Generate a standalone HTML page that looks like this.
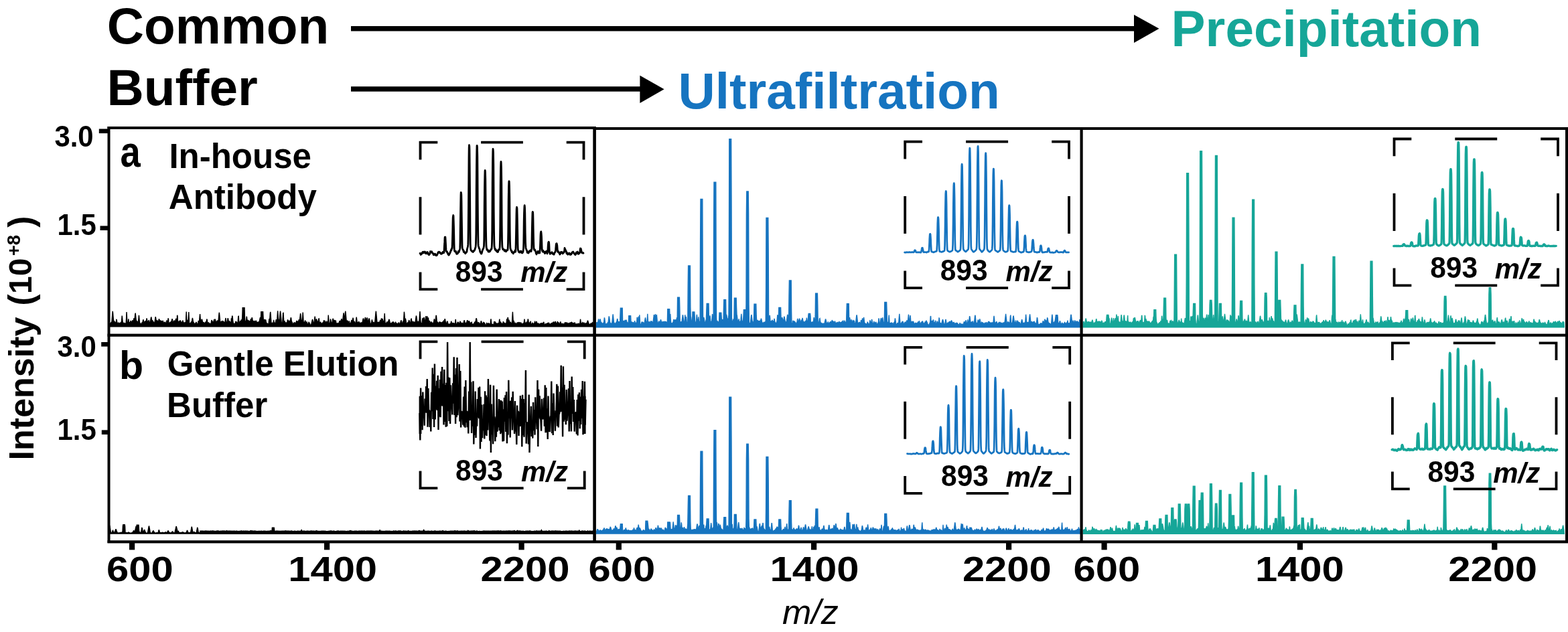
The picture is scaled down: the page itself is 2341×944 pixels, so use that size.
<!DOCTYPE html>
<html><head><meta charset="utf-8"><title>Spectra</title>
<style>html,body{margin:0;padding:0;background:#fff;}svg{display:block;}</style>
</head><body>
<svg width="2341" height="944" viewBox="0 0 2341 944" font-family='"Liberation Sans", Arial, sans-serif'>
<rect width="2341" height="944" fill="#fff"/>
<text transform="translate(159.7,65.3) scale(1.0,1.0)" font-size="76.5" font-weight="bold" font-style="normal" fill="#000" >Common</text>
<text transform="translate(159.6,157) scale(1.0,1.0)" font-size="76.5" font-weight="bold" font-style="normal" fill="#000" >Buffer</text>
<text transform="translate(1012.4,162) scale(1.0,1.0)" font-size="76.5" font-weight="bold" font-style="normal" fill="#1674c0" >Ultrafiltration</text>
<text transform="translate(1748.6,69) scale(1.0,1.0)" font-size="76.5" font-weight="bold" font-style="normal" fill="#16a698" >Precipitation</text>
<rect x="524" y="39" width="1172" height="7.5" fill="#000"/>
<polygon points="1693,22 1730.5,42.8 1693,64" fill="#000"/>
<rect x="524" y="129.2" width="433" height="7.5" fill="#000"/>
<polygon points="955.4,112.8 991.6,133.2 955.4,154" fill="#000"/>
<polygon points="163.7,487.9 163.8,484.4 164.2,482.6 164.6,483.6 165,483.8 165.4,482.5 165.8,481.4 166.2,481.9 166.6,481.7 167,479.8 167.4,474.9 167.8,469.9 168.2,464.9 168.6,467.8 169,472.8 169.4,477.8 169.8,480 170.2,479.4 170.6,479.9 171,480.5 171.4,481.3 171.8,481.7 172.2,482.6 172.6,482.5 173,482 173.4,480.3 173.8,477.4 174.2,477.6 174.6,480.5 175,483.4 175.4,483.1 175.8,482.7 176.2,483.4 176.6,482.5 177,482.2 177.4,482.2 177.8,482.7 178.2,483 178.6,482.9 179,483.5 179.4,484 179.8,483.2 180.2,481.6 180.6,481.3 181,482.1 181.4,481.5 181.8,476.6 182.2,471.6 182.6,474.7 183,479.7 183.4,482.5 183.8,482.9 184.2,482.6 184.6,483.4 185,482.8 185.4,482.4 185.8,482.5 186.2,483.2 186.6,483.8 187,484 187.4,483.9 187.8,482.6 188.2,482.2 188.6,475.9 189,466 189.4,472.7 189.8,482.7 190.2,482.2 190.6,481.9 191,482.6 191.4,479.5 191.8,476.4 192.2,479.2 192.6,482.3 193,482.2 193.4,481.7 193.8,481.7 194.2,482.2 194.6,480.9 195,479.6 195.4,479.4 195.8,480.7 196.2,480.7 196.6,481.2 197,483.3 197.4,480.9 197.8,478.3 198.2,479.3 198.6,481.9 199,482.3 199.4,479.2 199.8,475.4 200.2,477.9 200.6,479.8 201,477.6 201.4,473.5 201.8,469.4 202.2,467.6 202.6,471.7 203,475.8 203.4,479.8 203.8,480.7 204.2,479.9 204.6,479.6 205,480.6 205.4,481.7 205.8,482.7 206.2,483.3 206.6,480.1 207,475.4 207.4,470.7 207.8,474.5 208.2,479.1 208.6,482.5 209,482.5 209.4,483.1 209.8,484 210.2,484 210.6,484.6 211,483.8 211.4,483 211.8,482.2 212.2,481.8 212.6,481.9 213,481 213.4,479.2 213.8,477.3 214.2,478.3 214.6,480.2 215,482 215.4,481.2 215.8,481.6 216.2,480.9 216.6,480.1 217,480.2 217.4,479.7 217.8,480.4 218.2,480.9 218.6,478.1 219,475.4 219.4,477 219.8,479.7 220.2,481.1 220.6,480.4 221,479.9 221.4,479.9 221.8,480.3 222.2,478 222.6,479.4 223,481.8 223.4,484.1 223.8,483.2 224.2,481.9 224.6,479.5 225,477.2 225.4,474.8 225.8,473.4 226.2,475.8 226.6,478.2 227,480.5 227.4,479.2 227.8,478.9 228.2,480.2 228.6,481.5 229,480.8 229.4,481.4 229.8,482.1 230.2,482.6 230.6,483.1 231,481.3 231.4,478.6 231.8,475.9 232.2,473.1 232.6,474.9 233,477.6 233.4,479.9 233.8,480.2 234.2,480 234.6,478.4 235,479.1 235.4,480.7 235.8,481.9 236.2,481.1 236.6,479.9 237,478.1 237.4,476.4 237.8,477.1 238.2,478.8 238.6,480.6 239,479 239.4,478.6 239.8,480.4 240.2,480.9 240.6,479.9 241,479.1 241.4,480.2 241.8,480.4 242.2,481.4 242.6,480.6 243,479.1 243.4,479.5 243.8,481 244.2,482 244.6,481.9 245,481.9 245.4,482 245.8,481.8 246.2,481.3 246.6,482 247,482.8 247.4,481.8 247.8,482.6 248.2,483.2 248.6,480.1 249,478.3 249.4,481.4 249.8,484.1 250.2,481.8 250.6,480.7 251,475.9 251.4,475.6 251.8,480.5 252.2,483.1 252.6,483 253,482.7 253.4,482.9 253.8,481.5 254.2,481.4 254.6,481.6 255,481.4 255.4,480.2 255.8,480 256.2,480.2 256.6,478.2 257,476.1 257.4,477.4 257.8,479.4 258.2,481.5 258.6,483.2 259,481.9 259.4,480.6 259.8,479.3 260.2,478.7 260.6,480 261,481.3 261.4,480.5 261.8,479.2 262.2,477.9 262.6,476.6 263,476 263.4,477.3 263.8,478.6 264.2,479.3 264.6,470.9 265,471.6 265.4,480 265.8,483.4 266.2,482.4 266.6,480.6 267,480.9 267.4,480.3 267.8,479.6 268.2,480.1 268.6,480 269,479.7 269.4,478.4 269.8,479.6 270.2,480.9 270.6,480.9 271,481.7 271.4,482.5 271.8,482.6 272.2,481.8 272.6,479.4 273,478.5 273.4,481.3 273.8,481.7 274.2,482.5 274.6,481.4 275,482.5 275.4,482.1 275.8,482.1 276.2,481.8 276.6,482.9 277,483.5 277.4,484 277.8,474 278.2,465.6 278.6,477.3 279,482.1 279.4,480 279.8,478.8 280.2,478.3 280.6,478.4 281,479.2 281.4,472.4 281.8,466 282.2,475.1 282.6,482.7 283,483.3 283.4,484.2 283.8,484 284.2,482.5 284.6,482.4 285,481.8 285.4,481.1 285.8,481.4 286.2,481.5 286.6,479.3 287,477.1 287.4,474.9 287.8,476.9 288.2,479.1 288.6,481.3 289,481.5 289.4,482.1 289.8,482.8 290.2,483.4 290.6,484 291,484.5 291.4,483 291.8,483.7 292.2,482.4 292.6,481.8 293,481.4 293.4,481.7 293.8,482.8 294.2,483.7 294.6,484.3 295,483.8 295.4,485 295.8,482.2 296.2,479 296.6,479.7 297,480.9 297.4,480.2 297.8,477.3 298.2,472.4 298.6,469 299,473.9 299.4,478.8 299.8,480.2 300.2,479.3 300.6,477.7 301,478.3 301.4,476.6 301.8,478 302.2,479.7 302.6,481.4 303,482.9 303.4,482.4 303.8,481.2 304.2,481.7 304.6,482 305,482.7 305.4,483.2 305.8,482.8 306.2,482.2 306.6,481.7 307,481.1 307.4,480.7 307.8,481.3 308.2,480.3 308.6,477.6 309,476.5 309.4,479.2 309.8,481.9 310.2,482.6 310.6,482.7 311,482.1 311.4,482.6 311.8,482.2 312.2,482.8 312.6,483.1 313,483.5 313.4,483.5 313.8,484.1 314.2,483.9 314.6,483.5 315,483.4 315.4,481 315.8,478.7 316.2,478.2 316.6,480.6 317,480.9 317.4,480.6 317.8,481.2 318.2,481.5 318.6,481.9 319,480.1 319.4,477.8 319.8,477.5 320.2,479.8 320.6,478.8 321,477.1 321.4,477.1 321.8,478.8 322.2,480.5 322.6,480.8 323,480.2 323.4,481.5 323.8,480.8 324.2,478.8 324.6,479.2 325,480.6 325.4,479.5 325.8,479.9 326.2,477.3 326.6,473 327,468.7 327.4,466.7 327.8,471 328.2,475.3 328.6,479.6 329,480.5 329.4,480.8 329.8,481.2 330.2,480.8 330.6,480.5 331,481 331.4,479.9 331.8,479 332.2,480.1 332.6,481.1 333,480.6 333.4,480.7 333.8,480.2 334.2,481.2 334.6,481.6 335,482.1 335.4,481.7 335.8,482.3 336.2,480.1 336.6,476.8 337,475 337.4,478.4 337.8,481.7 338.2,482.1 338.6,481.8 339,481.6 339.4,479.7 339.8,477.4 340.2,475.2 340.6,476.5 341,478.7 341.4,479.7 341.8,480.4 342.2,479.1 342.6,480.2 343,480.5 343.4,481.3 343.8,482.9 344.2,483 344.6,483 345,480.7 345.4,475.4 345.8,478.2 346.2,476.4 346.6,472.2 347,471.7 347.4,475.9 347.8,480.2 348.2,482.1 348.6,483.3 349,485.3 349.4,484.8 349.8,483.8 350.2,484 350.6,484 351,482.8 351.4,482.1 351.8,480.5 352.2,480.8 352.6,480.7 353,480.9 353.4,481.3 353.8,481.9 354.2,482.7 354.6,483.6 355,483.7 355.4,478.1 355.8,472.5 356.2,472.3 356.6,477.9 357,482.9 357.4,484.2 357.8,482.9 358.2,481.5 358.6,480.1 359,479.2 359.4,480.2 359.8,479.8 360.2,477.3 360.6,479 361,479.9 361.4,477.2 361.8,473.8 362.2,459.7 362.6,459.7 363,459.7 363.4,459.7 363.8,459.7 364.2,459.7 364.6,459.7 365,459.7 365.4,473.8 365.8,479.1 366.2,479.4 366.6,479.7 367,481.1 367.4,481.9 367.8,477.3 368.2,472.6 368.6,474.5 369,479.2 369.4,479.3 369.8,477.7 370.2,479.2 370.6,480.2 371,479.1 371.4,478.7 371.8,480.5 372.2,480 372.6,480 373,479.8 373.4,481.2 373.8,479.6 374.2,477.6 374.6,476.1 375,478.2 375.4,478.8 375.8,476.4 376.2,474.1 376.6,475.3 377,477.6 377.4,479.9 377.8,481.7 378.2,480.4 378.6,479.1 379,480 379.4,481.3 379.8,482.6 380.2,481.3 380.6,479.5 381,479.1 381.4,480.9 381.8,481.3 382.2,479.7 382.6,479.4 383,481 383.4,481.6 383.8,481.6 384.2,481.8 384.6,482 385,480.6 385.4,482.2 385.8,482.6 386.2,482.8 386.6,480.6 387,480.5 387.4,479.1 387.8,477.3 388.2,475.4 388.6,473.9 389,475.7 389.4,477.5 389.8,465.7 390.2,465.7 390.6,465.7 391,465.7 391.4,465.7 391.8,465.7 392.2,465.7 392.6,465.7 393,473.1 393.4,479.8 393.8,478.3 394.2,478.2 394.6,478.2 395,477.1 395.4,478.1 395.8,479.6 396.2,479.1 396.6,477.3 397,479.1 397.4,480.9 397.8,482.5 398.2,483 398.6,482.4 399,483.4 399.4,484.1 399.8,483.9 400.2,484.4 400.6,483.8 401,483.5 401.4,480.4 401.8,476.2 402.2,477.4 402.6,478.7 403,473.1 403.4,467.6 403.8,465.8 404.2,471.4 404.6,477 405,482.5 405.4,483.9 405.8,483.3 406.2,482.8 406.6,482.2 407,482.5 407.4,483 407.8,483.6 408.2,481.2 408.6,477.9 409,480.6 409.4,481.9 409.8,482.1 410.2,482.4 410.6,483.3 411,484.3 411.4,482.2 411.8,479.7 412.2,477.3 412.6,478.6 413,481 413.4,482.5 413.8,476.7 414.2,470.5 414.6,464.3 415,469.6 415.4,475.8 415.8,480.7 416.2,479.7 416.6,478.6 417,477.5 417.4,476.2 417.8,471.9 418.2,467.6 418.6,464.5 419,468.8 419.4,473 419.8,477.3 420.2,481.6 420.6,483.4 421,482.6 421.4,482 421.8,481.7 422.2,474.7 422.6,467.6 423,467.4 423.4,474.5 423.8,481.3 424.2,480.1 424.6,479.9 425,479.7 425.4,481.3 425.8,481.9 426.2,482.4 426.6,481.4 427,482.6 427.4,483 427.8,483.4 428.2,482 428.6,482.2 429,479.9 429.4,477.5 429.8,478 430.2,480.4 430.6,480.7 431,479.8 431.4,480 431.8,478.8 432.2,480.2 432.6,481.8 433,481 433.4,480.3 433.8,477.4 434.2,474.4 434.6,474.8 435,477.8 435.4,480.7 435.8,481.2 436.2,481.2 436.6,482.7 437,484 437.4,483.5 437.8,483.4 438.2,484 438.6,482.6 439,482.1 439.4,481.2 439.8,482.6 440.2,482.6 440.6,483.5 441,482.6 441.4,482.8 441.8,481.9 442.2,480.9 442.6,480 443,479 443.4,479.9 443.8,480.4 444.2,481.2 444.6,480.8 445,480.1 445.4,479.6 445.8,479.2 446.2,477.9 446.6,478 447,479.3 447.4,478.3 447.8,474.9 448.2,471.5 448.6,468.1 449,470.7 449.4,474.2 449.8,477.6 450.2,479.2 450.6,479.1 451,481.3 451.4,478.8 451.8,472.5 452.2,466.6 452.6,472.9 453,479.2 453.4,483.2 453.8,483.6 454.2,481.8 454.6,481.2 455,482.2 455.4,479.3 455.8,478.5 456.2,481.2 456.6,481.7 457,480.7 457.4,481.8 457.8,481.1 458.2,480.7 458.6,482.6 459,484.5 459.4,484.5 459.8,483.8 460.2,483.6 460.6,482.7 461,481.3 461.4,481.6 461.8,482.2 462.2,483.3 462.6,483.7 463,485.3 463.4,485.4 463.8,485.9 464.2,485.3 464.6,484.6 465,483.5 465.4,481.7 465.8,479.9 466.2,478.2 466.6,477 467,478.8 467.4,480.5 467.8,482.3 468.2,482.4 468.6,483.3 469,481.7 469.4,479.5 469.8,475.5 470.2,472.5 470.6,476.5 471,480.4 471.4,480.4 471.8,478.8 472.2,477.2 472.6,476.5 473,478.1 473.4,479.7 473.8,480.2 474.2,480.9 474.6,479.8 475,480.6 475.4,479 475.8,476.1 476.2,475.9 476.6,478.8 477,481.7 477.4,483.1 477.8,482.3 478.2,481.5 478.6,481.2 479,482 479.4,482.8 479.8,483.6 480.2,483.8 480.6,484.9 481,483.4 481.4,481.8 481.8,482.2 482.2,483.8 482.6,482.2 483,480.7 483.4,479.1 483.8,478.5 484.2,480.1 484.6,480.2 485,478.9 485.4,480.2 485.8,481.5 486.2,482.6 486.6,481.9 487,482 487.4,480.5 487.8,479.6 488.2,481.3 488.6,483.1 489,484 489.4,483.5 489.8,478.7 490.2,470.5 490.6,475 491,483.2 491.4,483.3 491.8,482.2 492.2,483.1 492.6,482.6 493,480.3 493.4,476.7 493.8,477.2 494.2,480.8 494.6,481.7 495,482.9 495.4,482.8 495.8,482.5 496.2,480.3 496.6,478.1 497,475.9 497.4,476.3 497.8,478.6 498.2,480.8 498.6,480.7 499,478.6 499.4,478.5 499.8,481.6 500.2,482.2 500.6,481.9 501,478.9 501.4,479.1 501.8,482.1 502.2,482.9 502.6,484.2 503,483.8 503.4,482.8 503.8,483.6 504.2,482.8 504.6,482.9 505,483.7 505.4,483.9 505.8,482.6 506.2,482.1 506.6,480.8 507,479.2 507.4,479.6 507.8,481.2 508.2,480.7 508.6,479.3 509,478.8 509.4,478.5 509.8,476.2 510.2,477.7 510.6,480 511,482.1 511.4,480.8 511.8,477.5 512.2,474.1 512.6,470.7 513,467.3 513.4,470.3 513.8,473.6 514.2,477 514.6,475.8 515,471.6 515.4,467.4 515.8,464.7 516.2,468.9 516.6,473.1 517,477.3 517.4,481.5 517.8,480.7 518.2,479.7 518.6,478.7 519,479.4 519.4,480.4 519.8,481.1 520.2,482 520.6,483.4 521,480.7 521.4,479.4 521.8,482.1 522.2,484.8 522.6,484.6 523,483.4 523.4,483.8 523.8,482.3 524.2,480.9 524.6,479.4 525,478 525.4,478.9 525.8,480.3 526.2,479.5 526.6,477.1 527,474.7 527.4,476.3 527.8,478.7 528.2,481 528.6,481.3 529,480.1 529.4,481.2 529.8,482.4 530.2,483.6 530.6,484.3 531,483.1 531.4,479.9 531.8,476.7 532.2,473.5 532.6,476.7 533,479.9 533.4,483.1 533.8,483 534.2,481.9 534.6,481.1 535,482.1 535.4,481.6 535.8,480.6 536.2,481.1 536.6,482.2 537,483 537.4,483.2 537.8,481.9 538.2,483.1 538.6,482.4 539,482 539.4,482 539.8,482.4 540.2,482.1 540.6,482.3 541,481.7 541.4,479.8 541.8,477.9 542.2,476.1 542.6,475.6 543,477.5 543.4,479.4 543.8,480.1 544.2,480.5 544.6,478.3 545,476.1 545.4,474 545.8,475.1 546.2,477.3 546.6,479.4 547,479.8 547.4,477.6 547.8,475.5 548.2,474.5 548.6,476.6 549,478.8 549.4,480.9 549.8,481.2 550.2,479.8 550.6,477.6 551,475.5 551.4,476.2 551.8,478.3 552.2,480.5 552.6,482.6 553,484.7 553.4,484.8 553.8,484.6 554.2,483.2 554.6,481.8 555,479.6 555.4,477.5 555.8,479.7 556.2,481.8 556.6,481.4 557,481.9 557.4,481 557.8,482.3 558.2,481.4 558.6,482.5 559,481.4 559.4,481.9 559.8,480.2 560.2,475.9 560.6,471.6 561,467.3 561.4,464.7 561.8,469 562.2,473.3 562.6,477.5 563,481.8 563.4,482.3 563.8,481.4 564.2,481.5 564.6,482.5 565,482.3 565.4,481.4 565.8,481.9 566.2,482.3 566.6,481.7 567,480.5 567.4,479.2 567.8,478 568.2,479 568.6,480.2 569,480.4 569.4,475.4 569.8,480.4 570.2,479.4 570.6,477.7 571,476 571.4,477.7 571.8,479.3 572.2,480.3 572.6,480.1 573,481.2 573.4,481 573.8,474.3 574.2,468.1 574.6,474.8 575,481.6 575.4,483.5 575.8,484.6 576.2,483.4 576.6,483.2 577,482.4 577.4,481.3 577.8,480.7 578.2,481.7 578.6,482.7 579,482.1 579.4,480.7 579.8,481.1 580.2,479.3 580.6,477.6 581,476.8 581.4,478.5 581.8,480.2 582.2,481.9 582.6,484.4 583,484.6 583.4,484 583.8,482.9 584.2,483.1 584.6,482.9 585,482 585.4,481.9 585.8,482.4 586.2,481.2 586.6,480.8 587,480.7 587.4,481.4 587.8,481.7 588.2,482.7 588.6,483.1 589,483.4 589.4,483.8 589.8,483.3 590.2,481.5 590.6,480.7 591,482.5 591.4,483.9 591.8,483.2 592.2,483 592.6,483.6 593,483.9 593.4,484 593.8,483.8 594.2,482.7 594.6,483.5 595,482.7 595.4,481.5 595.8,482.7 596.2,483.9 596.6,484.6 597,483.9 597.4,483.5 597.8,482.2 598.2,480.8 598.6,479.1 599,478.5 599.4,480.1 599.8,481.7 600.2,483.1 600.6,483.5 601,483 601.4,481.4 601.8,479.7 602.2,479.5 602.6,478.8 603,472.3 603.4,465.7 603.8,468.6 604.2,475.2 604.6,479.6 605,477.3 605.4,475.6 605.8,477.8 606.2,480 606.6,482.2 607,483.4 607.4,483.1 607.8,483.4 608.2,483.9 608.6,482.1 609,481.2 609.4,482.1 609.8,481.2 610.2,480.1 610.6,478.2 611,478.9 611.4,480.8 611.8,482.7 612.2,484.3 612.6,483.9 613,481.4 613.4,478.8 613.8,476.3 614.2,476.2 614.6,478.8 615,481.3 615.4,482.3 615.8,481.5 616.2,480.8 616.6,480.5 617,481.7 617.4,481.2 617.8,481 618.2,481 618.6,481.9 619,481.8 619.4,482.3 619.8,482.6 620.2,479.8 620.6,477.1 621,474.3 621.4,471.5 621.8,473 622.2,475.8 622.6,478.6 623,481.4 623.4,481.7 623.8,480.8 624.2,480 624.6,480.9 625,480.4 625.4,480.2 625.8,480 626.2,475.8 626.6,469.6 627,465.1 627.4,471.2 627.8,477.4 628.2,482.5 628.6,482.5 629,483.1 629.4,483.8 629.8,484.5 630.2,481.3 630.6,478 631,474.8 631.4,478.1 631.8,481.4 632.2,479.1 632.6,476.2 633,473.8 633.4,476.6 633.8,479.5 634.2,481.3 634.6,481.7 635,478.4 635.4,475.1 635.8,472.2 636.2,475.5 636.6,478.8 637,481.2 637.4,474.8 637.8,472.2 638.2,478.7 638.6,480.3 639,477.2 639.4,474.4 639.8,477.5 640.2,480.6 640.6,483.2 641,480 641.4,479.1 641.8,482.4 642.2,483.5 642.6,483.3 643,482.2 643.4,481.2 643.8,480.4 644.2,481.5 644.6,482.4 645,482.8 645.4,482.3 645.8,482.2 646.2,483.5 646.6,483.2 647,483.8 647.4,482.1 647.8,479.6 648.2,477 648.6,476.6 649,479.1 649.4,481.7 649.8,483.9 650.2,480.3 650.6,475.9 651,471.5 651.4,471 651.8,475.4 652.2,479.8 652.6,482.4 653,481.5 653.4,480.9 653.8,481.8 654.2,482.5 654.6,482.5 655,482.5 655.4,482 655.8,482 656.2,480.9 656.6,481.2 657,481.1 657.4,481.2 657.8,481.6 658.2,482.6 658.6,482 659,482.2 659.4,482.2 659.8,481.9 660.2,481.4 660.6,482.2 661,481.1 661.4,481.2 661.8,481.1 662.2,479.8 662.6,478.5 663,479.5 663.4,480.7 663.8,478.4 664.2,476.1 664.6,477.3 665,479.6 665.4,481.9 665.8,484.2 666.2,482.8 666.6,482.7 667,481.7 667.4,480.5 667.8,479.7 668.2,480.4 668.6,482.4 669,483.8 669.4,484 669.8,484.3 670.2,484.3 670.6,484.2 671,484.7 671.4,484.2 671.8,484 672.2,483.6 672.6,483.4 673,483.3 673.4,481.2 673.8,479.7 674.2,482.2 674.6,483.4 675,482.9 675.4,483.5 675.8,482.7 676.2,482.5 676.6,482.9 677,482.7 677.4,482.8 677.8,483.9 678.2,483.4 678.6,484 679,484.5 679.4,484.2 679.8,480.6 680.2,476.8 680.6,480.7 681,484.4 681.4,483.6 681.8,484.3 682.2,484.4 682.6,483.8 683,482 683.4,482.2 683.8,481.2 684.2,481.3 684.6,482.3 685,483.4 685.4,484 685.8,483.6 686.2,482.4 686.6,481.3 687,480.2 687.4,480.6 687.8,481.7 688.2,482.9 688.6,483.5 689,483.8 689.4,483 689.8,482 690.2,483.2 690.6,483 691,484.1 691.4,484.3 691.8,483.8 692.2,482 692.6,480.2 693,478.4 693.4,478.8 693.8,480.6 694.2,482.3 694.6,484.1 695,484.5 695.4,483.2 695.8,481.9 696.2,482.5 696.6,482.1 697,480.7 697.4,479.3 697.8,478.1 698.2,479.5 698.6,480.8 699,481.3 699.4,481.4 699.8,480.4 700.2,479.3 700.6,480.1 701,481.1 701.4,482.2 701.8,483 702.2,483.6 702.6,482.6 703,482 703.4,481.7 703.8,481.8 704.2,481.4 704.6,482.7 705,483.7 705.4,485 705.8,484.8 706.2,484.6 706.6,485 707,483.8 707.4,483.5 707.8,483.1 708.2,482.5 708.6,481.5 709,481.8 709.4,480.9 709.8,480.2 710.2,479.9 710.6,477.7 711,475.4 711.4,475.8 711.8,478 712.2,480.3 712.6,482.5 713,482.1 713.4,483.2 713.8,482.5 714.2,481.8 714.6,482.2 715,482 715.4,482.6 715.8,483.2 716.2,483.7 716.6,484.7 717,484.1 717.4,482.7 717.8,481.3 718.2,479.8 718.6,479.9 719,481.3 719.4,482.4 719.8,483.6 720.2,483.3 720.6,483.8 721,483.5 721.4,482.5 721.8,481.3 722.2,481.6 722.6,482.5 723,482.5 723.4,482.4 723.8,483.4 724.2,484.4 724.6,485.8 725,485.5 725.4,485.4 725.8,485.4 726.2,484 726.6,482.5 727,482.7 727.4,484.2 727.8,484 728.2,484.4 728.6,484.2 729,482.6 729.4,483 729.8,484.1 730.2,484.8 730.6,483.9 731,484.4 731.4,483.9 731.8,483.8 732.2,483.4 732.6,478.6 733,476.4 733.4,481.1 733.8,483.9 734.2,484.4 734.6,484.9 735,484.5 735.4,484.5 735.8,484.7 736.2,484.9 736.6,485.2 737,485.4 737.4,482.9 737.8,480.1 738.2,481.1 738.6,481.7 739,480.5 739.4,481 739.8,481.9 740.2,482.4 740.6,482.9 741,483.1 741.4,483.1 741.8,483.4 742.2,484.3 742.6,483.3 743,483.3 743.4,484.4 743.8,483.8 744.2,482.9 744.6,483.3 745,482.1 745.4,479 745.8,476.6 746.2,479.7 746.6,481.2 747,480.8 747.4,481 747.8,481.6 748.2,482.1 748.6,482.7 749,483.9 749.4,484.3 749.8,484.5 750.2,483.4 750.6,482.9 751,481.7 751.4,480.3 751.8,481.6 752.2,482.4 752.6,483.1 753,482 753.4,483 753.8,483.9 754.2,483.5 754.6,483.1 755,483.4 755.4,483.7 755.8,483.3 756.2,480.7 756.6,477 757,476.3 757.4,479.7 757.8,476.8 758.2,473.9 758.6,475.8 759,478.7 759.4,479.8 759.8,477.7 760.2,478.9 760.6,481 761,481.6 761.4,481.4 761.8,481.5 762.2,480.9 762.6,481.9 763,482.9 763.4,483.9 763.8,483.5 764.2,483.3 764.6,479.2 765,472.4 765.4,465.8 765.8,472.6 766.2,479.5 766.6,479.9 767,478.9 767.4,480.7 767.8,482.5 768.2,483.6 768.6,482.6 769,482.3 769.4,483.2 769.8,483.9 770.2,484.2 770.6,483.6 771,484.2 771.4,484.2 771.8,482.9 772.2,481.6 772.6,482.3 773,482.5 773.4,482.1 773.8,482.6 774.2,481.8 774.6,482.3 775,482.2 775.4,481.8 775.8,481.6 776.2,482.1 776.6,483.1 777,483.1 777.4,482.3 777.8,481.7 778.2,482.7 778.6,483.8 779,484.6 779.4,484 779.8,484 780.2,483.6 780.6,483.2 781,483.1 781.4,483.2 781.8,483.5 782.2,482.3 782.6,479.4 783,476.5 783.4,479.1 783.8,482 784.2,483.3 784.6,482.2 785,482.4 785.4,483 785.8,482.4 786.2,481.7 786.6,481 787,480.7 787.4,481.7 787.8,479.4 788.2,476.5 788.6,477.3 789,480.2 789.4,483.1 789.8,483.2 790.2,482.6 790.6,482.2 791,482.8 791.4,483.1 791.8,481.2 792.2,479.7 792.6,482.9 793,484.1 793.4,484.5 793.8,484.9 794.2,483.7 794.6,483.3 795,482.3 795.4,482.8 795.8,483.8 796.2,484.9 796.6,483.9 797,483.5 797.4,483.5 797.8,482.5 798.2,482.1 798.6,479.6 799,481.8 799.4,484.1 799.8,484.3 800.2,482.8 800.6,481.3 801,480 801.4,481.5 801.8,482.4 802.2,483.9 802.6,483 803,483.3 803.4,483.7 803.8,483.9 804.2,483.3 804.6,483.9 805,484.6 805.4,485 805.8,484.4 806.2,483.8 806.6,483.3 807,483.4 807.4,484 807.8,483.8 808.2,482.2 808.6,483.6 809,483.6 809.4,483.8 809.8,483.2 810.2,482.3 810.6,483.4 811,482.6 811.4,481.3 811.8,480.9 812.2,482.6 812.6,484.2 813,485.4 813.4,485.1 813.8,484.8 814.2,484.6 814.6,483.8 815,483.9 815.4,483.7 815.8,483.6 816.2,484.7 816.6,484.1 817,483.4 817.4,482.8 817.8,483.4 818.2,482.9 818.6,482.6 819,482.9 819.4,482.3 819.8,483 820.2,483.7 820.6,484.4 821,484.2 821.4,484.6 821.8,484.3 822.2,483.9 822.6,483.3 823,482.8 823.4,482.7 823.8,483.2 824.2,483 824.6,482 825,482.9 825.4,482.4 825.8,481.4 826.2,481 826.6,482 827,482.5 827.4,482.6 827.8,482.5 828.2,481.2 828.6,481 829,480.1 829.4,480.9 829.8,481.8 830.2,482.6 830.6,483.7 831,484.1 831.4,484.6 831.8,482.8 832.2,480.1 832.6,481 833,483.1 833.4,482.2 833.8,481.6 834.2,482.6 834.6,483.5 835,484.4 835.4,484.9 835.8,483.6 836.2,482.2 836.6,480.9 837,480.9 837.4,482.2 837.8,483.6 838.2,484.5 838.6,484 839,484.6 839.4,484.2 839.8,483.8 840.2,483.3 840.6,483.2 841,483.8 841.4,484.4 841.8,485 842.2,484.9 842.6,484 843,482.7 843.4,481.9 843.8,481.7 844.2,481.9 844.6,482.3 845,482 845.4,482.3 845.8,482.7 846.2,482.5 846.6,482.1 847,482.7 847.4,483.3 847.8,483.9 848.2,484.4 848.6,483.2 849,483.1 849.4,483.4 849.8,482.9 850.2,481.9 850.6,483.8 851,482.6 851.4,482.6 851.8,482.4 852.2,481.3 852.6,481.9 853,481.8 853.4,481.2 853.8,481.5 854.2,482.1 854.6,482.3 855,482.5 855.4,482.6 855.8,482.7 856.2,482.6 856.6,482.5 857,483 857.4,483.5 857.8,482.2 858.2,481.6 858.6,483.5 859,484.2 859.4,484.5 859.8,483.7 860.2,484.4 860.6,483.9 861,484.9 861.4,483.7 861.8,484.6 862.2,484.2 862.6,483.9 863,483.4 863.4,483.8 863.8,484.3 864.2,483.7 864.6,484.5 865,485.2 865.4,484.1 865.8,483.2 866.2,480.1 866.6,476.7 867,480.5 867.4,482.3 867.8,483.7 868.2,484.1 868.6,483.7 869,482.9 869.4,482.1 869.8,481.6 870.2,482.4 870.6,483.1 871,482.8 871.4,483.1 871.8,482.1 872.2,482.1 872.6,483.1 873,484 873.4,484.6 873.8,483.8 874.2,483.1 874.6,482.8 875,483.6 875.4,483.3 875.8,483.5 876.2,482.6 876.6,481.4 877,480.1 877.4,478.8 877.8,479.5 878.2,480.8 878.6,482 879,483.3 879.4,484.2 879.8,485.2 880.2,485.5 880.6,484.5 881,484.7 881.4,484.2 881.8,483.6 882.2,483 882.6,483.3 883,483.9 883.4,483.8 883.8,483.4 884.2,482.1 884.6,481.7 885,481.2 885.3,487.9" fill="#000" stroke="#000" stroke-width="1.4" stroke-linejoin="miter" stroke-miterlimit="2"/>
<polygon points="163.7,797.1 163.8,784.8 164.2,787.3 164.6,789.8 165,792.3 165.4,794.8 165.8,795.8 166.2,795.9 166.6,795.9 167,795.9 167.4,794.9 167.8,793.8 168.2,792.7 168.6,792.3 169,793.4 169.4,794.6 169.8,795.7 170.2,795.9 170.6,795.8 171,795 171.4,794 171.8,793.1 172.2,792.2 172.6,791.2 173,790.3 173.4,791.2 173.8,792.2 174.2,793.1 174.6,794 175,795 175.4,795.9 175.8,795.9 176.2,795.9 176.6,796.1 177,796 177.4,796 177.8,795.9 178.2,796 178.6,795.9 179,795.7 179.4,795.5 179.8,795.4 180.2,795.5 180.6,795.7 181,795.5 181.4,795.6 181.8,795.3 182.2,794.9 182.6,794.5 183,794.1 183.4,785.9 183.8,783.7 184.2,783.7 184.6,783.7 185,783.7 185.4,783.7 185.8,783.7 186.2,783.7 186.6,785.9 187,794.9 187.4,795.8 187.8,795.7 188.2,795.7 188.6,795.8 189,795.8 189.4,795.7 189.8,795.9 190.2,795.9 190.6,795.8 191,795.5 191.4,795.3 191.8,795 192.2,795.1 192.6,795.4 193,795.6 193.4,795.9 193.8,796 194.2,796.3 194.6,796.3 195,796.2 195.4,796.1 195.8,796.1 196.2,795.9 196.6,795.9 197,795.7 197.4,795.7 197.8,795.6 198.2,794.9 198.6,794.2 199,793.5 199.4,792.8 199.8,792.6 200.2,793.3 200.6,794 201,794.7 201.4,793.6 201.8,791.8 202.2,790.1 202.6,788.4 203,786.6 203.4,786.9 203.8,788.6 204.2,784.2 204.6,784.2 205,784.2 205.4,784.2 205.8,784.2 206.2,784.2 206.6,784.2 207,784.2 207.4,790.7 207.8,793.9 208.2,794.3 208.6,794.7 209,795.1 209.4,795.6 209.8,795.9 210.2,796.1 210.6,794.9 211,792.7 211.4,790.6 211.8,788.4 212.2,788.5 212.6,790.7 213,792.8 213.4,795 213.8,795.4 214.2,794.4 214.6,793.4 215,792.4 215.4,791.4 215.8,791.4 216.2,792.4 216.6,793.4 217,794.4 217.4,795.4 217.8,796.2 218.2,796.1 218.6,796.1 219,796.2 219.4,796.1 219.8,796 220.2,795.8 220.6,795.2 221,793 221.4,790.7 221.8,788.4 222.2,786.2 222.6,785.7 223,788 223.4,790.2 223.8,792.5 224.2,794.7 224.6,795.8 225,795.9 225.4,796.2 225.8,796.2 226.2,796.3 226.6,796.2 227,795.6 227.4,794.9 227.8,794.3 228.2,793.7 228.6,793.1 229,792.8 229.4,793.4 229.8,794.1 230.2,794.7 230.6,795.3 231,795.9 231.4,796 231.8,796.1 232.2,796.2 232.6,796.1 233,795.9 233.4,795.7 233.8,795.7 234.2,795.9 234.6,795.9 235,795.8 235.4,795.7 235.8,795.7 236.2,794.7 236.6,793.5 237,792.2 237.4,791.4 237.8,792.7 238.2,794 238.6,795.2 239,796.1 239.4,795.8 239.8,795.8 240.2,795.8 240.6,795.6 241,795.6 241.4,795.7 241.8,795.5 242.2,795.3 242.6,795.2 243,795.3 243.4,795.5 243.8,795.7 244.2,795.9 244.6,795.8 245,795.6 245.4,795.6 245.8,795.6 246.2,795.3 246.6,795 247,794.7 247.4,794.9 247.8,795.3 248.2,795.4 248.6,795.4 249,795.7 249.4,795.6 249.8,794.8 250.2,794 250.6,793.2 251,792.5 251.4,793.2 251.8,794 252.2,794.8 252.6,795.6 253,795.5 253.4,795.7 253.8,795.8 254.2,795.9 254.6,795.9 255,796 255.4,795.8 255.8,795.6 256.2,795.2 256.6,794.7 257,794.3 257.4,793.9 257.8,794.1 258.2,794.6 258.6,795 259,795.4 259.4,795.9 259.8,796.3 260.2,796.4 260.6,796.3 261,795 261.4,793.3 261.8,791.6 262.2,789.9 262.6,788.2 263,786.5 263.4,786.6 263.8,788.3 264.2,790 264.6,791.7 265,793.4 265.4,794.7 265.8,794 266.2,793.4 266.6,793.8 267,794.5 267.4,795.2 267.8,795.7 268.2,795.6 268.6,795.7 269,795.6 269.4,795.5 269.8,795.5 270.2,795.4 270.6,795.4 271,795.4 271.4,795.4 271.8,795.3 272.2,795 272.6,794.7 273,794.7 273.4,795.1 273.8,795.4 274.2,795.7 274.6,796 275,795.8 275.4,796 275.8,796.1 276.2,796 276.6,795.9 277,795.9 277.4,795.7 277.8,795.6 278.2,795.2 278.6,794.2 279,793.3 279.4,792.4 279.8,792.6 280.2,793.6 280.6,794.5 281,795.4 281.4,796 281.8,795.9 282.2,795.8 282.6,795.7 283,795.6 283.4,795.8 283.8,795.9 284.2,796.1 284.6,795.5 285,793.3 285.4,791.1 285.8,788.9 286.2,786.7 286.6,788.2 287,790.4 287.4,792.6 287.8,794.8 288.2,795.8 288.6,795.5 289,795.1 289.4,794.8 289.8,794.4 290.2,794.7 290.6,795.1 291,795.4 291.4,795.7 291.8,795.9 292.2,795.8 292.6,796 293,796.1 293.4,794.4 293.8,792.3 294.2,790.3 294.6,788.3 295,788.5 295.4,790.5 295.8,792.6 296.2,794.6 296.6,796 297,795.8 297.4,795.8 297.8,795.8 298.2,795.7 298.3,797.1" fill="#000" stroke="#000" stroke-width="1.4" stroke-linejoin="miter" stroke-miterlimit="2"/>
<polygon points="298.7,797.2 298.8,793.2 299.2,793.2 299.6,793.2 300,793.5 300.4,793.3 300.8,793 301.2,793.2 301.6,793.2 302,793.1 302.4,793.3 302.8,793.3 303.2,793.3 303.6,793.4 304,793.4 304.4,793.2 304.8,793.3 305.2,793.4 305.6,793.3 306,793.1 306.4,793.1 306.8,793.1 307.2,792.9 307.6,793.1 308,793.1 308.4,793.1 308.8,793.2 309.2,793.5 309.6,793.3 310,793.3 310.4,793.4 310.8,793.3 311.2,793.3 311.6,793.3 312,793.4 312.4,793.5 312.8,793.4 313.2,793.2 313.6,793.3 314,793.2 314.4,793.1 314.8,793.3 315.2,793.3 315.6,793.2 316,793.2 316.4,793.2 316.8,793 317.2,792.9 317.6,792.9 318,793 318.4,793 318.8,793.2 319.2,793.2 319.6,793.4 320,793.4 320.4,793.3 320.8,793.5 321.2,793.6 321.6,793.5 322,793.4 322.4,793.5 322.8,793.2 323.2,793.1 323.6,793 324,793.2 324.4,793 324.8,793.3 325.2,793.3 325.6,792.9 326,793 326.4,793.4 326.8,793.4 327.2,793.5 327.6,793.6 328,793.4 328.4,793.3 328.8,793.4 329.2,793.3 329.6,793.3 330,793.4 330.4,793.3 330.8,793.1 331.2,793.1 331.6,793.1 332,792.9 332.4,793.1 332.8,793.1 333.2,793.1 333.6,793 334,793.1 334.4,793 334.8,793 335.2,793.2 335.6,793.1 336,793.1 336.4,793.2 336.8,793.3 337.2,793.3 337.6,793.3 338,793.1 338.4,792.6 338.8,793.2 339.2,793.3 339.6,793.3 340,793.2 340.4,793 340.8,793.1 341.2,793.2 341.6,793.1 342,793.1 342.4,793.1 342.8,793 343.2,793 343.6,793.1 344,793.3 344.4,793.4 344.8,793.3 345.2,793.3 345.6,793.3 346,793.3 346.4,793.3 346.8,793.4 347.2,793.5 347.6,793.2 348,793.3 348.4,793.2 348.8,793.2 349.2,793.2 349.6,793.2 350,793.3 350.4,793.2 350.8,793.3 351.2,793.4 351.6,793.6 352,793.4 352.4,793.4 352.8,793.2 353.2,793.2 353.6,793.1 354,793.3 354.4,793.4 354.8,793.6 355.2,793.6 355.6,793.7 356,793.5 356.4,793.4 356.8,793.4 357.2,793.4 357.6,793.2 358,793.5 358.4,793.6 358.8,793.7 359.2,793.5 359.6,792.9 360,793.1 360.4,793.3 360.8,793.1 361.2,793.2 361.6,793.5 362,793.3 362.4,793.4 362.8,793.3 363.2,793.1 363.6,793 364,793.1 364.4,793.2 364.8,793.2 365.2,793.3 365.6,793.3 366,793.3 366.4,793.2 366.8,793.1 367.2,793.3 367.6,793.3 368,793.2 368.4,793.2 368.8,793.4 369.2,793.2 369.6,793.1 370,793.2 370.4,793.4 370.8,793.4 371.2,793.5 371.6,793.7 372,793.7 372.4,793.5 372.8,793.3 373.2,793.2 373.6,793 374,793 374.4,793 374.8,792.5 375.2,793 375.6,793.2 376,793.1 376.4,793 376.8,792.9 377.2,793 377.6,793.1 378,793.3 378.4,793.3 378.8,793.5 379.2,793.4 379.6,793.2 380,793 380.4,793.2 380.8,793.1 381.2,793.3 381.6,793.3 382,793.4 382.4,793.4 382.8,793.5 383.2,793.4 383.6,793.5 384,793.6 384.4,793.5 384.8,793.6 385.2,793.5 385.6,793.5 386,793.5 386.4,793.4 386.8,793.3 387.2,793.3 387.6,793.4 388,793.4 388.4,793.5 388.8,793.4 389.2,793.4 389.6,793.2 390,793.2 390.4,793.2 390.8,793.3 391.2,793.4 391.6,793.6 392,793.6 392.4,793.5 392.8,793.4 393.2,793.2 393.6,793.2 394,793.1 394.4,793.1 394.8,793.2 395.2,793.2 395.6,793.2 396,793.2 396.4,793.4 396.8,793.4 397.2,793.5 397.6,793.4 398,793.4 398.4,793.4 398.8,793.5 399.2,793.4 399.6,793.3 400,793.5 400.4,793.4 400.8,793.3 401.2,793.4 401.6,793.3 402,793.3 402.4,793.3 402.8,793.2 403.2,793.3 403.6,793 404,792.5 404.4,792.6 404.8,793 405.2,793.2 405.6,793.3 406,793.3 406.4,788.2 406.8,788.2 407.2,788.2 407.6,788.2 408,788.2 408.4,788.2 408.8,788.2 409.2,788.2 409.6,791.2 410,793.5 410.4,793.4 410.8,793.4 411.2,793.5 411.6,793.3 412,793.2 412.4,793.2 412.8,793.2 413.2,793 413.6,793.2 414,793.2 414.4,793.2 414.8,793.2 415.2,793.3 415.6,793.2 416,793.4 416.4,793.5 416.8,793.3 417.2,793.3 417.6,793.4 418,793.4 418.4,793.3 418.8,793.5 419.2,793.5 419.6,793.4 420,793.3 420.4,793.4 420.8,793.1 421.2,793.1 421.6,793.4 422,793.3 422.4,793.3 422.8,793.4 423.2,793.2 423.6,793.2 424,793.3 424.4,793.2 424.8,793 425.2,793.1 425.6,793.2 426,793.1 426.4,793.3 426.8,792.8 427.2,793.1 427.6,793.2 428,793.2 428.4,793.1 428.8,793.1 429.2,793.2 429.6,793.1 430,793.3 430.4,793.1 430.8,793.1 431.2,793.2 431.6,793.2 432,793 432.4,793.3 432.8,793.5 433.2,793.6 433.6,793.6 434,793.5 434.4,792.9 434.8,793.5 435.2,793.4 435.6,793.2 436,793.2 436.4,793.2 436.8,793.3 437.2,793.5 437.6,793.6 438,793.6 438.4,793.6 438.8,793.4 439.2,793.3 439.6,793.3 440,793.4 440.4,793.2 440.8,793.4 441.2,793.5 441.6,793.5 442,793.4 442.4,793.6 442.8,793.6 443.2,793.5 443.6,793.3 444,793.2 444.4,793.2 444.8,793.1 445.2,793.2 445.6,793.3 446,793.4 446.4,793.4 446.8,793.6 447.2,793.4 447.6,793.3 448,793.4 448.4,793.4 448.8,793.2 449.2,793.2 449.6,792.5 450,791.5 450.4,791.6 450.8,792.6 451.2,793.6 451.6,793.6 452,793.6 452.4,793.5 452.8,793.3 453.2,793.1 453.6,793.2 454,793 454.4,793.1 454.8,793.3 455.2,793.5 455.6,793.5 456,793.7 456.4,793.7 456.8,793.3 457.2,793.5 457.6,793.4 458,793.3 458.4,793.3 458.8,793.1 459.2,793.1 459.6,793.1 460,793.3 460.4,793.2 460.8,793.3 461.2,793.6 461.6,793.6 462,793.4 462.4,793.3 462.8,793.4 463.2,793.2 463.6,793.2 464,793.1 464.4,792.9 464.8,793 465.2,793 465.6,793.1 466,793.1 466.4,793.1 466.8,793.1 467.2,793.4 467.6,793.2 468,793.3 468.4,793.2 468.8,793.3 469.2,793.3 469.6,793.2 470,793.3 470.4,793.5 470.8,793.4 471.2,793.4 471.6,793.5 472,792.6 472.4,793 472.8,793.2 473.2,793.1 473.6,793 474,793.2 474.4,793.5 474.8,793.5 475.2,793.5 475.6,793.4 476,793.5 476.4,793.4 476.8,793.5 477.2,793.5 477.6,793.6 478,793.4 478.4,793.5 478.8,793.4 479.2,793.4 479.6,793.3 480,793.5 480.4,793.3 480.8,793.3 481.2,793.3 481.6,793.2 482,793.1 482.4,793.2 482.8,793.2 483.2,793.3 483.6,793.3 484,793.3 484.4,793.3 484.8,793.4 485.2,793.4 485.6,793.2 486,793.4 486.4,793.5 486.8,793.5 487.2,793.6 487.6,793.8 488,793.7 488.4,793.6 488.8,793.6 489.2,793.6 489.6,793.5 490,793.4 490.4,793.5 490.8,793.4 491.2,793.4 491.6,793.3 492,793.3 492.4,793.1 492.8,793.1 493.2,793 493.6,793 494,792.9 494.4,793 494.8,793.2 495.2,793.3 495.6,793.3 496,793.4 496.4,793.5 496.8,793.5 497.2,793.3 497.6,793.4 498,793.3 498.4,793.1 498.8,793.2 499.2,793.4 499.6,793.5 500,793.6 500.4,793.8 500.8,793.7 501.2,793.6 501.6,793.6 502,793.5 502.4,793.3 502.8,793.2 503.2,793.2 503.6,793.1 504,793.1 504.4,793.1 504.8,792.9 505.2,793.1 505.6,793.2 506,793.3 506.4,793.4 506.8,793.5 507.2,793.4 507.6,793.4 508,793.3 508.4,793.2 508.8,793.3 509.2,793.3 509.6,793.3 510,793.3 510.4,793.4 510.8,793.3 511.2,793.4 511.6,793.2 512,793.3 512.4,793.3 512.8,793.3 513.2,793.4 513.6,793.4 514,793.3 514.4,793.2 514.8,793.4 515.2,793.4 515.6,793.3 516,793.5 516.4,793.6 516.8,793.7 517.2,793.6 517.6,793.5 518,793.4 518.4,793.5 518.8,793.5 519.2,793.3 519.6,793.4 520,793.5 520.4,793.3 520.8,793.1 521.2,793.1 521.6,793.1 522,793.1 522.4,792.8 522.8,792.5 523.2,792.9 523.6,793.2 524,793 524.4,793 524.8,793.1 525.2,793.3 525.6,793.2 526,793.4 526.4,793.5 526.8,793.6 527.2,793.5 527.6,793.6 528,793.4 528.4,793.4 528.8,793.4 529.2,793.3 529.6,793.2 530,793.3 530.4,793.4 530.8,793.2 531.2,793.2 531.6,793.4 532,793.2 532.4,793.3 532.8,793.3 533.2,793.5 533.6,793.4 534,793.5 534.4,793.4 534.8,793.4 535.2,793.4 535.6,793.3 536,793.1 536.4,793.2 536.8,793.4 537.2,793.3 537.6,793.2 538,793.4 538.4,793.3 538.8,793.2 539.2,793.3 539.6,793.3 540,793 540.4,793.1 540.8,793.2 541.2,793.2 541.6,793.2 542,793.3 542.4,793.2 542.8,793.2 543.2,793.1 543.6,793.1 544,793 544.4,793.1 544.8,793.2 545.2,793.3 545.6,793.5 546,793.7 546.4,793.6 546.8,793.4 547.2,793.3 547.6,793.1 548,793.2 548.4,793.3 548.8,793.2 549.2,793.2 549.6,793.3 550,793.1 550.4,793.2 550.8,793.3 551.2,793.3 551.6,793.2 552,793.4 552.4,793.3 552.8,793 553.2,793.2 553.6,793.3 554,793.1 554.4,793 554.8,793.2 555.2,793.1 555.6,793.2 556,793.3 556.4,793.3 556.8,793.3 557.2,793.4 557.6,793.3 558,793.4 558.4,793.6 558.8,793.5 559.2,793.5 559.6,793.4 560,793.2 560.4,793.2 560.8,793.3 561.2,793.3 561.6,793.3 562,793.3 562.4,793.1 562.8,793.2 563.2,793.2 563.6,793.2 564,793.4 564.4,793.4 564.8,793.3 565.2,793.2 565.6,793.3 566,793.2 566.4,792.8 566.8,792 567.2,791.8 567.6,792.6 568,793.2 568.4,793.1 568.8,793.1 569.2,793.2 569.6,793.2 570,793.4 570.4,793.5 570.8,793.5 571.2,793.5 571.6,793.4 572,793.6 572.4,793.4 572.8,793.5 573.2,793.5 573.6,793.6 574,793.5 574.4,793.7 574.8,793.5 575.2,793.3 575.6,793.2 576,793.2 576.4,793.1 576.8,793.2 577.2,793.2 577.6,793.3 578,793.2 578.4,793.1 578.8,793.2 579.2,793.4 579.6,793.4 580,793.3 580.4,793.4 580.8,793.1 581.2,793.1 581.6,793.4 582,793.3 582.4,793.4 582.8,793.6 583.2,793.4 583.6,793.5 584,793.6 584.4,793.6 584.8,793.4 585.2,793.5 585.6,793.6 586,793.7 586.4,793.5 586.8,793.5 587.2,793.5 587.6,792.9 588,793.2 588.4,793.3 588.8,793.2 589.2,793.2 589.6,793.2 590,793.2 590.4,793 590.8,793.2 591.2,793 591.6,793.1 592,793.4 592.4,793.4 592.8,793.4 593.2,793.4 593.6,793.5 594,793.3 594.4,793.3 594.8,793.3 595.2,792.6 595.6,793.3 596,793.3 596.4,793.2 596.8,793 597.2,792.9 597.6,792.9 598,793 598.4,793.1 598.8,793.1 599.2,793.4 599.6,793.6 600,793.6 600.4,793.5 600.8,793.6 601.2,793.5 601.6,793.3 602,793.2 602.4,793.1 602.8,792.9 603.2,793.1 603.6,793.1 604,793.3 604.4,793.3 604.8,793.6 605.2,793.3 605.6,793.2 606,793.1 606.4,793.2 606.8,793.2 607.2,793.4 607.6,793.6 608,793.7 608.4,793.6 608.8,793.1 609.2,792.6 609.6,792.9 610,793.3 610.4,793.2 610.8,793.3 611.2,793.4 611.6,793.4 612,793.6 612.4,793.5 612.8,793.4 613.2,793.5 613.6,793.4 614,793.4 614.4,793.5 614.8,793.5 615.2,793.4 615.6,793.4 616,793.2 616.4,793 616.8,793.2 617.2,793.1 617.6,793.1 618,793.1 618.4,793.2 618.8,793 619.2,793.1 619.6,793 620,793.1 620.4,793.1 620.8,793.2 621.2,793 621.6,793.1 622,793.1 622.4,793.3 622.8,793.3 623.2,793.3 623.6,793.5 624,793.4 624.4,793.3 624.8,793.3 625.2,793.4 625.6,792 626,792.7 626.4,793 626.8,792.9 627.2,793.1 627.6,793.1 628,793.1 628.4,793.3 628.8,793.3 629.2,793.3 629.6,793.3 630,793.5 630.4,793.4 630.8,793.3 631.2,793.2 631.6,793.1 632,792.3 632.4,791.4 632.8,791.4 633.2,792.3 633.6,793.1 634,793.3 634.4,793.4 634.8,793.2 635.2,793.3 635.6,793.5 636,793.5 636.4,793.4 636.8,793.6 637.2,793.5 637.6,793.3 638,793.4 638.4,793.4 638.8,793.2 639.2,793.3 639.6,793.4 640,793.3 640.4,793.3 640.8,793.5 641.2,793.4 641.6,793.6 642,793.5 642.4,793.7 642.8,793.5 643.2,793.5 643.6,793.5 644,793.1 644.4,793 644.8,793.6 645.2,793.7 645.6,793.5 646,793.4 646.4,793.5 646.8,793.4 647.2,793.4 647.6,793.4 648,793.3 648.4,793.3 648.8,793.4 649.2,793.3 649.6,792.9 650,793.5 650.4,793.5 650.8,793.5 651.2,793.4 651.6,793.5 652,793.5 652.4,793.5 652.8,793.3 653.2,793.5 653.6,793.6 654,793.5 654.4,793.5 654.8,793.5 655.2,793.2 655.6,793.3 656,793.3 656.4,793.2 656.8,793.2 657.2,793.2 657.6,793.3 658,793.3 658.4,793.4 658.8,793.3 659.2,793.3 659.6,793.4 660,793.4 660.4,793.2 660.8,792.7 661.2,792.5 661.6,793 662,793.5 662.4,793.6 662.8,793.5 663.2,793.6 663.6,793.5 664,793.4 664.4,793.3 664.8,793.4 665.2,793.3 665.6,793.2 666,793.3 666.4,793.4 666.8,793.4 667.2,793.5 667.6,793.7 668,793.7 668.4,793.6 668.8,793.6 669.2,793.5 669.6,793.5 670,793.6 670.4,793.5 670.8,793.7 671.2,793.6 671.6,793.4 672,793.3 672.4,793.2 672.8,793.2 673.2,793.2 673.6,793.3 674,793.2 674.4,793.3 674.8,793.2 675.2,793.2 675.6,793.1 676,793.1 676.4,793.3 676.8,793.4 677.2,793.2 677.6,793.2 678,793.2 678.4,793 678.8,792.8 679.2,792.9 679.6,793 680,793 680.4,793 680.8,793.3 681.2,793.3 681.6,793.1 682,793.1 682.4,793.1 682.8,792.9 683.2,792.8 683.6,793 684,793.4 684.4,793.4 684.8,793.4 685.2,793.4 685.6,793.5 686,793.4 686.4,793.3 686.8,793.5 687.2,793.4 687.6,793.4 688,793.2 688.4,793.4 688.8,793.2 689.2,793.1 689.6,793.2 690,793.2 690.4,793.2 690.8,793.3 691.2,793.5 691.6,793.3 692,793.5 692.4,793.3 692.8,793.3 693.2,793.1 693.6,793.2 694,793.2 694.4,793.2 694.8,793.4 695.2,793.5 695.6,793.5 696,793.4 696.4,793.4 696.8,793.3 697.2,793.2 697.6,793.2 698,793.2 698.4,793.2 698.8,792.4 699.2,792.7 699.6,793.4 700,793.3 700.4,793.2 700.8,793.4 701.2,793.4 701.6,793.3 702,793.4 702.4,793.4 702.8,793.2 703.2,793.1 703.6,793 704,793.1 704.4,793.2 704.8,793.1 705.2,793.2 705.6,793 706,793 706.4,793.1 706.8,793.3 707.2,793.4 707.6,793.1 708,792.6 708.4,793 708.8,793.4 709.2,793.4 709.6,793.5 710,793.6 710.4,793.4 710.8,793.3 711.2,793 711.6,793.1 712,793.1 712.4,793.2 712.8,793.3 713.2,793.4 713.6,793.5 714,793.6 714.4,793.6 714.8,793.6 715.2,793.6 715.6,793.5 716,793.3 716.4,793.4 716.8,793.5 717.2,793.6 717.6,793.7 718,793.8 718.4,793.6 718.8,793.6 719.2,793.5 719.6,793.5 720,793.6 720.4,793.5 720.8,793.5 721.2,793.3 721.6,793.1 722,793 722.4,793.1 722.8,793 723.2,793.2 723.6,793.2 724,793.2 724.4,793.2 724.8,793.1 725.2,793.1 725.6,793.1 726,793.1 726.4,793.2 726.8,793.2 727.2,793.2 727.6,793.2 728,793.3 728.4,793.2 728.8,793.3 729.2,793.2 729.6,793.1 730,793.1 730.4,793.2 730.8,793.3 731.2,793.4 731.6,793.4 732,793.3 732.4,793.2 732.8,793.1 733.2,793.1 733.6,793.3 734,793.4 734.4,793.3 734.8,793.3 735.2,793.2 735.6,792.9 736,793 736.4,793.3 736.8,793.2 737.2,793.3 737.6,793.2 738,793 738.4,792.9 738.8,793.2 739.2,793.1 739.6,793.1 740,793.1 740.4,793.3 740.8,793.1 741.2,793.2 741.6,793.2 742,793.2 742.4,793 742.8,793 743.2,792.9 743.6,792.9 744,792.9 744.4,792.9 744.8,793 745.2,793.1 745.6,793.3 746,793.3 746.4,793.3 746.8,793.2 747.2,793 747.6,792.8 748,793 748.4,793.1 748.8,793.2 749.2,793.4 749.6,793.5 750,793.4 750.4,793.4 750.8,793.2 751.2,793.2 751.6,793.3 752,793.2 752.4,793.4 752.8,793.2 753.2,793.5 753.6,793.3 754,793.4 754.4,793.3 754.8,793.2 755.2,793.2 755.6,793.2 756,793.1 756.4,793.1 756.8,793 757.2,793 757.6,793.1 758,793.3 758.4,793.2 758.8,793.5 759.2,793.4 759.6,792.9 760,793.3 760.4,793.3 760.8,793 761.2,793 761.6,793.1 762,793 762.4,793.1 762.8,793.1 763.2,793.1 763.6,793.2 764,793.2 764.4,793.2 764.8,793.3 765.2,793.1 765.6,793 766,793.1 766.4,793.1 766.8,793 767.2,793.1 767.6,792.9 768,792.5 768.4,792.8 768.8,793.2 769.2,793.5 769.6,793.6 770,793.6 770.4,793.4 770.8,793.2 771.2,793.1 771.6,793.1 772,793 772.4,792.3 772.8,792.5 773.2,793.1 773.6,793 774,793.1 774.4,793.1 774.8,793.1 775.2,793 775.6,793 776,793 776.4,792.9 776.8,793.1 777.2,793.2 777.6,793.4 778,793.3 778.4,793.5 778.8,793.4 779.2,793.4 779.6,793.4 780,793.4 780.4,793.4 780.8,793.2 781.2,793.2 781.6,793.5 782,793.6 782.4,793.7 782.8,793.7 783.2,793.7 783.6,793.7 784,793.5 784.4,793.4 784.8,793.3 785.2,793.1 785.6,793.1 786,793.3 786.4,793.3 786.8,793.2 787.2,793.3 787.6,793.1 788,793.1 788.4,793.1 788.8,793.2 789.2,793.3 789.6,793.3 790,793.3 790.4,793.3 790.8,793.3 791.2,792.8 791.6,793.2 792,793.4 792.4,793.4 792.8,793.4 793.2,793.4 793.6,793.5 794,793.6 794.4,793.7 794.8,793.8 795.2,793.5 795.6,793.7 796,793.6 796.4,793.6 796.8,793.4 797.2,793.5 797.6,793.3 798,793.2 798.4,793.1 798.8,793.1 799.2,793.1 799.6,793.3 800,793.4 800.4,793.5 800.8,793.6 801.2,793.1 801.6,792.6 802,793.1 802.4,793.6 802.8,793.6 803.2,793.5 803.6,793.3 804,793.1 804.4,793 804.8,793.1 805.2,793.3 805.6,793.3 806,793.4 806.4,793.3 806.8,793.3 807.2,793.1 807.6,793 808,792.2 808.4,791.6 808.8,792.4 809.2,793.2 809.6,793.5 810,793.5 810.4,793.5 810.8,793.7 811.2,793.5 811.6,793.4 812,793.5 812.4,793.5 812.8,793.3 813.2,793.4 813.6,793.4 814,793.4 814.4,793.3 814.8,793.3 815.2,793.2 815.6,793.3 816,793.3 816.4,793.3 816.8,793.5 817.2,793.6 817.6,793.5 818,793.6 818.4,793.6 818.8,793.6 819.2,793.2 819.6,792.5 820,792.8 820.4,793.4 820.8,793.5 821.2,793.7 821.6,793.7 822,793.5 822.4,793.3 822.8,793.3 823.2,793.1 823.6,793.1 824,793.2 824.4,793.2 824.8,793 825.2,793.2 825.6,793.1 826,793 826.4,793.1 826.8,793.3 827.2,793.2 827.6,793.3 828,793.5 828.4,793.1 828.8,792.9 829.2,793.4 829.6,793.3 830,793 830.4,793.1 830.8,793.1 831.2,793 831.6,793.1 832,793.2 832.4,793.2 832.8,793.2 833.2,793.2 833.6,793.1 834,793.1 834.4,793.1 834.8,793.2 835.2,793.1 835.6,793.1 836,793.1 836.4,793.2 836.8,793.2 837.2,793.4 837.6,793.6 838,793.7 838.4,793.7 838.8,793.8 839.2,793.8 839.6,793.7 840,793.6 840.4,793.5 840.8,793.5 841.2,793.3 841.6,793.4 842,793.4 842.4,793.4 842.8,793.5 843.2,793.5 843.6,793.4 844,793.3 844.4,793.2 844.8,793.1 845.2,793.2 845.6,793.1 846,793.1 846.4,793.2 846.8,793.3 847.2,793.4 847.6,793.6 848,793.4 848.4,793.5 848.8,793.3 849.2,793.1 849.6,792.9 850,793 850.4,793.2 850.8,793.1 851.2,793.1 851.6,793.2 852,793.3 852.4,793.1 852.8,793.2 853.2,793.2 853.6,793.2 854,793 854.4,793.1 854.8,793.2 855.2,793.4 855.6,793.4 856,793.5 856.4,793.3 856.8,793.4 857.2,793.2 857.6,793.2 858,793.2 858.4,793.2 858.8,793 859.2,792.9 859.6,793.2 860,793.1 860.4,793.2 860.8,793.4 861.2,793.5 861.6,793.3 862,793.3 862.4,793.2 862.8,793.2 863.2,793.2 863.6,793.2 864,793.2 864.4,792.9 864.8,792.2 865.2,792.8 865.6,793.3 866,793.6 866.4,793.6 866.8,793.6 867.2,793.6 867.6,793.4 868,793.3 868.4,793.4 868.8,793.2 869.2,793.1 869.6,793 870,793.2 870.4,793.1 870.8,793.5 871.2,793.5 871.6,793.5 872,793.5 872.4,793.2 872.8,793 873.2,793.1 873.6,793.1 874,793.1 874.4,793.4 874.8,793.6 875.2,793.6 875.6,793.8 876,793.7 876.4,793.7 876.8,793.5 877.2,792.8 877.6,793.2 878,793.6 878.4,793.6 878.8,793.5 879.2,793.4 879.6,793.2 880,793.3 880.4,793.2 880.8,793.3 881.2,793.2 881.6,793.3 882,793.4 882.4,793.5 882.8,793.3 883.2,793.6 883.6,793.6 884,793.4 884.4,793.3 884.8,793.4 885.2,793.2 885.3,797.2" fill="#000" stroke="#000" stroke-width="1.4" stroke-linejoin="miter" stroke-miterlimit="2"/>
<polygon points="890.7,488.7 890.8,481.2 891.2,482 891.6,482.4 892,483.5 892.4,481.9 892.8,480.9 893.2,478.6 893.6,476.4 894,478.4 894.4,480.6 894.8,482.2 895.2,480.8 895.6,478.6 896,476.5 896.4,477.8 896.8,480 897.2,482.1 897.6,482.4 898,481.9 898.4,482.3 898.8,482.8 899.2,483.4 899.6,484 900,483.7 900.4,482.8 900.8,483 901.2,482.4 901.6,480.9 902,477.6 902.4,474.3 902.8,476.2 903.2,479.5 903.6,482.7 904,484.2 904.4,483.9 904.8,484.1 905.2,484.5 905.6,483.9 906,483.4 906.4,483.6 906.8,483.1 907.2,482.3 907.6,481.2 908,481.9 908.4,478.8 908.8,475.6 909.2,472.4 909.6,473.4 910,476.6 910.4,479.7 910.8,482 911.2,482.6 911.6,482.7 912,484 912.4,484.1 912.8,483.6 913.2,484.3 913.6,483.8 914,480 914.4,476.2 914.8,472.4 915.2,469.3 915.6,473.1 916,476.9 916.4,480.7 916.8,482.8 917.2,482.6 917.6,483 918,483.4 918.4,483.8 918.8,484 919.2,482.8 919.6,481.6 920,482.2 920.4,481.2 920.8,480.6 921.2,478.4 921.6,476.1 922,477 922.4,479.3 922.8,481.5 923.2,480.9 923.6,480.6 924,480.6 924.4,480.6 924.8,481.2 925.2,481.1 925.6,481.5 926,469.6 926.4,460.1 926.8,460.1 927.2,460.1 927.6,460.1 928,460.1 928.4,460.1 928.8,460.1 929.2,460.1 929.6,479.2 930,481.6 930.4,481.9 930.8,480.1 931.2,479 931.6,481.1 932,483.3 932.4,481.7 932.8,479.7 933.2,477.8 933.6,479.1 934,481.1 934.4,480.1 934.8,478.4 935.2,478.2 935.6,479.8 936,481.5 936.4,482.4 936.8,482 937.2,482.4 937.6,481.7 938,482.5 938.4,480.2 938.8,471.6 939.2,471.6 939.6,471.6 940,471.6 940.4,471.6 940.8,471.6 941.2,471.6 941.6,471.6 942,480.1 942.4,481.5 942.8,482 943.2,481.2 943.6,481.8 944,483.2 944.4,482.1 944.8,481.8 945.2,481.3 945.6,482.5 946,482.5 946.4,482.1 946.8,482.1 947.2,482.5 947.6,479.1 948,480.9 948.4,483.7 948.8,482.9 949.2,482.4 949.6,483.2 950,483.5 950.4,484.2 950.8,479.7 951.2,473.7 951.6,478 952,482.2 952.4,479.2 952.8,476.3 953.2,473.4 953.6,472.9 954,475.8 954.4,478.7 954.8,470.2 955.2,475.8 955.6,484.4 956,485.3 956.4,485.5 956.8,485.7 957.2,483.8 957.6,482.6 958,481.4 958.4,481 958.8,481 959.2,482 959.6,481.3 960,482.4 960.4,481.7 960.8,482.1 961.2,482.6 961.6,483.3 962,483.5 962.4,480.9 962.8,478.4 963.2,475.8 963.6,474.4 964,477 964.4,479.6 964.8,480.8 965.2,480.8 965.6,482.4 966,481.8 966.4,475.8 966.8,468.9 967.2,476.2 967.6,481.7 968,480.9 968.4,481.6 968.8,481.1 969.2,480.6 969.6,481 970,482.7 970.4,483.2 970.8,482.7 971.2,480.7 971.6,479.4 972,481.4 972.4,481.1 972.8,479.7 973.2,480.2 973.6,481.6 974,482.9 974.4,482.8 974.8,481.2 975.2,480 975.6,476.8 976,473.5 976.4,470.2 976.8,471.5 977.2,474.8 977.6,478.1 978,475.9 978.4,469.1 978.8,475.2 979.2,479.2 979.6,475 980,470.9 980.4,470.7 980.8,474.8 981.2,479 981.6,483 982,483.1 982.4,483.3 982.8,482.3 983.2,481 983.6,479.6 984,480.1 984.4,481.4 984.8,482.8 985.2,483.2 985.6,481.2 986,479.3 986.4,477.3 986.8,478 987.2,480 987.6,481.9 988,483.3 988.4,481.9 988.8,481 989.2,481.2 989.6,481 990,480.3 990.4,480.5 990.8,481.2 991.2,481.3 991.6,481.2 992,480.5 992.4,480.3 992.8,481.4 993.2,481.8 993.6,480.8 994,480.1 994.4,481.3 994.8,481.9 995.2,481.5 995.6,482.1 996,483.2 996.4,479.7 996.8,461.7 997.2,461.7 997.6,461.7 998,461.7 998.4,461.7 998.8,461.7 999.2,461.7 999.6,461.7 1000,470.7 1000.4,476.6 1000.8,469 1001.2,476.3 1001.6,481 1002,482.4 1002.4,482.7 1002.8,483.2 1003.2,482.8 1003.6,483.1 1004,483.2 1004.4,482.6 1004.8,481.1 1005.2,480.8 1005.6,477.8 1006,477.5 1006.4,479 1006.8,479.9 1007.2,479.7 1007.6,478.6 1008,477.4 1008.4,478 1008.8,479 1009.2,478.5 1009.6,477.8 1010,477.8 1010.4,475.2 1010.8,475.5 1011.2,473.9 1011.6,444.3 1012,444.3 1012.4,444.3 1012.8,444.3 1013.2,444.3 1013.6,444.3 1014,444.3 1014.4,444.3 1014.8,459.1 1015.2,482.5 1015.6,481.5 1016,481.6 1016.4,481 1016.8,481.3 1017.2,480.9 1017.6,481.1 1018,481.1 1018.4,477.7 1018.8,474.3 1019.2,471 1019.6,470.5 1020,473.8 1020.4,477.2 1020.8,480.6 1021.2,482.5 1021.6,482.5 1022,482.2 1022.4,477.4 1022.8,470.2 1023.2,474.3 1023.6,480.6 1024,476.7 1024.4,473 1024.8,476.9 1025.2,480.8 1025.6,484 1026,483.8 1026.4,483.1 1026.8,480.9 1027.2,427.6 1027.6,397 1028,397 1028.4,397 1028.8,397 1029.2,397 1029.6,397 1030,397 1030.4,397 1030.8,458.1 1031.2,472.5 1031.6,473.9 1032,477 1032.4,480.1 1032.8,481.9 1033.2,482.8 1033.6,481.1 1034,466 1034.4,466 1034.8,466 1035.2,466 1035.6,466 1036,466 1036.4,466 1036.8,466 1037.2,473.6 1037.6,480.9 1038,481.2 1038.4,482.3 1038.8,480.9 1039.2,481.6 1039.6,478.4 1040,472.9 1040.4,469.9 1040.8,475.4 1041.2,478.7 1041.6,478.5 1042,480.5 1042.4,476.8 1042.8,473.3 1043.2,477.3 1043.6,481.3 1044,480.8 1044.4,480.8 1044.8,480.2 1045.2,480.2 1045.6,361.2 1046,297.5 1046.4,297.5 1046.8,297.5 1047.2,297.5 1047.6,297.5 1048,297.5 1048.4,297.5 1048.8,297.5 1049.2,425 1049.6,480 1050,477.8 1050.4,475.6 1050.8,473.9 1051.2,476.1 1051.6,478.3 1052,480.5 1052.4,481.8 1052.8,483 1053.2,482.4 1053.6,480.4 1054,478.3 1054.4,476.3 1054.8,465.2 1055.2,453.5 1055.6,453.5 1056,453.5 1056.4,453.5 1056.8,453.5 1057.2,453.5 1057.6,453.5 1058,453.5 1058.4,477 1058.8,480.2 1059.2,479.6 1059.6,474.7 1060,471.4 1060.4,476.3 1060.8,480.3 1061.2,480.8 1061.6,481.4 1062,479.8 1062.4,481 1062.8,478.4 1063.2,473.4 1063.6,469 1064,474 1064.4,479 1064.8,484.3 1065.2,483.1 1065.6,344.4 1066,272.2 1066.4,272.2 1066.8,272.2 1067.2,272.2 1067.6,272.2 1068,272.2 1068.4,272.2 1068.8,272.2 1069.2,416.5 1069.6,475.2 1070,480.6 1070.4,479.6 1070.8,479 1071.2,480 1071.6,480.7 1072,480.6 1072.4,482.5 1072.8,480.7 1073.2,481.5 1073.6,480.6 1074,467.3 1074.4,467.3 1074.8,467.3 1075.2,467.3 1075.6,467.3 1076,467.3 1076.4,467.3 1076.8,467.3 1077.2,474.4 1077.6,481.3 1078,479.6 1078.4,477.8 1078.8,477.1 1079.2,478.9 1079.6,480.6 1080,481.6 1080.4,461.3 1080.8,447.6 1081.2,447.6 1081.6,447.6 1082,447.6 1082.4,447.6 1082.8,447.6 1083.2,447.6 1083.6,447.6 1084,473 1084.4,470 1084.8,470.3 1085.2,473.2 1085.6,476.1 1086,478 1086.4,475.6 1086.8,478.6 1087.2,479.4 1087.6,473.1 1088,470.6 1088.4,395.1 1088.8,207.8 1089.2,207.8 1089.6,207.8 1090,207.8 1090.4,207.8 1090.8,207.8 1091.2,207.8 1091.6,207.8 1092,301.4 1092.4,474.3 1092.8,477.8 1093.2,481.2 1093.6,483.1 1094,482 1094.4,479.6 1094.8,477.3 1095.2,477.4 1095.6,479.7 1096,474.2 1096.4,445.3 1096.8,445.3 1097.2,445.3 1097.6,445.3 1098,445.3 1098.4,445.3 1098.8,445.3 1099.2,445.3 1099.6,459.8 1100,469.4 1100.4,471.6 1100.8,475.2 1101.2,478.9 1101.6,478.9 1102,479.9 1102.4,479.4 1102.8,479.3 1103.2,476.4 1103.6,480.2 1104,480.6 1104.4,482.4 1104.8,480.8 1105.2,479.8 1105.6,481.6 1106,478 1106.4,473.4 1106.8,468.8 1107.2,473.2 1107.6,477.8 1108,480.6 1108.4,480.3 1108.8,481.2 1109.2,480 1109.6,478.3 1110,471.4 1110.4,462.7 1110.8,462.7 1111.2,462.7 1111.6,462.7 1112,462.7 1112.4,462.7 1112.8,462.7 1113.2,462.7 1113.6,480 1114,454.9 1114.4,319.8 1114.8,286 1115.2,286 1115.6,286 1116,286 1116.4,286 1116.8,286 1117.2,286 1117.6,319.8 1118,454.9 1118.4,482.3 1118.8,482.4 1119.2,483.1 1119.6,483.3 1120,482.6 1120.4,482.1 1120.8,478.4 1121.2,474.7 1121.6,471 1122,470.2 1122.4,473.9 1122.8,477.6 1123.2,480.3 1123.6,479.9 1124,481.5 1124.4,481.8 1124.8,482.3 1125.2,482.9 1125.6,471.5 1126,454.2 1126.4,454.2 1126.8,454.2 1127.2,454.2 1127.6,454.2 1128,454.2 1128.4,454.2 1128.8,454.2 1129.2,471.4 1129.6,477.6 1130,478 1130.4,479.5 1130.8,478.6 1131.2,479.3 1131.6,478.9 1132,480.1 1132.4,481.3 1132.8,480.3 1133.2,479.3 1133.6,480.7 1134,481.7 1134.4,480.9 1134.8,479.1 1135.2,478.9 1135.6,479.4 1136,477.5 1136.4,475.6 1136.8,477 1137.2,478.9 1137.6,480.8 1138,482.6 1138.4,482.7 1138.8,482.4 1139.2,482 1139.6,482.1 1140,482.3 1140.4,482.8 1140.8,481.3 1141.2,481.5 1141.6,483.1 1142,482.3 1142.4,481.1 1142.8,479.9 1143.2,480.7 1143.6,434.3 1144,325.4 1144.4,325.4 1144.8,325.4 1145.2,325.4 1145.6,325.4 1146,325.4 1146.4,325.4 1146.8,325.4 1147.2,379.8 1147.6,476.8 1148,479.7 1148.4,481.3 1148.8,476.1 1149.2,470.8 1149.6,474.3 1150,479.6 1150.4,482.2 1150.8,480.7 1151.2,479.5 1151.6,480.1 1152,479.3 1152.4,480 1152.8,477.9 1153.2,478.6 1153.6,480.6 1154,480.5 1154.4,479.9 1154.8,480.4 1155.2,482.3 1155.6,479.8 1156,475.8 1156.4,477.6 1156.8,481.7 1157.2,480.7 1157.6,482.3 1158,482.4 1158.4,482.5 1158.8,482.6 1159.2,483.2 1159.6,481.5 1160,480 1160.4,475.5 1160.8,470.9 1161.2,471 1161.6,475.6 1162,480.1 1162.4,474.1 1162.8,459.4 1163.2,459.4 1163.6,459.4 1164,459.4 1164.4,459.4 1164.8,459.4 1165.2,459.4 1165.6,459.4 1166,474 1166.4,481.6 1166.8,479.1 1167.2,476.6 1167.6,474.1 1168,474.8 1168.4,477.3 1168.8,478.9 1169.2,477.1 1169.6,478.3 1170,477.9 1170.4,475.3 1170.8,472.7 1171.2,473.6 1171.6,476.2 1172,478.8 1172.4,480.3 1172.8,481.5 1173.2,482.5 1173.6,482 1174,480.6 1174.4,480.4 1174.8,477.2 1175.2,473.9 1175.6,470.7 1176,469.9 1176.4,473.2 1176.8,476.4 1177.2,479.1 1177.6,479.8 1178,442.2 1178.4,419 1178.8,419 1179.2,419 1179.6,419 1180,419 1180.4,419 1180.8,419 1181.2,419 1181.6,465.5 1182,484 1182.4,484.2 1182.8,483.8 1183.2,483.1 1183.6,481.7 1184,478.9 1184.4,479.5 1184.8,480.1 1185.2,480.8 1185.6,479.7 1186,480.2 1186.4,480.2 1186.8,481.7 1187.2,480.9 1187.6,482 1188,483.4 1188.4,484.4 1188.8,483.7 1189.2,483.1 1189.6,481.4 1190,481.2 1190.4,477.8 1190.8,475.9 1191.2,479.3 1191.6,482.6 1192,481 1192.4,479.8 1192.8,478.8 1193.2,476.9 1193.6,475.6 1194,477.5 1194.4,479.5 1194.8,481.4 1195.2,483.3 1195.6,482.2 1196,479.8 1196.4,477.7 1196.8,480.1 1197.2,479.4 1197.6,477.2 1198,475 1198.4,476.6 1198.8,478.8 1199.2,481 1199.6,481 1200,481.3 1200.4,481.7 1200.8,480.7 1201.2,481.1 1201.6,482.4 1202,481.7 1202.4,480.8 1202.8,478.9 1203.2,480.5 1203.6,480.7 1204,477.7 1204.4,474.7 1204.8,477.2 1205.2,480.2 1205.6,482.1 1206,482.7 1206.4,482.9 1206.8,471.9 1207.2,468.5 1207.6,468.5 1208,468.5 1208.4,468.5 1208.8,468.5 1209.2,468.5 1209.6,468.5 1210,471.9 1210.4,483.8 1210.8,482 1211.2,481.7 1211.6,481.7 1212,481.4 1212.4,480.6 1212.8,482.1 1213.2,481.3 1213.6,481.7 1214,482.5 1214.4,480.5 1214.8,477.3 1215.2,474.2 1215.6,477.1 1216,480.3 1216.4,482.2 1216.8,481.4 1217.2,471.9 1217.6,438.2 1218,438.2 1218.4,438.2 1218.8,438.2 1219.2,438.2 1219.6,438.2 1220,438.2 1220.4,438.2 1220.8,455 1221.2,481.7 1221.6,482.7 1222,481.7 1222.4,481.8 1222.8,480.4 1223.2,478.7 1223.6,475.8 1224,475.5 1224.4,478.5 1224.8,481 1225.2,482.1 1225.6,482.1 1226,482.5 1226.4,482.7 1226.8,484.1 1227.2,483.5 1227.6,483.3 1228,483.7 1228.4,483.5 1228.8,482.7 1229.2,483.7 1229.6,484.4 1230,483.7 1230.4,484.1 1230.8,483.3 1231.2,481.9 1231.6,480.2 1232,478.6 1232.4,477 1232.8,477 1233.2,478.7 1233.6,480.3 1234,481.9 1234.4,483.2 1234.8,482 1235.2,483.4 1235.6,483.5 1236,482.3 1236.4,480.4 1236.8,483.5 1237.2,483.7 1237.6,482.4 1238,483 1238.4,482.3 1238.8,481.6 1239.2,481.3 1239.6,481.5 1240,480.2 1240.4,481.5 1240.8,481.5 1241.2,482.2 1241.6,480.6 1242,479 1242.4,478.7 1242.8,480.3 1243.2,480.7 1243.6,480 1244,480.2 1244.4,480.5 1244.8,481.3 1245.2,481.8 1245.6,481.8 1246,481.4 1246.4,479.6 1246.8,480.6 1247.2,482.1 1247.6,482.8 1248,482.1 1248.4,482.8 1248.8,483.2 1249.2,481.9 1249.6,481.9 1250,482.6 1250.4,481.5 1250.8,481.5 1251.2,482.3 1251.6,483 1252,482.6 1252.4,481.5 1252.8,480.1 1253.2,481 1253.6,482 1254,482.9 1254.4,481.4 1254.8,482 1255.2,482.7 1255.6,482.1 1256,480.8 1256.4,482.1 1256.8,481.3 1257.2,480.8 1257.6,480.3 1258,480.9 1258.4,479.5 1258.8,479.1 1259.2,480.5 1259.6,482 1260,481.7 1260.4,482.1 1260.8,480.6 1261.2,478.7 1261.6,481.4 1262,481.6 1262.4,481.9 1262.8,480.8 1263.2,481.5 1263.6,482.6 1264,465.4 1264.4,453.8 1264.8,453.8 1265.2,453.8 1265.6,453.8 1266,453.8 1266.4,453.8 1266.8,453.8 1267.2,453.8 1267.6,477.1 1268,478.4 1268.4,474.4 1268.8,475 1269.2,479.1 1269.6,482 1270,482 1270.4,480.8 1270.8,477.3 1271.2,478.4 1271.6,481.9 1272,482.6 1272.4,481.5 1272.8,480.3 1273.2,479.1 1273.6,478 1274,479.2 1274.4,480.3 1274.8,481.5 1275.2,478.8 1275.6,479.6 1276,482.8 1276.4,484.1 1276.8,484.5 1277.2,483.2 1277.6,482 1278,478.5 1278.4,474.9 1278.8,471.4 1279.2,470.4 1279.6,473.9 1280,477.4 1280.4,481 1280.8,484.2 1281.2,483.7 1281.6,483.1 1282,482.4 1282.4,481.8 1282.8,481.4 1283.2,481.4 1283.6,482.4 1284,482.6 1284.4,482.4 1284.8,482.8 1285.2,480.5 1285.6,478.2 1286,480.3 1286.4,480.5 1286.8,480.2 1287.2,477.8 1287.6,475.4 1288,477.4 1288.4,479.8 1288.8,480.3 1289.2,477.1 1289.6,473.8 1290,476.7 1290.4,480 1290.8,482.3 1291.2,483.3 1291.6,483.1 1292,483.3 1292.4,484 1292.8,484.6 1293.2,483.9 1293.6,484.1 1294,484.2 1294.4,483.8 1294.8,482.2 1295.2,480.7 1295.6,481.9 1296,483.1 1296.4,483.8 1296.8,484.1 1297.2,484.4 1297.6,483.8 1298,484.2 1298.4,481.5 1298.8,478.9 1299.2,479.1 1299.6,481.8 1300,481.7 1300.4,481.7 1300.8,482 1301.2,479.8 1301.6,476.8 1302,478.9 1302.4,481.9 1302.8,483.2 1303.2,482.7 1303.6,484.4 1304,483.1 1304.4,481.5 1304.8,479.8 1305.2,481.5 1305.6,483.1 1306,482.9 1306.4,481.6 1306.8,482.3 1307.2,482 1307.6,481.2 1308,481.3 1308.4,482.9 1308.8,483.1 1309.2,484.1 1309.6,485 1310,485.3 1310.4,484.3 1310.8,482.8 1311.2,481.3 1311.6,480.2 1312,475.3 1312.4,477.2 1312.8,482.2 1313.2,482.3 1313.6,483.3 1314,483.2 1314.4,480.7 1314.8,478.2 1315.2,475.7 1315.6,475 1316,477.5 1316.4,480 1316.8,481.4 1317.2,478 1317.6,474.2 1318,476.1 1318.4,479.8 1318.8,482.5 1319.2,481.2 1319.6,481.7 1320,482.2 1320.4,476.3 1320.8,451.4 1321.2,451.4 1321.6,451.4 1322,451.4 1322.4,451.4 1322.8,451.4 1323.2,451.4 1323.6,451.4 1324,463.8 1324.4,481.6 1324.8,481.2 1325.2,482.1 1325.6,482.6 1326,482.5 1326.4,481.3 1326.8,475.3 1327.2,470.6 1327.6,476.6 1328,482.6 1328.4,483.9 1328.8,483.2 1329.2,482.3 1329.6,482.9 1330,483.3 1330.4,483.1 1330.8,482.2 1331.2,482.1 1331.6,482.4 1332,482.8 1332.4,482.9 1332.8,484.4 1333.2,483.9 1333.6,484.4 1334,483.2 1334.4,482.4 1334.8,481.6 1335.2,481.4 1335.6,481.2 1336,478.3 1336.4,475.3 1336.8,477.7 1337.2,480.7 1337.6,483.6 1338,485.7 1338.4,486 1338.8,485.1 1339.2,483.8 1339.6,483.1 1340,482 1340.4,482.7 1340.8,483.8 1341.2,484.1 1341.6,483.2 1342,478.3 1342.4,473.4 1342.8,468.9 1343.2,473.8 1343.6,478.6 1344,483.5 1344.4,484.2 1344.8,483 1345.2,483.1 1345.6,482.7 1346,482.1 1346.4,481 1346.8,481.9 1347.2,480.3 1347.6,480.2 1348,480.3 1348.4,481.4 1348.8,482.6 1349.2,484 1349.6,483.8 1350,483.4 1350.4,483.2 1350.8,481.9 1351.2,480.8 1351.6,482.3 1352,481.9 1352.4,482.2 1352.8,481.8 1353.2,480.5 1353.6,479.2 1354,478.9 1354.4,480.2 1354.8,481.5 1355.2,482.6 1355.6,478.3 1356,474 1356.4,469.7 1356.8,471.9 1357.2,476.2 1357.6,480.5 1358,482.1 1358.4,482 1358.8,474.5 1359.2,471.1 1359.6,478.6 1360,480.6 1360.4,481.1 1360.8,482.3 1361.2,481.2 1361.6,479.9 1362,480.6 1362.4,481.8 1362.8,481.8 1363.2,480.5 1363.6,479.9 1364,481.2 1364.4,482.4 1364.8,483.7 1365.2,484 1365.6,483.5 1366,483.4 1366.4,482.4 1366.8,482.2 1367.2,482.5 1367.6,483.3 1368,482.5 1368.4,483.5 1368.8,483.6 1369.2,482.8 1369.6,483 1370,482.4 1370.4,481.2 1370.8,481.5 1371.2,482.7 1371.6,482.2 1372,480.4 1372.4,479.1 1372.8,480.9 1373.2,482.2 1373.6,483.7 1374,484.3 1374.4,483.5 1374.8,482.7 1375.2,481.8 1375.6,482.1 1376,481.1 1376.4,480.9 1376.8,480.1 1377.2,480 1377.6,480.3 1378,481.5 1378.4,482.7 1378.8,483.3 1379.2,483.5 1379.6,483.3 1380,482.7 1380.4,482.7 1380.8,481.8 1381.2,480.5 1381.6,481.3 1382,482.5 1382.4,480.5 1382.8,478.6 1383.2,479.8 1383.6,481.2 1384,481.1 1384.4,482 1384.8,483.3 1385.2,484.3 1385.6,485.3 1386,485.4 1386.4,485.8 1386.8,485.7 1387.2,484.4 1387.6,484.2 1388,482.6 1388.4,482.2 1388.8,480.2 1389.2,472.8 1389.6,472.1 1390,479.5 1390.4,481.1 1390.8,481.9 1391.2,480.6 1391.6,478.8 1392,480.5 1392.4,482.3 1392.8,481.1 1393.2,478 1393.6,478 1394,481.2 1394.4,483.9 1394.8,483.2 1395.2,482.1 1395.6,481.4 1396,482.5 1396.4,479.3 1396.8,479.4 1397.2,482.7 1397.6,484 1398,483.8 1398.4,483.9 1398.8,482 1399.2,480.1 1399.6,480.1 1400,482 1400.4,483.9 1400.8,483.3 1401.2,483.4 1401.6,480.1 1402,475.1 1402.4,475.3 1402.8,480.3 1403.2,483 1403.6,482.6 1404,482.7 1404.4,482.7 1404.8,483.1 1405.2,484.2 1405.6,484 1406,482.7 1406.4,481 1406.8,479.3 1407.2,477.7 1407.6,477.1 1408,478.8 1408.4,480.4 1408.8,482.1 1409.2,483.6 1409.6,484.1 1410,484 1410.4,484.6 1410.8,484.1 1411.2,481.7 1411.6,479.2 1412,476.9 1412.4,479.4 1412.8,481.9 1413.2,483.6 1413.6,484.4 1414,484.2 1414.4,483.2 1414.8,482.3 1415.2,481.7 1415.6,482.7 1416,483.1 1416.4,482.2 1416.8,481.2 1417.2,480.7 1417.6,480.4 1418,480.3 1418.4,480.9 1418.8,481 1419.2,480.8 1419.6,480.9 1420,479.9 1420.4,478.9 1420.8,479 1421.2,480 1421.6,481.1 1422,482 1422.4,482.6 1422.8,482.2 1423.2,481.9 1423.6,481.7 1424,481.5 1424.4,482.3 1424.8,481.9 1425.2,483.4 1425.6,483.9 1426,484.3 1426.4,483.6 1426.8,482.9 1427.2,483 1427.6,483.2 1428,483.1 1428.4,482.3 1428.8,482.6 1429.2,482.7 1429.6,483.8 1430,483.8 1430.4,484.3 1430.8,484.6 1431.2,484.7 1431.6,484.8 1432,485.1 1432.4,484.9 1432.8,483.4 1433.2,482.2 1433.6,483.7 1434,484 1434.4,484.1 1434.8,485.4 1435.2,484.4 1435.6,484.2 1436,484.7 1436.4,484.2 1436.8,484.4 1437.2,484.9 1437.6,485.4 1438,484.6 1438.4,484 1438.8,482.7 1439.2,481.5 1439.6,480.3 1440,481.5 1440.4,482.1 1440.8,481.5 1441.2,481.2 1441.6,480.2 1442,478.3 1442.4,479.4 1442.8,481.3 1443.2,484 1443.6,483.2 1444,484.1 1444.4,482.1 1444.8,477.4 1445.2,480.3 1445.6,484.8 1446,484.2 1446.4,482.4 1446.8,479 1447.2,475.5 1447.6,472.1 1448,473.3 1448.4,476.7 1448.8,480.2 1449.2,483.6 1449.6,483.4 1450,482.4 1450.4,481.1 1450.8,480.6 1451.2,481.9 1451.6,483.1 1452,481.2 1452.4,479.3 1452.8,481.2 1453.2,483.2 1453.6,484.1 1454,482.6 1454.4,482.6 1454.8,479.4 1455.2,475.6 1455.6,471.8 1456,470.7 1456.4,474.5 1456.8,478.4 1457.2,482.2 1457.6,483.3 1458,482.8 1458.4,482.7 1458.8,482.3 1459.2,482.1 1459.6,481.4 1460,478.5 1460.4,477.5 1460.8,480.5 1461.2,483.4 1461.6,481.6 1462,479.7 1462.4,477.7 1462.8,476.4 1463.2,478.4 1463.6,480.3 1464,482.3 1464.4,484.7 1464.8,483.9 1465.2,482.6 1465.6,481.4 1466,481.8 1466.4,482.1 1466.8,482.2 1467.2,481.6 1467.6,482.6 1468,482.7 1468.4,483.3 1468.8,483.9 1469.2,483.7 1469.6,482.8 1470,483.7 1470.4,483.3 1470.8,481.7 1471.2,482.1 1471.6,483.7 1472,485.1 1472.4,484.3 1472.8,483.2 1473.2,481.2 1473.6,483.5 1474,484 1474.4,483.8 1474.8,482.7 1475.2,482.1 1475.6,480.6 1476,480.4 1476.4,480.5 1476.8,480.6 1477.2,481.2 1477.6,481.6 1478,481.9 1478.4,481.9 1478.8,482.9 1479.2,482.5 1479.6,483.5 1480,482.9 1480.4,482.4 1480.8,481.9 1481.2,482 1481.6,482.3 1482,482.1 1482.4,483.3 1482.8,483.5 1483.2,479.6 1483.6,475.8 1484,471.9 1484.4,475 1484.8,478.9 1485.2,482.7 1485.6,482.5 1486,482 1486.4,481.9 1486.8,482.6 1487.2,481.7 1487.6,480.6 1488,480.6 1488.4,481.8 1488.8,482.9 1489.2,484 1489.6,484.8 1490,483.5 1490.4,483 1490.8,482.4 1491.2,481.9 1491.6,481.5 1492,482.2 1492.4,482.7 1492.8,482.2 1493.2,481.6 1493.6,482.3 1494,482.2 1494.4,482.6 1494.8,482.8 1495.2,482.1 1495.6,483 1496,483.4 1496.4,483.6 1496.8,483.6 1497.2,482.5 1497.6,481.8 1498,482.8 1498.4,482.9 1498.8,482.2 1499.2,481.8 1499.6,482.2 1500,482.3 1500.4,479.1 1500.8,475.6 1501.2,472.1 1501.6,468.8 1502,472.3 1502.4,475.7 1502.8,479.2 1503.2,482.7 1503.6,482.8 1504,484 1504.4,483.2 1504.8,481.1 1505.2,480.4 1505.6,482.5 1506,483.1 1506.4,482.1 1506.8,482.6 1507.2,483.3 1507.6,483 1508,478.3 1508.4,472.5 1508.8,470.6 1509.2,476.4 1509.6,482.2 1510,483.4 1510.4,481.9 1510.8,483 1511.2,484.5 1511.6,481.3 1512,478.3 1512.4,475.3 1512.8,472.2 1513.2,472.1 1513.6,475.1 1514,478.2 1514.4,481 1514.8,481.4 1515.2,482.5 1515.6,483.9 1516,483.1 1516.4,479.1 1516.8,478.7 1517.2,482.7 1517.6,482.8 1518,482.9 1518.4,482.3 1518.8,480.3 1519.2,478.8 1519.6,480.2 1520,480.6 1520.4,481.7 1520.8,481.6 1521.2,482.6 1521.6,482.3 1522,481.3 1522.4,482.3 1522.8,483.3 1523.2,484.3 1523.6,484.9 1524,484 1524.4,482.9 1524.8,481 1525.2,479.1 1525.6,477.1 1526,478.1 1526.4,480 1526.8,482 1527.2,483.9 1527.6,483 1528,482.4 1528.4,482.4 1528.8,483.2 1529.2,483.1 1529.6,483.3 1530,481.9 1530.4,482.3 1530.8,480.9 1531.2,475.3 1531.6,469.7 1532,473.2 1532.4,478.8 1532.8,483 1533.2,481.7 1533.6,481.9 1534,481.1 1534.4,482.3 1534.8,482.5 1535.2,480.9 1535.6,482.2 1536,482.7 1536.4,479 1536.8,475.4 1537.2,471.8 1537.6,469.3 1538,472.9 1538.4,476.5 1538.8,480.2 1539.2,484.6 1539.6,483.3 1540,481.7 1540.4,480.2 1540.8,480.7 1541.2,482.3 1541.6,482.8 1542,482.3 1542.4,481.3 1542.8,481 1543.2,481 1543.6,480.3 1544,480.2 1544.4,481.4 1544.8,481.6 1545.2,482.7 1545.6,482.9 1546,483.1 1546.4,483.6 1546.8,483.9 1547.2,482.5 1547.6,481.1 1548,477.7 1548.4,474.2 1548.8,475.1 1549.2,478.6 1549.6,482 1550,484.9 1550.4,485 1550.8,485.2 1551.2,484.6 1551.6,484.9 1552,485 1552.4,485.2 1552.8,483.8 1553.2,483.3 1553.6,483.8 1554,483.1 1554.4,482.9 1554.8,483.1 1555.2,483.1 1555.6,483.6 1556,484.2 1556.4,482.9 1556.8,481.2 1557.2,479.4 1557.6,480.2 1558,481.9 1558.4,483.4 1558.8,482.7 1559.2,480.7 1559.6,478.6 1560,476.6 1560.4,478.4 1560.8,480.4 1561.2,479.3 1561.6,478.3 1562,480 1562.4,481.8 1562.8,479.9 1563.2,477.4 1563.6,474.9 1564,475.2 1564.4,477.7 1564.8,480.1 1565.2,482.1 1565.6,483.1 1566,482.5 1566.4,482.8 1566.8,483.9 1567.2,483.7 1567.6,483.3 1568,483.9 1568.4,484.5 1568.8,484.9 1569.2,484.8 1569.6,483.8 1570,479.1 1570.4,474.4 1570.8,469.7 1571.2,472.4 1571.6,477.1 1572,481.9 1572.4,481.8 1572.8,482.3 1573.2,482.9 1573.6,483 1574,481 1574.4,480.6 1574.8,480.5 1575.2,478.8 1575.6,477 1576,473.7 1576.4,470.7 1576.8,470.7 1577.2,470.7 1577.6,470.7 1578,470.7 1578.4,470.7 1578.8,470.7 1579.2,473.7 1579.6,482 1580,484 1580.4,483.9 1580.8,482.5 1581.2,482.6 1581.6,482.8 1582,481 1582.4,479.1 1582.8,480.3 1583.2,482.1 1583.6,483.6 1584,483.6 1584.4,484.1 1584.8,484.2 1585.2,483.2 1585.6,482.3 1586,482.5 1586.4,483.5 1586.8,483.7 1587.2,484.2 1587.6,483.8 1588,484.8 1588.4,484.7 1588.8,483.2 1589.2,481.8 1589.6,481.4 1590,482.2 1590.4,482.8 1590.8,483.2 1591.2,484 1591.6,483.8 1592,483 1592.4,482.2 1592.8,482.8 1593.2,482.6 1593.6,481.2 1594,478.5 1594.4,481.9 1594.8,484 1595.2,484.1 1595.6,482.9 1596,482.8 1596.4,483 1596.8,483.9 1597.2,483.5 1597.6,480.8 1598,477.5 1598.4,474.2 1598.8,470.9 1599.2,469.8 1599.6,473.1 1600,476.4 1600.4,479.7 1600.8,483 1601.2,483.9 1601.6,482.4 1602,479.6 1602.4,478.5 1602.8,481.2 1603.2,484 1603.6,484.3 1604,482.3 1604.4,480.4 1604.8,478.4 1605.2,479.8 1605.6,481.8 1606,481.1 1606.4,481.4 1606.8,481.4 1607.2,480 1607.6,480.1 1608,480.3 1608.4,480 1608.8,480.1 1609.2,481.1 1609.6,482 1610,482 1610.4,481.7 1610.8,481.9 1611.2,481.2 1611.6,479.1 1612,477 1612.3,488.7" fill="#1674c0" stroke="#1674c0" stroke-width="1.4" stroke-linejoin="miter" stroke-miterlimit="2"/>
<polygon points="890.7,797.1 890.8,793.5 891.2,792.6 891.6,791 892,790.2 892.4,791.4 892.8,791.2 893.2,791.8 893.6,792.7 894,793.3 894.4,793.1 894.8,793.6 895.2,793.1 895.6,792.4 896,791.7 896.4,792.5 896.8,792.2 897.2,792.8 897.6,793.2 898,792.8 898.4,792.9 898.8,793.4 899.2,793.3 899.6,792.4 900,791.7 900.4,791.3 900.8,791.4 901.2,790.8 901.6,789.4 902,788.4 902.4,789.8 902.8,791.3 903.2,791.9 903.6,791.9 904,791.7 904.4,790.7 904.8,790.4 905.2,791.4 905.6,790.8 906,789.8 906.4,789.9 906.8,790.9 907.2,791 907.6,790.1 908,790.8 908.4,791.5 908.8,791.4 909.2,790.6 909.6,790.8 910,790.8 910.4,789.7 910.8,788.5 911.2,787.3 911.6,787.5 912,788.7 912.4,790 912.8,791.2 913.2,792.2 913.6,792.5 914,792.5 914.4,791.9 914.8,792.2 915.2,792.6 915.6,791.6 916,790.6 916.4,789.5 916.8,790.5 917.2,791.5 917.6,791.5 918,789.5 918.4,787.4 918.8,785.4 919.2,786 919.6,788.1 920,790.1 920.4,789 920.8,787.7 921.2,788.9 921.6,790.2 922,791.5 922.4,791.1 922.8,791 923.2,792 923.6,791 924,790.5 924.4,790.7 924.8,791.4 925.2,791.4 925.6,792 926,787.4 926.4,782.6 926.8,782.6 927.2,782.6 927.6,782.6 928,782.6 928.4,782.6 928.8,782.6 929.2,782.6 929.6,792.2 930,793 930.4,792.9 930.8,793 931.2,792.2 931.6,791.7 932,791.5 932.4,791.4 932.8,791.7 933.2,793 933.6,792 934,789.4 934.4,788.4 934.8,791 935.2,791.2 935.6,791.8 936,792.1 936.4,793.2 936.8,792.4 937.2,792.1 937.6,792.6 938,792.3 938.4,791.9 938.8,792.5 939.2,793.3 939.6,792.4 940,792.6 940.4,792.7 940.8,793.1 941.2,792.7 941.6,793.5 942,793.7 942.4,792.7 942.8,792.6 943.2,793 943.6,792.6 944,792.8 944.4,792.9 944.8,791.4 945.2,790.9 945.6,792.4 946,791.8 946.4,788.3 946.8,789.6 947.2,791.7 947.6,791.9 948,791.5 948.4,791.8 948.8,792.5 949.2,793.7 949.6,792.9 950,791.6 950.4,790.4 950.8,789.2 951.2,788 951.6,788.9 952,790.1 952.4,789.4 952.8,786.5 953.2,783.6 953.6,785.9 954,788.8 954.4,790.8 954.8,789.9 955.2,788.8 955.6,789.1 956,790.3 956.4,791.5 956.8,791.7 957.2,793 957.6,793.5 958,793.5 958.4,793.4 958.8,794 959.2,793.3 959.6,793.6 960,792.6 960.4,791.7 960.8,791.6 961.2,792.6 961.6,793.5 962,792.3 962.4,793.3 962.8,793.1 963.2,792.6 963.6,790.8 964,778.3 964.4,778.3 964.8,778.3 965.2,778.3 965.6,778.3 966,778.3 966.4,778.3 966.8,778.3 967.2,781.7 967.6,785.4 968,789.1 968.4,791.9 968.8,791.3 969.2,790.7 969.6,791.3 970,791.9 970.4,792.4 970.8,793 971.2,792.7 971.6,791.2 972,789.7 972.4,790.3 972.8,791.5 973.2,792 973.6,791.6 974,792.5 974.4,792.5 974.8,792.3 975.2,792.4 975.6,793 976,792.2 976.4,791.2 976.8,791.7 977.2,792.7 977.6,793.2 978,791.8 978.4,790.6 978.8,789.3 979.2,788.1 979.6,788.8 980,790.1 980.4,791.3 980.8,792.2 981.2,791.6 981.6,789.3 982,787 982.4,784.7 982.8,786.6 983.2,788.9 983.6,791.2 984,792.7 984.4,790.8 984.8,788.9 985.2,788.5 985.6,790.5 986,792.5 986.4,791.2 986.8,789.9 987.2,788.5 987.6,789.2 988,790.6 988.4,792 988.8,792.4 989.2,792.4 989.6,791.4 990,791.2 990.4,791.7 990.8,792.3 991.2,793.2 991.6,793.6 992,792.5 992.4,791.7 992.8,790 993.2,788.4 993.6,788.3 994,790 994.4,791.5 994.8,790 995.2,790.3 995.6,790.1 996,789.8 996.4,790.4 996.8,779.9 997.2,779.9 997.6,779.9 998,779.9 998.4,779.9 998.8,779.9 999.2,779.9 999.6,779.9 1000,784.6 1000.4,779.5 1000.8,785.5 1001.2,791.4 1001.6,790.8 1002,790.8 1002.4,791 1002.8,791.1 1003.2,790.7 1003.6,790.5 1004,791 1004.4,786.9 1004.8,782.9 1005.2,779.4 1005.6,783.4 1006,787.5 1006.4,790.4 1006.8,789.9 1007.2,790.1 1007.6,790 1008,787.2 1008.4,784.4 1008.8,784.8 1009.2,787.6 1009.6,788.7 1010,787 1010.4,785.3 1010.8,785.5 1011.2,787.2 1011.6,769.4 1012,769.4 1012.4,769.4 1012.8,769.4 1013.2,769.4 1013.6,769.4 1014,769.4 1014.4,769.4 1014.8,778.6 1015.2,788.2 1015.6,788.2 1016,789.2 1016.4,790.1 1016.8,785.2 1017.2,780.3 1017.6,782.8 1018,787.8 1018.4,790.7 1018.8,788.9 1019.2,788 1019.6,789.8 1020,791.6 1020.4,791.6 1020.8,790.8 1021.2,788.3 1021.6,787.2 1022,789.7 1022.4,791.4 1022.8,790.5 1023.2,789.6 1023.6,790.4 1024,790.4 1024.4,790.4 1024.8,790.9 1025.2,790.1 1025.6,790.8 1026,791.8 1026.4,787.2 1026.8,782.6 1027.2,759.4 1027.6,740.5 1028,740.5 1028.4,740.5 1028.8,740.5 1029.2,740.5 1029.6,740.5 1030,740.5 1030.4,740.5 1030.8,778.2 1031.2,789.5 1031.6,790.7 1032,791.9 1032.4,793 1032.8,792.4 1033.2,791.8 1033.6,791.9 1034,791.3 1034.4,791.5 1034.8,792.1 1035.2,790.8 1035.6,791.3 1036,791.4 1036.4,791.3 1036.8,790.6 1037.2,790.8 1037.6,790.7 1038,791.6 1038.4,790.6 1038.8,791.4 1039.2,791.7 1039.6,790.8 1040,788.1 1040.4,785.3 1040.8,782.6 1041.2,783.1 1041.6,785.8 1042,788.6 1042.4,791 1042.8,789.7 1043.2,787.9 1043.6,786.1 1044,785 1044.4,786.8 1044.8,788.6 1045.2,790.4 1045.6,715.2 1046,674.2 1046.4,674.2 1046.8,674.2 1047.2,674.2 1047.6,674.2 1048,674.2 1048.4,674.2 1048.8,674.2 1049.2,756.1 1049.6,790.6 1050,791.1 1050.4,786.9 1050.8,783.5 1051.2,789.9 1051.6,792.2 1052,791.1 1052.4,790.3 1052.8,789.1 1053.2,790 1053.6,788.5 1054,785.8 1054.4,785.6 1054.8,782.4 1055.2,775 1055.6,775 1056,775 1056.4,775 1056.8,775 1057.2,775 1057.6,775 1058,775 1058.4,789.7 1058.8,791.3 1059.2,791.1 1059.6,792.2 1060,793.2 1060.4,792.9 1060.8,789 1061.2,785 1061.6,781.1 1062,783 1062.4,787 1062.8,790.1 1063.2,789.1 1063.6,789.7 1064,789.9 1064.4,789.1 1064.8,787.6 1065.2,788.9 1065.6,694.1 1066,642.6 1066.4,642.6 1066.8,642.6 1067.2,642.6 1067.6,642.6 1068,642.6 1068.4,642.6 1068.8,642.6 1069.2,745.6 1069.6,783 1070,780 1070.4,781.2 1070.8,784.3 1071.2,787.3 1071.6,790.3 1072,793.7 1072.4,788.5 1072.8,781.9 1073.2,783 1073.6,789.6 1074,790.3 1074.4,788.1 1074.8,785.9 1075.2,783.7 1075.6,785.3 1076,787.5 1076.4,789.7 1076.8,789.9 1077.2,791.3 1077.6,790.4 1078,790.7 1078.4,791.6 1078.8,792.5 1079.2,792.4 1079.6,791.4 1080,792.3 1080.4,780.8 1080.8,772.7 1081.2,772.7 1081.6,772.7 1082,772.7 1082.4,772.7 1082.8,772.7 1083.2,772.7 1083.6,772.7 1084,789 1084.4,790.1 1084.8,788.6 1085.2,787.1 1085.6,785.6 1086,784.8 1086.4,786.3 1086.8,787.8 1087.2,789.3 1087.6,790.6 1088,790.1 1088.4,729.2 1088.8,593.3 1089.2,593.3 1089.6,593.3 1090,593.3 1090.4,593.3 1090.8,593.3 1091.2,593.3 1091.6,593.3 1092,661.2 1092.4,789.1 1092.8,783.1 1093.2,783.2 1093.6,789.2 1094,792.5 1094.4,791.8 1094.8,790.2 1095.2,790 1095.6,788.9 1096,787.5 1096.4,768.4 1096.8,768.4 1097.2,768.4 1097.6,768.4 1098,768.4 1098.4,768.4 1098.8,768.4 1099.2,768.4 1099.6,778 1100,791.2 1100.4,791.6 1100.8,791.3 1101.2,791.3 1101.6,789.2 1102,785.6 1102.4,781.9 1102.8,780 1103.2,783.6 1103.6,787.3 1104,789.7 1104.4,790.1 1104.8,789.7 1105.2,790.2 1105.6,789.7 1106,789.6 1106.4,789.8 1106.8,790.6 1107.2,791.8 1107.6,790.7 1108,789.4 1108.4,789.8 1108.8,791.1 1109.2,791.6 1109.6,791.7 1110,791.8 1110.4,791.4 1110.8,789.1 1111.2,787.8 1111.6,790.4 1112,790.2 1112.4,789.3 1112.8,790.5 1113.2,791 1113.6,792.4 1114,774.8 1114.4,685.6 1114.8,663.3 1115.2,663.3 1115.6,663.3 1116,663.3 1116.4,663.3 1116.8,663.3 1117.2,663.3 1117.6,685.6 1118,774.8 1118.4,788.7 1118.8,787.3 1119.2,789.6 1119.6,790.9 1120,790.5 1120.4,790.9 1120.8,790.3 1121.2,790.1 1121.6,790.4 1122,789.7 1122.4,789.9 1122.8,789.9 1123.2,788.6 1123.6,789.2 1124,790.5 1124.4,791.2 1124.8,790.9 1125.2,791.3 1125.6,786.6 1126,776 1126.4,776 1126.8,776 1127.2,776 1127.6,776 1128,776 1128.4,776 1128.8,776 1129.2,786.5 1129.6,786.7 1130,786.3 1130.4,788.6 1130.8,790.9 1131.2,793.2 1131.6,793.8 1132,793.9 1132.4,794.2 1132.8,794 1133.2,790.5 1133.6,786.8 1134,783.1 1134.4,781.9 1134.8,785.6 1135.2,789.3 1135.6,788.3 1136,787.6 1136.4,788.7 1136.8,787.5 1137.2,785.7 1137.6,785 1138,786.8 1138.4,786.8 1138.8,782 1139.2,781.1 1139.6,786 1140,789 1140.4,789.9 1140.8,790.4 1141.2,790.4 1141.6,791.6 1142,792.6 1142.4,792.2 1142.8,791.6 1143.2,792.1 1143.6,758.9 1144,682.4 1144.4,682.4 1144.8,682.4 1145.2,682.4 1145.6,682.4 1146,682.4 1146.4,682.4 1146.8,682.4 1147.2,720.6 1147.6,791.8 1148,789.9 1148.4,787.5 1148.8,787.4 1149.2,789.8 1149.6,792.1 1150,791.7 1150.4,791.9 1150.8,791.2 1151.2,791.2 1151.6,786.5 1152,781.7 1152.4,781.3 1152.8,786.1 1153.2,790.8 1153.6,793.7 1154,794.1 1154.4,794.1 1154.8,793.2 1155.2,793.4 1155.6,792.8 1156,792.2 1156.4,791.6 1156.8,792.6 1157.2,792.5 1157.6,791.3 1158,790.2 1158.4,789.8 1158.8,789.8 1159.2,788.7 1159.6,788.1 1160,786.6 1160.4,788.2 1160.8,789.5 1161.2,790.6 1161.6,788.2 1162,787.3 1162.4,786.6 1162.8,776 1163.2,776 1163.6,776 1164,776 1164.4,776 1164.8,776 1165.2,776 1165.6,776 1166,786.5 1166.4,790.9 1166.8,792.3 1167.2,793.3 1167.6,792.7 1168,792.7 1168.4,792.4 1168.8,791.3 1169.2,790.9 1169.6,791.1 1170,789.9 1170.4,791.6 1170.8,791.9 1171.2,792.1 1171.6,789.4 1172,786.8 1172.4,789.6 1172.8,792.4 1173.2,793.1 1173.6,792.3 1174,789 1174.4,784.1 1174.8,782.1 1175.2,787 1175.6,791.8 1176,792.6 1176.4,791.4 1176.8,791.2 1177.2,790.8 1177.6,790.7 1178,764.2 1178.4,747.7 1178.8,747.7 1179.2,747.7 1179.6,747.7 1180,747.7 1180.4,747.7 1180.8,747.7 1181.2,747.7 1181.6,780.6 1182,791.1 1182.4,790.6 1182.8,791 1183.2,791.1 1183.6,791.3 1184,791.5 1184.4,790.9 1184.8,789 1185.2,788.9 1185.6,790.8 1186,790.8 1186.4,791 1186.8,791.1 1187.2,791.8 1187.6,792.5 1188,792.2 1188.4,791.3 1188.8,790.4 1189.2,789.6 1189.6,790.4 1190,791.3 1190.4,791 1190.8,790.3 1191.2,789.9 1191.6,790 1192,787.4 1192.4,784.7 1192.8,785.8 1193.2,788.5 1193.6,791.3 1194,791.3 1194.4,792.4 1194.8,792.7 1195.2,791.1 1195.6,789.4 1196,787.8 1196.4,789.2 1196.8,790.9 1197.2,792.5 1197.6,792.1 1198,792.4 1198.4,792.9 1198.8,790.8 1199.2,788.6 1199.6,787.2 1200,789.4 1200.4,791.5 1200.8,791.2 1201.2,791.2 1201.6,788.6 1202,786.1 1202.4,783.5 1202.8,784 1203.2,786.5 1203.6,789.1 1204,791.6 1204.4,793.9 1204.8,792.9 1205.2,792.3 1205.6,791.5 1206,790.5 1206.4,788.9 1206.8,787.2 1207.2,786.3 1207.6,787.9 1208,789.5 1208.4,791.2 1208.8,792.8 1209.2,792.4 1209.6,791.2 1210,790.8 1210.4,792 1210.8,791.9 1211.2,792.5 1211.6,792.1 1212,788.3 1212.4,786.2 1212.8,790.1 1213.2,791.5 1213.6,791.8 1214,791.1 1214.4,790.6 1214.8,786.8 1215.2,788 1215.6,789.1 1216,786.9 1216.4,784.8 1216.8,786 1217.2,788.2 1217.6,772.6 1218,760.3 1218.4,760.3 1218.8,760.3 1219.2,760.3 1219.6,760.3 1220,760.3 1220.4,760.3 1220.8,760.3 1221.2,784.8 1221.6,791.8 1222,791.3 1222.4,790.2 1222.8,787.9 1223.2,787.8 1223.6,790.1 1224,792.3 1224.4,791.1 1224.8,792.5 1225.2,792.3 1225.6,792.2 1226,793 1226.4,792 1226.8,790.8 1227.2,790.3 1227.6,790.6 1228,790.4 1228.4,791.2 1228.8,791.1 1229.2,788.6 1229.6,786.1 1230,784.9 1230.4,787.4 1230.8,789.9 1231.2,791.2 1231.6,790.8 1232,792.4 1232.4,792.5 1232.8,792.5 1233.2,791.9 1233.6,792.1 1234,792.1 1234.4,790.8 1234.8,792.7 1235.2,792.5 1235.6,793 1236,792.2 1236.4,792.2 1236.8,789.5 1237.2,786.7 1237.6,784 1238,784.8 1238.4,787.5 1238.8,790.3 1239.2,792.8 1239.6,793 1240,791.8 1240.4,790.6 1240.8,790.4 1241.2,791.2 1241.6,791.6 1242,790.3 1242.4,788.9 1242.8,790.5 1243.2,792.1 1243.6,792.2 1244,790.6 1244.4,788.5 1244.8,786.4 1245.2,784.2 1245.6,786 1246,788.2 1246.4,790.3 1246.8,788.9 1247.2,786.2 1247.6,783.4 1248,782 1248.4,784.8 1248.8,787.6 1249.2,790.4 1249.6,790.7 1250,789.6 1250.4,788.5 1250.8,789.7 1251.2,790.8 1251.6,791.7 1252,791.9 1252.4,791.9 1252.8,793.2 1253.2,792.9 1253.6,792.8 1254,791.9 1254.4,790.5 1254.8,790 1255.2,791.3 1255.6,792.5 1256,791.8 1256.4,791.3 1256.8,791.8 1257.2,792.1 1257.6,792.2 1258,791.6 1258.4,791.8 1258.8,793.2 1259.2,793.4 1259.6,792.8 1260,790.8 1260.4,788.9 1260.8,786.9 1261.2,787.9 1261.6,789.9 1262,791.8 1262.4,793 1262.8,793.8 1263.2,793.5 1263.6,793 1264,776.6 1264.4,766.4 1264.8,766.4 1265.2,766.4 1265.6,766.4 1266,766.4 1266.4,766.4 1266.8,766.4 1267.2,766.4 1267.6,786.9 1268,792.5 1268.4,786.5 1268.8,779.8 1269.2,785.5 1269.6,791.1 1270,790.4 1270.4,791.3 1270.8,791.3 1271.2,792 1271.6,792.3 1272,792 1272.4,789.4 1272.8,786.2 1273.2,783.1 1273.6,783.8 1274,786.9 1274.4,790 1274.8,787.5 1275.2,783.6 1275.6,782.8 1276,786.7 1276.4,790.5 1276.8,791.2 1277.2,790.9 1277.6,791.9 1278,791.5 1278.4,787.2 1278.8,782.8 1279.2,785.7 1279.6,790.1 1280,790.5 1280.4,788.3 1280.8,788.1 1281.2,790.3 1281.6,792 1282,792.2 1282.4,792.1 1282.8,792.8 1283.2,792.9 1283.6,793 1284,793.4 1284.4,793.8 1284.8,793.6 1285.2,793.1 1285.6,792.6 1286,792.7 1286.4,790.8 1286.8,788.3 1287.2,785.7 1287.6,785.3 1288,787.8 1288.4,790.4 1288.8,792.2 1289.2,792.2 1289.6,792.7 1290,792.2 1290.4,791.9 1290.8,792.5 1291.2,793.1 1291.6,792.6 1292,792.3 1292.4,790.8 1292.8,789.3 1293.2,787.8 1293.6,789.1 1294,790.6 1294.4,792.1 1294.8,789.7 1295.2,786.5 1295.6,783.4 1296,786.6 1296.4,789.7 1296.8,792.9 1297.2,793.6 1297.6,792.7 1298,792.3 1298.4,791.7 1298.8,791.2 1299.2,791.1 1299.6,790.5 1300,789.2 1300.4,788.8 1300.8,790 1301.2,791.3 1301.6,792.4 1302,792.9 1302.4,791.3 1302.8,789.6 1303.2,787.9 1303.6,787.9 1304,789.6 1304.4,791.2 1304.8,792.4 1305.2,790.1 1305.6,789.2 1306,791.4 1306.4,792.2 1306.8,791.4 1307.2,790.6 1307.6,789.8 1308,790.2 1308.4,791 1308.8,791.4 1309.2,791.8 1309.6,791.5 1310,790.9 1310.4,790.2 1310.8,791.2 1311.2,792.1 1311.6,792.4 1312,792.7 1312.4,792.9 1312.8,791.9 1313.2,790.9 1313.6,789.9 1314,790.2 1314.4,791.2 1314.8,791.5 1315.2,791.5 1315.6,788.7 1316,783.9 1316.4,787.9 1316.8,792.7 1317.2,793.2 1317.6,793.6 1318,793.5 1318.4,792.9 1318.8,789.8 1319.2,786.8 1319.6,785.6 1320,788.6 1320.4,787.2 1320.8,767.5 1321.2,767.5 1321.6,767.5 1322,767.5 1322.4,767.5 1322.8,767.5 1323.2,767.5 1323.6,767.5 1324,777.4 1324.4,792.9 1324.8,794.2 1325.2,792 1325.6,788.9 1326,785.8 1326.4,787.6 1326.8,790.7 1327.2,793.6 1327.6,793.4 1328,792.7 1328.4,793.1 1328.8,792.8 1329.2,792.3 1329.6,792.1 1330,792.2 1330.4,791.6 1330.8,790.5 1331.2,791 1331.6,791 1332,789.1 1332.4,788.9 1332.8,790.7 1333.2,790.6 1333.6,791.4 1334,791.9 1334.4,791.7 1334.8,792.2 1335.2,792.2 1335.6,791.9 1336,791.6 1336.4,792 1336.8,791.7 1337.2,792.3 1337.6,792.4 1338,793 1338.4,793 1338.8,792.4 1339.2,792.1 1339.6,791.9 1340,792.5 1340.4,791.9 1340.8,792 1341.2,792.1 1341.6,791.3 1342,790 1342.4,791.3 1342.8,792.6 1343.2,793.9 1343.6,793.4 1344,793 1344.4,793.2 1344.8,792.9 1345.2,791 1345.6,787.5 1346,791.4 1346.4,792 1346.8,791.1 1347.2,790.4 1347.6,791.3 1348,792 1348.4,791.8 1348.8,791.1 1349.2,789.4 1349.6,789 1350,791.5 1350.4,792.7 1350.8,792.6 1351.2,793.3 1351.6,793.5 1352,793.9 1352.4,793.6 1352.8,793.7 1353.2,793.3 1353.6,790 1354,786.8 1354.4,785.4 1354.8,788.6 1355.2,791.9 1355.6,793.2 1356,793.2 1356.4,792 1356.8,789.6 1357.2,787.2 1357.6,784.7 1358,784.3 1358.4,786.7 1358.8,789.1 1359.2,791.6 1359.6,792 1360,791.7 1360.4,792.1 1360.8,791.2 1361.2,790.3 1361.6,790.4 1362,791.3 1362.4,791.1 1362.8,791.2 1363.2,790.2 1363.6,790.3 1364,784.7 1364.4,783.7 1364.8,789.2 1365.2,790 1365.6,788.9 1366,787.9 1366.4,788.2 1366.8,789.3 1367.2,790.3 1367.6,791.4 1368,792.6 1368.4,792.6 1368.8,792.2 1369.2,791.4 1369.6,790.7 1370,791.5 1370.4,792.1 1370.8,792.2 1371.2,792.6 1371.6,792 1372,792.3 1372.4,792.5 1372.8,793.6 1373.2,792.4 1373.6,792.8 1374,792.8 1374.4,792 1374.8,791.9 1375.2,792.7 1375.6,792.2 1376,790.3 1376.4,784.1 1376.8,780.3 1377.2,786.5 1377.6,791 1378,791 1378.4,791.2 1378.8,791.8 1379.2,791.1 1379.6,791.6 1380,792.3 1380.4,792.8 1380.8,792.2 1381.2,791.4 1381.6,791.1 1382,792 1382.4,791.8 1382.8,791.7 1383.2,792.2 1383.6,793 1384,793 1384.4,792.6 1384.8,792.2 1385.2,792 1385.6,791.8 1386,792.3 1386.4,793.4 1386.8,793.1 1387.2,792.7 1387.6,792.9 1388,793.3 1388.4,793.2 1388.8,793 1389.2,793 1389.6,793.7 1390,793.1 1390.4,792.6 1390.8,792.1 1391.2,792.6 1391.6,791.7 1392,792 1392.4,792.2 1392.8,791.6 1393.2,791.7 1393.6,791.5 1394,792 1394.4,790.2 1394.8,791.2 1395.2,791.5 1395.6,792.1 1396,791.4 1396.4,791.2 1396.8,790.8 1397.2,789.7 1397.6,787.9 1398,788.4 1398.4,790.2 1398.8,792 1399.2,792.7 1399.6,791.8 1400,791.2 1400.4,792.1 1400.8,792.8 1401.2,792.9 1401.6,792.4 1402,792.3 1402.4,793.4 1402.8,791.5 1403.2,789.9 1403.6,791.8 1404,793.4 1404.4,792.5 1404.8,791.8 1405.2,791.7 1405.6,792.5 1406,792.6 1406.4,793.6 1406.8,792.8 1407.2,793.7 1407.6,789.6 1408,783.9 1408.4,789.6 1408.8,792.6 1409.2,791.6 1409.6,792.2 1410,790.9 1410.4,789.4 1410.8,788.8 1411.2,791.2 1411.6,791.9 1412,792.1 1412.4,790.4 1412.8,787 1413.2,783.6 1413.6,785.8 1414,789.2 1414.4,789 1414.8,787.2 1415.2,787.8 1415.6,789.5 1416,791.3 1416.4,792.8 1416.8,792.1 1417.2,790.2 1417.6,791.4 1418,792.2 1418.4,791.5 1418.8,791.4 1419.2,792.1 1419.6,792.3 1420,792.3 1420.4,792.7 1420.8,793.1 1421.2,792.5 1421.6,791.5 1422,790.5 1422.4,790.3 1422.8,791.3 1423.2,792.4 1423.6,792.5 1424,792.4 1424.4,790.7 1424.8,787.4 1425.2,784 1425.6,780.6 1426,781 1426.4,784.4 1426.8,787.7 1427.2,790.7 1427.6,790.7 1428,791.2 1428.4,791.6 1428.8,792.2 1429.2,791.6 1429.6,791.4 1430,790.9 1430.4,790.1 1430.8,791.2 1431.2,791.1 1431.6,790.5 1432,791 1432.4,791.9 1432.8,792 1433.2,792.7 1433.6,791.9 1434,792.2 1434.4,789.3 1434.8,786 1435.2,782.7 1435.6,783 1436,786.3 1436.4,789.6 1436.8,789.7 1437.2,782.6 1437.6,785.9 1438,793 1438.4,793.7 1438.8,792.2 1439.2,790.3 1439.6,788.3 1440,789.5 1440.4,791.4 1440.8,792.8 1441.2,792 1441.6,791.3 1442,791.3 1442.4,792 1442.8,789.6 1443.2,786.1 1443.6,785.2 1444,788.7 1444.4,791.2 1444.8,789.1 1445.2,790.2 1445.6,790.8 1446,791.2 1446.4,791 1446.8,791.8 1447.2,791.7 1447.6,789.9 1448,787.6 1448.4,788.2 1448.8,790.4 1449.2,790.8 1449.6,789.3 1450,787.8 1450.4,788.5 1450.8,790 1451.2,791.5 1451.6,793 1452,792.3 1452.4,792.3 1452.8,792.9 1453.2,793.3 1453.6,792.9 1454,793.7 1454.4,793.5 1454.8,792.3 1455.2,791.2 1455.6,791.3 1456,792.4 1456.4,793.3 1456.8,792.4 1457.2,791.6 1457.6,790.7 1458,790.2 1458.4,791.1 1458.8,791.2 1459.2,792.2 1459.6,792.7 1460,791.7 1460.4,790.6 1460.8,790.7 1461.2,791.4 1461.6,792.2 1462,792.7 1462.4,792.7 1462.8,792.1 1463.2,791.4 1463.6,791.4 1464,792.1 1464.4,792.1 1464.8,791.6 1465.2,789.9 1465.6,788.2 1466,787 1466.4,788.7 1466.8,790.4 1467.2,792.1 1467.6,794 1468,793.4 1468.4,793.2 1468.8,794 1469.2,793.7 1469.6,793.6 1470,793.8 1470.4,793.1 1470.8,793.1 1471.2,793.9 1471.6,793.2 1472,792.4 1472.4,791.7 1472.8,791.6 1473.2,790.9 1473.6,789.5 1474,788.2 1474.4,788.9 1474.8,790.3 1475.2,791.6 1475.6,791.9 1476,791.5 1476.4,791.5 1476.8,790.9 1477.2,791.7 1477.6,792.4 1478,793.1 1478.4,792.3 1478.8,792.9 1479.2,792.4 1479.6,791.8 1480,792.3 1480.4,793 1480.8,792 1481.2,790.5 1481.6,790.7 1482,792.3 1482.4,793.4 1482.8,793 1483.2,792.5 1483.6,791.4 1484,789.5 1484.4,791.1 1484.8,791.6 1485.2,792.6 1485.6,793 1486,793.1 1486.4,792.8 1486.8,793.6 1487.2,792.2 1487.6,792 1488,792 1488.4,792 1488.8,791 1489.2,790.9 1489.6,791.1 1490,790.7 1490.4,790.2 1490.8,789.3 1491.2,786.8 1491.6,785.9 1492,788.4 1492.4,790.9 1492.8,791.5 1493.2,792 1493.6,789.6 1494,788.8 1494.4,791.9 1494.8,792.3 1495.2,792.2 1495.6,792 1496,791.4 1496.4,791.6 1496.8,790.8 1497.2,790.1 1497.6,790.4 1498,791.1 1498.4,790 1498.8,789.6 1499.2,791.3 1499.6,792.2 1500,793.3 1500.4,793.2 1500.8,793.3 1501.2,792.2 1501.6,790.8 1502,789.4 1502.4,788.8 1502.8,790.2 1503.2,791.5 1503.6,792.9 1504,793.4 1504.4,792.8 1504.8,792.4 1505.2,791.1 1505.6,789.9 1506,789.6 1506.4,790.8 1506.8,792.1 1507.2,792.8 1507.6,792 1508,792.2 1508.4,791.7 1508.8,791 1509.2,790.7 1509.6,791.2 1510,791.8 1510.4,792.3 1510.8,792.5 1511.2,791.6 1511.6,792.7 1512,792.2 1512.4,792.2 1512.8,791.7 1513.2,790.7 1513.6,790.1 1514,791.2 1514.4,791.6 1514.8,788.6 1515.2,785.6 1515.6,783.9 1516,786.9 1516.4,789.9 1516.8,792.7 1517.2,791.6 1517.6,792.2 1518,792.8 1518.4,792.6 1518.8,791.9 1519.2,791.3 1519.6,791.7 1520,792.3 1520.4,791.8 1520.8,790.6 1521.2,789.4 1521.6,789.9 1522,791.1 1522.4,792 1522.8,792.9 1523.2,792.9 1523.6,794 1524,793.2 1524.4,792.4 1524.8,793 1525.2,792.7 1525.6,792.2 1526,792.9 1526.4,793.4 1526.8,792.3 1527.2,792.5 1527.6,790 1528,787.5 1528.4,788.7 1528.8,791.2 1529.2,793.8 1529.6,794.5 1530,793.5 1530.4,792.6 1530.8,792 1531.2,791.9 1531.6,791.2 1532,790.5 1532.4,791.5 1532.8,792.4 1533.2,793.4 1533.6,793.7 1534,793.5 1534.4,792.8 1534.8,792.6 1535.2,791.5 1535.6,789.2 1536,791.8 1536.4,792.8 1536.8,793.2 1537.2,792.6 1537.6,792.6 1538,793.3 1538.4,792.3 1538.8,791.6 1539.2,792.8 1539.6,793.1 1540,791.9 1540.4,791.8 1540.8,792.1 1541.2,793.2 1541.6,793.8 1542,793.6 1542.4,793.8 1542.8,794.1 1543.2,793 1543.6,792.1 1544,792.2 1544.4,792.5 1544.8,792.3 1545.2,792.3 1545.6,792.1 1546,791.3 1546.4,790.8 1546.8,792.2 1547.2,792.8 1547.6,794.1 1548,792.7 1548.4,792.4 1548.8,792.4 1549.2,792.3 1549.6,791.6 1550,791.7 1550.4,792.7 1550.8,792.7 1551.2,793.4 1551.6,793.2 1552,793.4 1552.4,793.5 1552.8,793.4 1553.2,793.5 1553.6,794.1 1554,793.4 1554.4,792.7 1554.8,792 1555.2,791.3 1555.6,791.4 1556,792.3 1556.4,792.2 1556.8,791.8 1557.2,790.1 1557.6,788.6 1558,790.3 1558.4,792.1 1558.8,793.8 1559.2,793.3 1559.6,793.2 1560,793.2 1560.4,793.5 1560.8,793 1561.2,792.6 1561.6,792.5 1562,791.1 1562.4,789.7 1562.8,789.8 1563.2,791.1 1563.6,790.5 1564,790.7 1564.4,790.8 1564.8,791.1 1565.2,790.1 1565.6,790.3 1566,791.6 1566.4,792 1566.8,791.8 1567.2,792.9 1567.6,792.5 1568,792.4 1568.4,791.9 1568.8,791.8 1569.2,792.4 1569.6,792.4 1570,790.8 1570.4,791.7 1570.8,790.7 1571.2,791.1 1571.6,791.8 1572,791.4 1572.4,791.7 1572.8,789.6 1573.2,787.4 1573.6,788.8 1574,791 1574.4,792.6 1574.8,792.1 1575.2,792.5 1575.6,791.7 1576,791.9 1576.4,791.3 1576.8,791.9 1577.2,791.2 1577.6,790.8 1578,791.6 1578.4,791.5 1578.8,789.5 1579.2,789.8 1579.6,791.2 1580,789.6 1580.4,787.9 1580.8,786.8 1581.2,788.5 1581.6,790.1 1582,791.7 1582.4,791.4 1582.8,791.4 1583.2,791.7 1583.6,792.7 1584,793.2 1584.4,793 1584.8,791.2 1585.2,784.9 1585.6,780.5 1586,786.9 1586.4,791.9 1586.8,792 1587.2,792 1587.6,791.7 1588,791.3 1588.4,791.4 1588.8,791.7 1589.2,791.1 1589.6,791.2 1590,790.7 1590.4,789.1 1590.8,787.9 1591.2,789.5 1591.6,791.1 1592,791.2 1592.4,790.9 1592.8,789.9 1593.2,787.3 1593.6,788.8 1594,791 1594.4,790.9 1594.8,791.5 1595.2,791 1595.6,791.6 1596,792 1596.4,791.7 1596.8,790 1597.2,791.9 1597.6,793.5 1598,794.1 1598.4,793.6 1598.8,793 1599.2,792.4 1599.6,792.2 1600,791.9 1600.4,789.7 1600.8,791 1601.2,793.2 1601.6,793.4 1602,793 1602.4,793.2 1602.8,792.7 1603.2,792.7 1603.6,793.5 1604,793.2 1604.4,792.7 1604.8,793 1605.2,793.2 1605.6,792.1 1606,792.1 1606.4,792.9 1606.8,792.3 1607.2,791.9 1607.6,791.7 1608,791.2 1608.4,790.6 1608.8,790.7 1609.2,790.8 1609.6,790.8 1610,790.7 1610.4,787.3 1610.8,789.7 1611.2,791.9 1611.6,790.4 1612,790 1612.3,797.1" fill="#1674c0" stroke="#1674c0" stroke-width="1.4" stroke-linejoin="miter" stroke-miterlimit="2"/>
<polygon points="1617.2,488.8 1617.3,482.4 1617.7,480.2 1618.1,480.7 1618.5,484 1618.9,484 1619.3,484.7 1619.7,482.9 1620.1,480.9 1620.5,478.8 1620.9,476.7 1621.3,475.6 1621.7,477.7 1622.1,479.7 1622.5,481.8 1622.9,483.7 1623.3,482.4 1623.7,481.1 1624.1,481.2 1624.5,482.1 1624.9,481 1625.3,481.3 1625.7,480.6 1626.1,481 1626.5,482 1626.9,481.8 1627.3,481.1 1627.7,482 1628.1,481.8 1628.5,481.4 1628.9,482.7 1629.3,483.1 1629.7,481.9 1630.1,480.5 1630.5,479 1630.9,477.8 1631.3,479.3 1631.7,480.7 1632.1,482.2 1632.5,483.3 1632.9,483.6 1633.3,482.8 1633.7,482.4 1634.1,482.9 1634.5,482.2 1634.9,481.8 1635.3,482.9 1635.7,482.3 1636.1,479.6 1636.5,477 1636.9,476.2 1637.3,478.9 1637.7,481.6 1638.1,482 1638.5,481.2 1638.9,480.4 1639.3,480.5 1639.7,481.3 1640.1,480.8 1640.5,480 1640.9,480.3 1641.3,481.1 1641.7,481.1 1642.1,481.1 1642.5,480 1642.9,480.6 1643.3,481.6 1643.7,481.8 1644.1,482.7 1644.5,481.3 1644.9,479.3 1645.3,479.6 1645.7,481.5 1646.1,483.2 1646.5,482.6 1646.9,483 1647.3,482.9 1647.7,481.8 1648.1,482.6 1648.5,482.3 1648.9,482.4 1649.3,482.9 1649.7,481.5 1650.1,480.1 1650.5,481.5 1650.9,481.9 1651.3,480.2 1651.7,481 1652.1,473.5 1652.5,470.4 1652.9,470.4 1653.3,470.4 1653.7,470.4 1654.1,470.4 1654.5,470.4 1654.9,470.4 1655.3,473.5 1655.7,478.9 1656.1,475.4 1656.5,480.3 1656.9,484.4 1657.3,486.2 1657.7,485.3 1658.1,484.2 1658.5,481.9 1658.9,479.2 1659.3,476.4 1659.7,474.6 1660.1,477.3 1660.5,480 1660.9,482.8 1661.3,484.3 1661.7,482.3 1662.1,478.7 1662.5,475.1 1662.9,477.3 1663.3,480.5 1663.7,480.8 1664.1,481.4 1664.5,479.2 1664.9,477 1665.3,475.1 1665.7,477.4 1666.1,478.5 1666.5,474.1 1666.9,469.6 1667.3,472.5 1667.7,476.9 1668.1,481.4 1668.5,481 1668.9,477.1 1669.3,472 1669.7,478.3 1670.1,480.5 1670.5,481.1 1670.9,480.5 1671.3,482.2 1671.7,482.4 1672.1,481.9 1672.5,482 1672.9,481.4 1673.3,479.1 1673.7,474.6 1674.1,470.1 1674.5,472 1674.9,476.5 1675.3,481 1675.7,482.2 1676.1,480.9 1676.5,479.5 1676.9,480.2 1677.3,479.1 1677.7,474.9 1678.1,470.7 1678.5,471.1 1678.9,475.3 1679.3,479.5 1679.7,482.2 1680.1,481 1680.5,479.9 1680.9,479.8 1681.3,480.8 1681.7,479.9 1682.1,481 1682.5,480.3 1682.9,481 1683.3,474.5 1683.7,471.1 1684.1,479.2 1684.5,481.7 1684.9,480.6 1685.3,481.5 1685.7,480.9 1686.1,481.9 1686.5,481.7 1686.9,482.3 1687.3,481.8 1687.7,480.7 1688.1,481.6 1688.5,482.1 1688.9,483.5 1689.3,483 1689.7,483 1690.1,481.7 1690.5,481.8 1690.9,480.5 1691.3,481.1 1691.7,480.8 1692.1,477.4 1692.5,474.9 1692.9,478.3 1693.3,478.3 1693.7,476.2 1694.1,474.1 1694.5,474.7 1694.9,476.8 1695.3,478.9 1695.7,481 1696.1,482.2 1696.5,481.8 1696.9,481.4 1697.3,480 1697.7,480.1 1698.1,481.9 1698.5,480.6 1698.9,479.2 1699.3,480.3 1699.7,481.7 1700.1,482.8 1700.5,483 1700.9,482 1701.3,480.7 1701.7,479.5 1702.1,479.3 1702.5,478.6 1702.9,478.8 1703.3,480 1703.7,481.1 1704.1,476.1 1704.5,471 1704.9,471.6 1705.3,476.7 1705.7,481.2 1706.1,481.5 1706.5,482.1 1706.9,481.2 1707.3,481.9 1707.7,482.5 1708.1,483 1708.5,482.2 1708.9,476.5 1709.3,470.8 1709.7,472.6 1710.1,478.3 1710.5,478.1 1710.9,476.2 1711.3,479 1711.7,479.3 1712.1,479.4 1712.5,480.2 1712.9,481.5 1713.3,481.5 1713.7,480.8 1714.1,480.1 1714.5,480.6 1714.9,481.3 1715.3,481 1715.7,479.7 1716.1,480.8 1716.5,482.1 1716.9,483.3 1717.3,483 1717.7,482.5 1718.1,482.7 1718.5,482.1 1718.9,482 1719.3,481.5 1719.7,480.5 1720.1,480.2 1720.5,480 1720.9,479.4 1721.3,480.1 1721.7,476.9 1722.1,472.8 1722.5,475.7 1722.9,462.6 1723.3,462.6 1723.7,462.6 1724.1,462.6 1724.5,462.6 1724.9,462.6 1725.3,462.6 1725.7,462.6 1726.1,475.7 1726.5,481.7 1726.9,481.4 1727.3,482.3 1727.7,483.3 1728.1,484.9 1728.5,484.6 1728.9,484.1 1729.3,484 1729.7,483.6 1730.1,482.9 1730.5,482.2 1730.9,482 1731.3,482.7 1731.7,482.2 1732.1,481.8 1732.5,480.7 1732.9,479.5 1733.3,480.7 1733.7,481.7 1734.1,478.3 1734.5,471.8 1734.9,473 1735.3,479.5 1735.7,481.9 1736.1,479.9 1736.5,477.8 1736.9,475.7 1737.3,459.7 1737.7,445.2 1738.1,445.2 1738.5,445.2 1738.9,445.2 1739.3,445.2 1739.7,445.2 1740.1,445.2 1740.5,445.2 1740.9,474.3 1741.3,481.8 1741.7,483.3 1742.1,481.8 1742.5,477.8 1742.9,479.9 1743.3,483.8 1743.7,484.1 1744.1,483.8 1744.5,482.7 1744.9,483.2 1745.3,484.4 1745.7,484.7 1746.1,483.5 1746.5,481.8 1746.9,478.9 1747.3,481.7 1747.7,482.9 1748.1,481.3 1748.5,477.8 1748.9,480 1749.3,482.6 1749.7,482.2 1750.1,480.7 1750.5,480 1750.9,479.8 1751.3,480.1 1751.7,481.4 1752.1,481.2 1752.5,482.1 1752.9,483.1 1753.3,434.4 1753.7,380.1 1754.1,380.1 1754.5,380.1 1754.9,380.1 1755.3,380.1 1755.7,380.1 1756.1,380.1 1756.5,380.1 1756.9,434.5 1757.3,478.8 1757.7,480.7 1758.1,482.7 1758.5,484 1758.9,483 1759.3,481.7 1759.7,479.9 1760.1,478 1760.5,478.5 1760.9,479.8 1761.3,480.8 1761.7,480.9 1762.1,482.1 1762.5,482.9 1762.9,482.1 1763.3,480.5 1763.7,475.6 1764.1,479.7 1764.5,482.6 1764.9,483.6 1765.3,481.5 1765.7,482.8 1766.1,482.8 1766.5,483.4 1766.9,482.8 1767.3,483.2 1767.7,483.4 1768.1,482.4 1768.5,480.8 1768.9,478.1 1769.3,475.5 1769.7,475.6 1770.1,478.3 1770.5,481 1770.9,480.2 1771.3,412.1 1771.7,258.7 1772.1,258.7 1772.5,258.7 1772.9,258.7 1773.3,258.7 1773.7,258.7 1774.1,258.7 1774.5,258.7 1774.9,335.4 1775.3,479.5 1775.7,480.3 1776.1,479.2 1776.5,479.9 1776.9,480.4 1777.3,480.8 1777.7,472.5 1778.1,473.4 1778.5,480.2 1778.9,478.2 1779.3,475.6 1779.7,473 1780.1,472.7 1780.5,475.3 1780.9,477.9 1781.3,465.2 1781.7,453.4 1782.1,453.4 1782.5,453.4 1782.9,453.4 1783.3,453.4 1783.7,453.4 1784.1,453.4 1784.5,453.4 1784.9,477 1785.3,483.5 1785.7,483.8 1786.1,484.2 1786.5,483.5 1786.9,482.7 1787.3,479.7 1787.7,475.4 1788.1,471.1 1788.5,470.8 1788.9,475.1 1789.3,479.5 1789.7,480.5 1790.1,482.1 1790.5,483.8 1790.9,482.7 1791.3,401.1 1791.7,225.8 1792.1,225.8 1792.5,225.8 1792.9,225.8 1793.3,225.8 1793.7,225.8 1794.1,225.8 1794.5,225.8 1794.9,313.5 1795.3,470.7 1795.7,475.6 1796.1,478.1 1796.5,476 1796.9,474.8 1797.3,476.9 1797.7,479 1798.1,481 1798.5,480.1 1798.9,477.4 1799.3,474.7 1799.7,476.4 1800.1,479 1800.5,479.6 1800.9,475.8 1801.3,472 1801.7,469.5 1802.1,473.3 1802.5,477.2 1802.9,481 1803.3,482.5 1803.7,477.8 1804.1,470.1 1804.5,475.2 1804.9,481.5 1805.3,480.5 1805.7,479.4 1806.1,455.1 1806.5,448.4 1806.9,448.4 1807.3,448.4 1807.7,448.4 1808.1,448.4 1808.5,448.4 1808.9,448.4 1809.3,455.1 1809.7,476.5 1810.1,477.6 1810.5,478 1810.9,478.2 1811.3,474 1811.7,470 1812.1,474.1 1812.5,478.2 1812.9,482.3 1813.3,481.8 1813.7,478.7 1814.1,360.6 1814.5,232.4 1814.9,232.4 1815.3,232.4 1815.7,232.4 1816.1,232.4 1816.5,232.4 1816.9,232.4 1817.3,232.4 1817.7,360.6 1818.1,481.5 1818.5,481.3 1818.9,482.3 1819.3,482.2 1819.7,478.6 1820.1,465.2 1820.5,453.4 1820.9,453.4 1821.3,453.4 1821.7,453.4 1822.1,453.4 1822.5,453.4 1822.9,453.4 1823.3,453.4 1823.7,477 1824.1,479.5 1824.5,479.1 1824.9,475.9 1825.3,472.4 1825.7,476 1826.1,479.7 1826.5,480 1826.9,478.8 1827.3,477.9 1827.7,474.9 1828.1,471.9 1828.5,468.9 1828.9,471.7 1829.3,474.7 1829.7,477.7 1830.1,480.5 1830.5,480.2 1830.9,480.4 1831.3,479.3 1831.7,478.1 1832.1,477.6 1832.5,478.7 1832.9,479.8 1833.3,478.8 1833.7,479.1 1834.1,479.2 1834.5,480 1834.9,480.7 1835.3,481.6 1835.7,482.4 1836.1,481.3 1836.5,475.8 1836.9,470.4 1837.3,472.6 1837.7,478.1 1838.1,477 1838.5,474 1838.9,471.7 1839.3,474.6 1839.7,407 1840.1,325.3 1840.5,325.3 1840.9,325.3 1841.3,325.3 1841.7,325.3 1842.1,325.3 1842.5,325.3 1842.9,325.3 1843.3,407.1 1843.7,483.2 1844.1,484 1844.5,483.3 1844.9,482.2 1845.3,480.3 1845.7,478.4 1846.1,476.4 1846.5,478 1846.9,479.8 1847.3,481.8 1847.7,480.4 1848.1,481 1848.5,476.2 1848.9,471.4 1849.3,472.3 1849.7,477.1 1850.1,481.8 1850.5,481.4 1850.9,479.1 1851.3,462.5 1851.7,449.4 1852.1,449.4 1852.5,449.4 1852.9,449.4 1853.3,449.4 1853.7,449.4 1854.1,449.4 1854.5,449.4 1854.9,475.7 1855.3,482.4 1855.7,482.8 1856.1,482.2 1856.5,480.8 1856.9,479.9 1857.3,479.1 1857.7,479.3 1858.1,477.3 1858.5,476.6 1858.9,478.6 1859.3,480.7 1859.7,481.7 1860.1,481.1 1860.5,479.8 1860.9,478.9 1861.3,480.2 1861.7,481.5 1862.1,481.9 1862.5,481.5 1862.9,478.9 1863.3,474.4 1863.7,470.2 1864.1,474.7 1864.5,479.3 1864.9,483.4 1865.3,482.6 1865.7,481.5 1866.1,481.7 1866.5,481.1 1866.9,480.7 1867.3,481.2 1867.7,482.5 1868.1,482.7 1868.5,482.4 1868.9,482.6 1869.3,361.7 1869.7,298.1 1870.1,298.1 1870.5,298.1 1870.9,298.1 1871.3,298.1 1871.7,298.1 1872.1,298.1 1872.5,298.1 1872.9,425.2 1873.3,484 1873.7,482.8 1874.1,482.8 1874.5,482 1874.9,480.4 1875.3,482.6 1875.7,483.8 1876.1,482.6 1876.5,482.7 1876.9,481.8 1877.3,482.3 1877.7,480.6 1878.1,480.3 1878.5,481.4 1878.9,483 1879.3,482.7 1879.7,482.7 1880.1,482.1 1880.5,479 1880.9,475.9 1881.3,472.9 1881.7,471.8 1882.1,474.9 1882.5,477.9 1882.9,480.4 1883.3,480 1883.7,478.7 1884.1,477.3 1884.5,477.9 1884.9,479.2 1885.3,480.6 1885.7,481.9 1886.1,481.5 1886.5,482.9 1886.9,482.1 1887.3,480.3 1887.7,478.7 1888.1,446.1 1888.5,437.6 1888.9,437.6 1889.3,437.6 1889.7,437.6 1890.1,437.6 1890.5,437.6 1890.9,437.6 1891.3,446.1 1891.7,479.5 1892.1,480.1 1892.5,479.5 1892.9,479.7 1893.3,479.5 1893.7,481.2 1894.1,482.2 1894.5,482 1894.9,479 1895.3,474.1 1895.7,477.9 1896.1,481.9 1896.5,483.2 1896.9,482.5 1897.3,479.1 1897.7,475.6 1898.1,472.2 1898.5,474.3 1898.9,477.7 1899.3,479.2 1899.7,475.4 1900.1,477.2 1900.5,480.3 1900.9,480.7 1901.3,479.8 1901.7,480 1902.1,483 1902.5,482.6 1902.9,482 1903.3,483.2 1903.7,432.5 1904.1,376.2 1904.5,376.2 1904.9,376.2 1905.3,376.2 1905.7,376.2 1906.1,376.2 1906.5,376.2 1906.9,376.2 1907.3,432.5 1907.7,482.9 1908.1,480.1 1908.5,475.3 1908.9,448.4 1909.3,448.4 1909.7,448.4 1910.1,448.4 1910.5,448.4 1910.9,448.4 1911.3,448.4 1911.7,448.4 1912.1,461.9 1912.5,476.4 1912.9,478.6 1913.3,477.7 1913.7,478.9 1914.1,479.7 1914.5,478.9 1914.9,480.1 1915.3,481.1 1915.7,481.1 1916.1,481.2 1916.5,481 1916.9,482 1917.3,482.1 1917.7,482.9 1918.1,481.4 1918.5,480.7 1918.9,480.4 1919.3,478.2 1919.7,477.8 1920.1,480.1 1920.5,482.3 1920.9,483.2 1921.3,483.7 1921.7,483.6 1922.1,482.4 1922.5,481 1922.9,479.7 1923.3,478.3 1923.7,477.9 1924.1,479.2 1924.5,480.6 1924.9,482 1925.3,483.4 1925.7,483.1 1926.1,483.1 1926.5,481.2 1926.9,481.3 1927.3,482 1927.7,484 1928.1,482.6 1928.5,481.1 1928.9,479.6 1929.3,478.7 1929.7,480.2 1930.1,481.7 1930.5,482.7 1930.9,482.5 1931.3,481.6 1931.7,466.9 1932.1,456 1932.5,456 1932.9,456 1933.3,456 1933.7,456 1934.1,456 1934.5,456 1934.9,456 1935.3,476.3 1935.7,472.9 1936.1,469.5 1936.5,471.5 1936.9,474.9 1937.3,478.2 1937.7,481.6 1938.1,483.4 1938.5,482.7 1938.9,481.9 1939.3,481.2 1939.7,481.1 1940.1,481.8 1940.5,481.4 1940.9,481.9 1941.3,482 1941.7,481.2 1942.1,481.1 1942.5,426.2 1942.9,394.9 1943.3,394.9 1943.7,394.9 1944.1,394.9 1944.5,394.9 1944.9,394.9 1945.3,394.9 1945.7,394.9 1946.1,457.5 1946.5,478.5 1946.9,480.2 1947.3,482 1947.7,482.7 1948.1,483.5 1948.5,483.3 1948.9,481.8 1949.3,477.3 1949.7,478.8 1950.1,480 1950.5,478.6 1950.9,479.6 1951.3,476.9 1951.7,474.4 1952.1,478.7 1952.5,480.9 1952.9,478.4 1953.3,475.8 1953.7,476.2 1954.1,478.7 1954.5,481.2 1954.9,483.7 1955.3,483.9 1955.7,482.9 1956.1,481.7 1956.5,480.5 1956.9,480.6 1957.3,481.8 1957.7,482.8 1958.1,481.9 1958.5,481.5 1958.9,482.1 1959.3,481.2 1959.7,481 1960.1,480.2 1960.5,480.8 1960.9,480.4 1961.3,480.7 1961.7,481.8 1962.1,483.3 1962.5,482.8 1962.9,483.7 1963.3,483.1 1963.7,482.5 1964.1,482.3 1964.5,482.7 1964.9,477.7 1965.3,472.4 1965.7,470.4 1966.1,475.7 1966.5,480.9 1966.9,480.9 1967.3,482.5 1967.7,481.8 1968.1,481.9 1968.5,481.8 1968.9,481.5 1969.3,481.7 1969.7,481.2 1970.1,482.6 1970.5,484.3 1970.9,484 1971.3,483.7 1971.7,483.3 1972.1,482.6 1972.5,483.3 1972.9,483.9 1973.3,483.6 1973.7,481.5 1974.1,481.2 1974.5,483.3 1974.9,482.8 1975.3,482.5 1975.7,479.4 1976.1,478.1 1976.5,479.4 1976.9,480.6 1977.3,481.7 1977.7,481.3 1978.1,481.3 1978.5,480.1 1978.9,478.9 1979.3,477.7 1979.7,478.6 1980.1,479.8 1980.5,481 1980.9,482.2 1981.3,482.4 1981.7,481.3 1982.1,480.4 1982.5,481.5 1982.9,482.6 1983.3,481.8 1983.7,481.5 1984.1,480.7 1984.5,480.1 1984.9,478.5 1985.3,478.9 1985.7,480.4 1986.1,482 1986.5,483.6 1986.9,485.7 1987.3,484.8 1987.7,485.2 1988.1,480.7 1988.5,473.8 1988.9,470.7 1989.3,477.5 1989.7,436.1 1990.1,383.4 1990.5,383.4 1990.9,383.4 1991.3,383.4 1991.7,383.4 1992.1,383.4 1992.5,383.4 1992.9,383.4 1993.3,436.1 1993.7,476.5 1994.1,477.8 1994.5,484.5 1994.9,484 1995.3,482.7 1995.7,481.4 1996.1,480.8 1996.5,482.1 1996.9,483.4 1997.3,481.8 1997.7,482.5 1998.1,483.2 1998.5,482.2 1998.9,481.2 1999.3,481.7 1999.7,482.6 2000.1,482.6 2000.5,482 2000.9,482 2001.3,481.1 2001.7,481.5 2002.1,481.4 2002.5,482.1 2002.9,481.6 2003.3,480.1 2003.7,478.1 2004.1,482.3 2004.5,482.6 2004.9,482.4 2005.3,481.2 2005.7,481 2006.1,481.9 2006.5,483.3 2006.9,483.8 2007.3,483.6 2007.7,482.5 2008.1,481.5 2008.5,480.5 2008.9,479.8 2009.3,480.8 2009.7,481.9 2010.1,482.9 2010.5,485.2 2010.9,485.5 2011.3,485.7 2011.7,485.8 2012.1,485 2012.5,483.9 2012.9,484.3 2013.3,484.1 2013.7,484.2 2014.1,484 2014.5,483.5 2014.9,482.2 2015.3,482.5 2015.7,482.4 2016.1,480.9 2016.5,478.5 2016.9,478.2 2017.3,480.6 2017.7,482.9 2018.1,484 2018.5,482.7 2018.9,482.9 2019.3,482.8 2019.7,482.4 2020.1,480.6 2020.5,478.9 2020.9,481.1 2021.3,480.7 2021.7,479.2 2022.1,477.8 2022.5,478.8 2022.9,480.2 2023.3,481.7 2023.7,480.3 2024.1,477.4 2024.5,477.4 2024.9,479.5 2025.3,480.4 2025.7,481.1 2026.1,481.3 2026.5,479.8 2026.9,481.3 2027.3,482.6 2027.7,482.7 2028.1,482.1 2028.5,481.5 2028.9,478.7 2029.3,481.4 2029.7,481.5 2030.1,481.5 2030.5,479 2030.9,474.1 2031.3,469.3 2031.7,473.2 2032.1,478 2032.5,482.6 2032.9,481.6 2033.3,482.7 2033.7,482.1 2034.1,479.4 2034.5,477.4 2034.9,480.1 2035.3,482.8 2035.7,483.8 2036.1,484.1 2036.5,484.5 2036.9,483.6 2037.3,483.4 2037.7,483.8 2038.1,482.5 2038.5,481.8 2038.9,481.1 2039.3,480.3 2039.7,478 2040.1,477.5 2040.5,479.7 2040.9,482 2041.3,483.9 2041.7,483.4 2042.1,482.2 2042.5,481 2042.9,481.6 2043.3,482.7 2043.7,483.7 2044.1,483.3 2044.5,483.5 2044.9,482.9 2045.3,482.1 2045.7,439.5 2046.1,390.3 2046.5,390.3 2046.9,390.3 2047.3,390.3 2047.7,390.3 2048.1,390.3 2048.5,390.3 2048.9,390.3 2049.3,439.6 2049.7,475.4 2050.1,474.9 2050.5,477.2 2050.9,479.6 2051.3,481.9 2051.7,483.5 2052.1,483.7 2052.5,483 2052.9,482.4 2053.3,482.1 2053.7,481.7 2054.1,480.9 2054.5,481.3 2054.9,481.5 2055.3,482.8 2055.7,482.8 2056.1,482 2056.5,482.3 2056.9,480.3 2057.3,481.8 2057.7,482.9 2058.1,484.6 2058.5,484.2 2058.9,483.5 2059.3,482.8 2059.7,482.1 2060.1,482.4 2060.5,482.8 2060.9,479.3 2061.3,475.8 2061.7,472.3 2062.1,474 2062.5,477.5 2062.9,480.9 2063.3,480.3 2063.7,480.1 2064.1,481.4 2064.5,482.4 2064.9,481.1 2065.3,482.2 2065.7,482.8 2066.1,482.4 2066.5,480.1 2066.9,479.3 2067.3,480.3 2067.7,480.8 2068.1,480.7 2068.5,481.6 2068.9,480.5 2069.3,478.5 2069.7,480.7 2070.1,482.7 2070.5,481.6 2070.9,482.2 2071.3,479.9 2071.7,475.2 2072.1,473.2 2072.5,477.9 2072.9,481.9 2073.3,480.8 2073.7,478.2 2074.1,478.6 2074.5,481.2 2074.9,482 2075.3,481.7 2075.7,478.7 2076.1,475.7 2076.5,473.1 2076.9,476.1 2077.3,479.1 2077.7,478.5 2078.1,479.2 2078.5,480.3 2078.9,481.5 2079.3,482.5 2079.7,482.7 2080.1,482.9 2080.5,482.5 2080.9,481.5 2081.3,482.2 2081.7,483.1 2082.1,483.4 2082.5,482.1 2082.9,482.3 2083.3,482.3 2083.7,481.6 2084.1,481.7 2084.5,482.2 2084.9,482.2 2085.3,481.7 2085.7,482.3 2086.1,481.6 2086.5,482.4 2086.9,483.5 2087.3,482.8 2087.7,482.1 2088.1,482.7 2088.5,483.4 2088.9,482.2 2089.3,482.8 2089.7,482.7 2090.1,482.1 2090.5,482.2 2090.9,483.4 2091.3,482 2091.7,480.3 2092.1,478.8 2092.5,480.5 2092.9,482 2093.3,483.4 2093.7,483.3 2094.1,482.2 2094.5,481.9 2094.9,480.6 2095.3,478.1 2095.7,475.9 2096.1,478.4 2096.5,480.9 2096.9,481.5 2097.3,479.6 2097.7,476.6 2098.1,476.2 2098.5,472 2098.9,463.6 2099.3,463.6 2099.7,463.6 2100.1,463.6 2100.5,463.6 2100.9,463.6 2101.3,463.6 2101.7,463.6 2102.1,480.4 2102.5,481.9 2102.9,479.4 2103.3,476.8 2103.7,478.7 2104.1,481.3 2104.5,482.8 2104.9,483.6 2105.3,484 2105.7,482.6 2106.1,479.7 2106.5,476.8 2106.9,475.8 2107.3,478.7 2107.7,481.6 2108.1,481.5 2108.5,479.1 2108.9,476.8 2109.3,474.5 2109.7,476.1 2110.1,478.4 2110.5,480.6 2110.9,481 2111.3,480.7 2111.7,481.6 2112.1,477.6 2112.5,471.8 2112.9,471.6 2113.3,477.4 2113.7,482.4 2114.1,481.6 2114.5,481.6 2114.9,482.4 2115.3,482.9 2115.7,481.6 2116.1,479.9 2116.5,478.5 2116.9,480.2 2117.3,479.9 2117.7,478.3 2118.1,476.7 2118.5,476.2 2118.9,477.8 2119.3,479.4 2119.7,481 2120.1,480 2120.5,480.3 2120.9,480.8 2121.3,481.2 2121.7,481.2 2122.1,482 2122.5,481.2 2122.9,477.3 2123.3,473.3 2123.7,475.2 2124.1,479.2 2124.5,483.1 2124.9,483.4 2125.3,482.3 2125.7,482.3 2126.1,481 2126.5,479.1 2126.9,477.3 2127.3,479 2127.7,480.9 2128.1,482.8 2128.5,484.4 2128.9,484.1 2129.3,484 2129.7,483 2130.1,481.6 2130.5,482.6 2130.9,483 2131.3,481.8 2131.7,481.2 2132.1,482.1 2132.5,482.8 2132.9,483.1 2133.3,481.2 2133.7,481.1 2134.1,483 2134.5,482.3 2134.9,480 2135.3,477.7 2135.7,475.4 2136.1,477.4 2136.5,479.7 2136.9,482 2137.3,481.1 2137.7,482.7 2138.1,484.1 2138.5,482.5 2138.9,482.7 2139.3,482.1 2139.7,481.7 2140.1,482.8 2140.5,482.2 2140.9,481.2 2141.3,480.3 2141.7,479.8 2142.1,480.8 2142.5,481.8 2142.9,482.7 2143.3,482.5 2143.7,483.1 2144.1,481.6 2144.5,482.9 2144.9,483.1 2145.3,484.6 2145.7,483.6 2146.1,483.8 2146.5,484 2146.9,483.9 2147.3,483.1 2147.7,481.9 2148.1,480.7 2148.5,480.6 2148.9,481.8 2149.3,483.1 2149.7,483 2150.1,482.5 2150.5,482.4 2150.9,481.3 2151.3,481.9 2151.7,483 2152.1,484.2 2152.5,483.5 2152.9,483 2153.3,483 2153.7,482.6 2154.1,482.9 2154.5,482.4 2154.9,482.7 2155.3,483.4 2155.7,481.1 2156.1,450.1 2156.5,442.4 2156.9,442.4 2157.3,442.4 2157.7,442.4 2158.1,442.4 2158.5,442.4 2158.9,442.4 2159.3,450.1 2159.7,481.1 2160.1,481.6 2160.5,481 2160.9,480.6 2161.3,479.8 2161.7,477.2 2162.1,473.9 2162.5,470.7 2162.9,474 2163.3,477.3 2163.7,480.5 2164.1,483 2164.5,484.1 2164.9,484.2 2165.3,479.6 2165.7,473 2166.1,471.3 2166.5,478 2166.9,480.9 2167.3,478.9 2167.7,476.8 2168.1,475 2168.5,477 2168.9,479 2169.3,481.1 2169.7,482.8 2170.1,482.8 2170.5,483 2170.9,483.7 2171.3,483.3 2171.7,482.1 2172.1,483 2172.5,481.9 2172.9,479.7 2173.3,477.6 2173.7,476.8 2174.1,479 2174.5,481.2 2174.9,482.4 2175.3,480.8 2175.7,481.7 2176.1,483.3 2176.5,483.2 2176.9,482.3 2177.3,478.5 2177.7,479.3 2178.1,483 2178.5,480.1 2178.9,478.7 2179.3,481.5 2179.7,484.1 2180.1,483.4 2180.5,482.4 2180.9,481.2 2181.3,479.8 2181.7,476.4 2182.1,474.5 2182.5,477.9 2182.9,481.3 2183.3,483.5 2183.7,483.2 2184.1,483.3 2184.5,483.9 2184.9,482.7 2185.3,481.4 2185.7,482.3 2186.1,482 2186.5,478.9 2186.9,475.8 2187.3,472.7 2187.7,473.3 2188.1,476.4 2188.5,479.5 2188.9,482.6 2189.3,484.9 2189.7,484.9 2190.1,484 2190.5,482.9 2190.9,481 2191.3,479.1 2191.7,477.1 2192.1,479 2192.5,480.9 2192.9,482.5 2193.3,479.1 2193.7,478.1 2194.1,481.1 2194.5,481.4 2194.9,481.6 2195.3,482.5 2195.7,482.2 2196.1,481.5 2196.5,481.8 2196.9,482.5 2197.3,482.3 2197.7,482.2 2198.1,481.8 2198.5,482.1 2198.9,480.4 2199.3,478.7 2199.7,479.1 2200.1,480.8 2200.5,482.5 2200.9,482.2 2201.3,483.2 2201.7,482.7 2202.1,482.8 2202.5,482.6 2202.9,482.9 2203.3,482.5 2203.7,482.7 2204.1,481.5 2204.5,479.9 2204.9,480.5 2205.3,478.5 2205.7,475.5 2206.1,477.1 2206.5,480 2206.9,482.5 2207.3,482.3 2207.7,483.3 2208.1,483.4 2208.5,484.1 2208.9,484.7 2209.3,485 2209.7,485.3 2210.1,485.1 2210.5,484.7 2210.9,484 2211.3,482.7 2211.7,481.4 2212.1,480.2 2212.5,480.8 2212.9,481.8 2213.3,481.5 2213.7,482.3 2214.1,482.2 2214.5,483 2214.9,482.2 2215.3,480.3 2215.7,478.9 2216.1,480.8 2216.5,477.5 2216.9,474.1 2217.3,470.8 2217.7,470.1 2218.1,473.4 2218.5,476.7 2218.9,480 2219.3,481.5 2219.7,482.4 2220.1,482.9 2220.5,483.3 2220.9,483 2221.3,483.6 2221.7,482.1 2222.1,482 2222.5,478.9 2222.9,439.5 2223.3,429.6 2223.7,429.6 2224.1,429.6 2224.5,429.6 2224.9,429.6 2225.3,429.6 2225.7,429.6 2226.1,439.5 2226.5,478.9 2226.9,481.2 2227.3,481.4 2227.7,479.9 2228.1,478.5 2228.5,477.7 2228.9,479.2 2229.3,480.6 2229.7,481.3 2230.1,481.8 2230.5,482.5 2230.9,482 2231.3,480.5 2231.7,479.1 2232.1,480.6 2232.5,482.1 2232.9,483.6 2233.3,484.2 2233.7,483.8 2234.1,483.6 2234.5,480 2234.9,476.3 2235.3,474.1 2235.7,477.7 2236.1,481.4 2236.5,481.9 2236.9,481 2237.3,480.9 2237.7,481.8 2238.1,482 2238.5,480.6 2238.9,482.6 2239.3,484 2239.7,483.4 2240.1,483.8 2240.5,484 2240.9,482.3 2241.3,480.6 2241.7,478.9 2242.1,477.3 2242.5,478.7 2242.9,480.4 2243.3,482.1 2243.7,483.1 2244.1,482.6 2244.5,481.4 2244.9,481 2245.3,482.2 2245.7,483.3 2246.1,483.1 2246.5,482 2246.9,479 2247.3,475.8 2247.7,474.6 2248.1,477.9 2248.5,481.1 2248.9,482.6 2249.3,481.1 2249.7,479.5 2250.1,478.9 2250.5,480.5 2250.9,482 2251.3,483.6 2251.7,485.2 2252.1,485.7 2252.5,483.5 2252.9,481 2253.3,478.4 2253.7,476.1 2254.1,478.7 2254.5,481.3 2254.9,483.2 2255.3,479.9 2255.7,473.5 2256.1,472.2 2256.5,478.5 2256.9,482.1 2257.3,481.3 2257.7,480.6 2258.1,480.3 2258.5,480.2 2258.9,481.6 2259.3,482.3 2259.7,482.3 2260.1,480.3 2260.5,479.1 2260.9,481.1 2261.3,483.1 2261.7,484.6 2262.1,484.8 2262.5,484.6 2262.9,483.3 2263.3,482 2263.7,482.3 2264.1,483.6 2264.5,484.6 2264.9,483.4 2265.3,483.3 2265.7,482.6 2266.1,481.7 2266.5,481.2 2266.9,482 2267.3,482.9 2267.7,483 2268.1,482.5 2268.5,478.6 2268.9,479.6 2269.3,483.1 2269.7,484.3 2270.1,484.2 2270.5,482.7 2270.9,482.2 2271.3,480.8 2271.7,478.3 2272.1,475.8 2272.5,476 2272.9,478.4 2273.3,480.9 2273.7,482.1 2274.1,479.5 2274.5,476.8 2274.9,478.6 2275.3,481.2 2275.7,483.2 2276.1,480.4 2276.5,481.7 2276.9,483.9 2277.3,482.8 2277.7,482.7 2278.1,482.1 2278.5,482.3 2278.9,481.4 2279.3,480.3 2279.7,481.5 2280.1,482.2 2280.5,482.9 2280.9,482.4 2281.3,483.3 2281.7,484.3 2282.1,482.4 2282.5,480.4 2282.9,479.5 2283.3,481.4 2283.7,483.4 2284.1,484.1 2284.5,483.1 2284.9,482.2 2285.3,481.3 2285.7,482.2 2286.1,482.6 2286.5,482.5 2286.9,482.8 2287.3,483.4 2287.7,483 2288.1,483.3 2288.5,483 2288.9,482.6 2289.3,480.6 2289.7,478.6 2290.1,476.7 2290.5,478.1 2290.9,480.1 2291.3,480.4 2291.7,479.8 2292.1,481.4 2292.5,481.6 2292.9,481.8 2293.3,482.6 2293.7,483.5 2294.1,481.9 2294.5,482.6 2294.9,483.4 2295.3,483 2295.7,482.5 2296.1,482.4 2296.5,482.1 2296.9,482.3 2297.3,481.7 2297.7,479.7 2298.1,477.7 2298.5,477.7 2298.9,479.7 2299.3,481.7 2299.7,481.6 2300.1,482.1 2300.5,482.9 2300.9,484 2301.3,484.8 2301.7,483.1 2302.1,483.2 2302.5,484.4 2302.9,483.5 2303.3,482.2 2303.7,482.3 2304.1,482.4 2304.5,483.1 2304.9,483.9 2305.3,483.9 2305.7,482.8 2306.1,482.4 2306.5,481.5 2306.9,482 2307.3,483.2 2307.7,483.8 2308.1,484.3 2308.5,484.8 2308.9,485.3 2309.3,485 2309.7,484.9 2310.1,484 2310.5,482.5 2310.9,481.3 2311.3,480.7 2311.7,478.8 2312.1,478.1 2312.5,480 2312.9,482 2313.3,483.9 2313.7,484.8 2314.1,483.9 2314.5,483.2 2314.9,482.3 2315.3,481.9 2315.7,482.8 2316.1,483.6 2316.5,483.5 2316.9,484.3 2317.3,483.7 2317.7,483 2318.1,482.5 2318.5,482.3 2318.9,481.6 2319.3,480.8 2319.7,480.8 2320.1,481.3 2320.5,482.2 2320.9,482.2 2321.3,482 2321.7,480.8 2322.1,479.7 2322.5,480.9 2322.9,481.4 2323.3,482.5 2323.7,482.3 2324.1,482.7 2324.5,482.5 2324.9,481.8 2325.3,480.6 2325.7,481 2326.1,480.7 2326.5,482.3 2326.9,482.3 2327.3,481.2 2327.7,479.7 2328.1,479.1 2328.5,480.6 2328.9,482.2 2329.3,483.1 2329.7,482.7 2330.1,481.8 2330.5,482.2 2330.9,483.6 2331.3,483.2 2331.7,483.9 2332.1,484.2 2332.5,482.8 2332.9,481.1 2333.3,481.1 2333.7,480.1 2334.1,480.9 2334.5,481.6 2334.9,481 2335.3,488.8" fill="#16a698" stroke="#16a698" stroke-width="1.4" stroke-linejoin="miter" stroke-miterlimit="2"/>
<polygon points="1617.2,797.3 1617.3,792.4 1617.7,791.3 1618.1,791.9 1618.5,791.5 1618.9,790.8 1619.3,791.1 1619.7,792 1620.1,792.6 1620.5,790.2 1620.9,787.3 1621.3,788.4 1621.7,791.3 1622.1,792.5 1622.5,793.1 1622.9,794.3 1623.3,793.9 1623.7,794.3 1624.1,793.8 1624.5,793.8 1624.9,793.2 1625.3,792.5 1625.7,791.9 1626.1,792 1626.5,792.6 1626.9,793.2 1627.3,793.9 1627.7,794.1 1628.1,793 1628.5,791.9 1628.9,792.1 1629.3,792.9 1629.7,792.6 1630.1,792.1 1630.5,789.8 1630.9,787.3 1631.3,787.5 1631.7,790 1632.1,792.3 1632.5,791.6 1632.9,790.5 1633.3,789.5 1633.7,789.6 1634.1,790.7 1634.5,791.8 1634.9,792.8 1635.3,792.7 1635.7,791.8 1636.1,790.9 1636.5,790 1636.9,790.8 1637.3,791.7 1637.7,791.8 1638.1,792.1 1638.5,792.4 1638.9,792.5 1639.3,792.3 1639.7,792.5 1640.1,792.9 1640.5,792.8 1640.9,792.9 1641.3,792.8 1641.7,793 1642.1,793.4 1642.5,793 1642.9,792.5 1643.3,792 1643.7,791.5 1644.1,791.7 1644.5,791.8 1644.9,792.8 1645.3,791.9 1645.7,792.3 1646.1,794.3 1646.5,795.8 1646.9,794.6 1647.3,794.1 1647.7,793.3 1648.1,792.5 1648.5,792.5 1648.9,793.2 1649.3,792.6 1649.7,792.1 1650.1,792.3 1650.5,792.3 1650.9,791.8 1651.3,790.9 1651.7,791.5 1652.1,791.9 1652.5,791.1 1652.9,791.5 1653.3,791.6 1653.7,791 1654.1,791 1654.5,791.2 1654.9,791.7 1655.3,792 1655.7,792.9 1656.1,793 1656.5,792.1 1656.9,791.7 1657.3,790.2 1657.7,788.6 1658.1,787.1 1658.5,788.6 1658.9,790.1 1659.3,791.6 1659.7,792.4 1660.1,790.5 1660.5,788.6 1660.9,790.5 1661.3,792.5 1661.7,792.9 1662.1,793.7 1662.5,793.9 1662.9,793.5 1663.3,793.6 1663.7,794.4 1664.1,793.8 1664.5,793.8 1664.9,793.4 1665.3,792.6 1665.7,789.7 1666.1,786.7 1666.5,784.9 1666.9,787.8 1667.3,790.7 1667.7,793.5 1668.1,793.7 1668.5,794 1668.9,789.1 1669.3,789.1 1669.7,789.1 1670.1,789.1 1670.5,789.1 1670.9,789.1 1671.3,789.1 1671.7,789.1 1672.1,790.7 1672.5,789.4 1672.9,790.6 1673.3,791.9 1673.7,793.1 1674.1,793 1674.5,793.2 1674.9,793.4 1675.3,792.7 1675.7,789.9 1676.1,787.8 1676.5,790.5 1676.9,793.1 1677.3,793.8 1677.7,791 1678.1,791.1 1678.5,793 1678.9,793.1 1679.3,791.8 1679.7,792.2 1680.1,791.5 1680.5,790.3 1680.9,789.3 1681.3,790.5 1681.7,791.7 1682.1,792.9 1682.5,792.2 1682.9,791.4 1683.3,790.5 1683.7,790.4 1684.1,782.1 1684.5,779.1 1684.9,779.1 1685.3,779.1 1685.7,779.1 1686.1,779.1 1686.5,779.1 1686.9,779.1 1687.3,782.1 1687.7,793.1 1688.1,793.2 1688.5,793.4 1688.9,793.1 1689.3,792.7 1689.7,793.1 1690.1,791.9 1690.5,792.3 1690.9,791.3 1691.3,790.1 1691.7,790 1692.1,791.2 1692.5,792.4 1692.9,793.1 1693.3,792.9 1693.7,789.1 1694.1,783.4 1694.5,785.5 1694.9,791.2 1695.3,793.6 1695.7,793.4 1696.1,792 1696.5,781.4 1696.9,781.4 1697.3,781.4 1697.7,781.4 1698.1,781.4 1698.5,781.4 1698.9,781.4 1699.3,781.4 1699.7,786.7 1700.1,790.7 1700.5,786.6 1700.9,784 1701.3,788 1701.7,792 1702.1,793.9 1702.5,793.5 1702.9,792.6 1703.3,792.8 1703.7,792 1704.1,792.3 1704.5,791.9 1704.9,792.2 1705.3,792.4 1705.7,792.4 1706.1,791.2 1706.5,792.2 1706.9,792 1707.3,793 1707.7,792.4 1708.1,791.6 1708.5,789.7 1708.9,787.7 1709.3,788 1709.7,790 1710.1,787.8 1710.5,778.4 1710.9,778.4 1711.3,778.4 1711.7,778.4 1712.1,778.4 1712.5,778.4 1712.9,778.4 1713.3,778.4 1713.7,787.9 1714.1,793.5 1714.5,793.4 1714.9,793 1715.3,791.9 1715.7,791 1716.1,790.2 1716.5,790.7 1716.9,790.2 1717.3,789.9 1717.7,791 1718.1,792.2 1718.5,791.4 1718.9,792.3 1719.3,793.9 1719.7,794.4 1720.1,794.2 1720.5,794.5 1720.9,793.8 1721.3,793.2 1721.7,788.8 1722.1,784.5 1722.5,784.5 1722.9,784.5 1723.3,784.5 1723.7,784.5 1724.1,784.5 1724.5,784.5 1724.9,784.5 1725.3,789.6 1725.7,790.6 1726.1,791.6 1726.5,791.9 1726.9,790.9 1727.3,790 1727.7,789.4 1728.1,790.3 1728.5,791.3 1728.9,790.8 1729.3,790.1 1729.7,790.7 1730.1,791.4 1730.5,782.4 1730.9,775 1731.3,775 1731.7,775 1732.1,775 1732.5,775 1732.9,775 1733.3,775 1733.7,775 1734.1,789.5 1734.5,787.3 1734.9,785 1735.3,782.8 1735.7,782.9 1736.1,785.1 1736.5,787.3 1736.9,789.6 1737.3,791.8 1737.7,792.6 1738.1,792.5 1738.5,792.6 1738.9,793.2 1739.3,792.7 1739.7,778.7 1740.1,769.4 1740.5,769.4 1740.9,769.4 1741.3,769.4 1741.7,769.4 1742.1,769.4 1742.5,769.4 1742.9,769.4 1743.3,788 1743.7,791.7 1744.1,791.2 1744.5,788.8 1744.9,786 1745.3,783.2 1745.7,780.4 1746.1,781 1746.5,783.8 1746.9,786.7 1747.3,789.5 1747.7,792.6 1748.1,793 1748.5,778 1748.9,758.7 1749.3,758.7 1749.7,758.7 1750.1,758.7 1750.5,758.7 1750.9,758.7 1751.3,758.7 1751.7,758.7 1752.1,778 1752.5,783.9 1752.9,780.6 1753.3,779.5 1753.7,776 1754.1,776 1754.5,776 1754.9,776 1755.3,776 1755.7,776 1756.1,776 1756.5,779.6 1756.9,786.3 1757.3,789 1757.7,791.8 1758.1,792.3 1758.5,792 1758.9,782.5 1759.3,753 1759.7,753 1760.1,753 1760.5,753 1760.9,753 1761.3,753 1761.7,753 1762.1,753 1762.5,767.8 1762.9,788.3 1763.3,788.8 1763.7,790.2 1764.1,791.5 1764.5,789.8 1764.9,786.7 1765.3,783.5 1765.7,780.4 1766.1,782 1766.5,785.2 1766.9,788.3 1767.3,791.5 1767.7,791.4 1768.1,790.3 1768.5,789.9 1768.9,760.4 1769.3,753 1769.7,753 1770.1,753 1770.5,753 1770.9,753 1771.3,753 1771.7,753 1772.1,760.4 1772.5,788.9 1772.9,760.4 1773.3,753 1773.7,753 1774.1,753 1774.5,753 1774.9,753 1775.3,753 1775.7,753 1776.1,760.4 1776.5,789.9 1776.9,789.8 1777.3,789.1 1777.7,787.7 1778.1,786.2 1778.5,787.2 1778.9,788.7 1779.3,790.2 1779.7,790.6 1780.1,791.1 1780.5,791.8 1780.9,749.8 1781.3,726.1 1781.7,726.1 1782.1,726.1 1782.5,726.1 1782.9,726.1 1783.3,726.1 1783.7,726.1 1784.1,726.1 1784.5,773.6 1784.9,792.1 1785.3,792.6 1785.7,792.4 1786.1,792 1786.5,791.5 1786.9,791.9 1787.3,790.4 1787.7,790 1788.1,789.7 1788.5,789.4 1788.9,789.2 1789.3,789.3 1789.7,772.5 1790.1,747.7 1790.5,747.7 1790.9,747.7 1791.3,747.7 1791.7,747.7 1792.1,747.7 1792.5,747.7 1792.9,747.7 1793.3,736.1 1793.7,736.1 1794.1,736.1 1794.5,736.1 1794.9,736.1 1795.3,736.1 1795.7,736.1 1796.1,736.1 1796.5,756.5 1796.9,789.9 1797.3,788.9 1797.7,790.3 1798.1,790.1 1798.5,791.2 1798.9,791 1799.3,789.4 1799.7,789.9 1800.1,789.3 1800.5,789.8 1800.9,788.2 1801.3,785.9 1801.7,786.3 1802.1,788.5 1802.5,790.7 1802.9,792.2 1803.3,788 1803.7,781.4 1804.1,785.2 1804.5,791.8 1804.9,792.3 1805.3,791.2 1805.7,791.5 1806.1,772.4 1806.5,722.7 1806.9,722.7 1807.3,722.7 1807.7,722.7 1808.1,722.7 1808.5,722.7 1808.9,722.7 1809.3,722.7 1809.7,747.6 1810.1,791.5 1810.5,791.6 1810.9,791.4 1811.3,792.6 1811.7,792 1812.1,789.5 1812.5,787.8 1812.9,791.2 1813.3,790.2 1813.7,789.6 1814.1,759.7 1814.5,752.2 1814.9,752.2 1815.3,752.2 1815.7,752.2 1816.1,752.2 1816.5,752.2 1816.9,752.2 1817.3,759.7 1817.7,788.4 1818.1,789 1818.5,790.4 1818.9,788 1819.3,788.8 1819.7,791.2 1820.1,754.1 1820.5,732.5 1820.9,732.5 1821.3,732.5 1821.7,732.5 1822.1,732.5 1822.5,732.5 1822.9,732.5 1823.3,732.5 1823.7,775.7 1824.1,791.9 1824.5,791.6 1824.9,790.9 1825.3,790.6 1825.7,790.4 1826.1,789.3 1826.5,785.5 1826.9,781.8 1827.3,780.5 1827.7,784.2 1828.1,787.7 1828.5,788.1 1828.9,788 1829.3,787.4 1829.7,787.4 1830.1,788.7 1830.5,790 1830.9,791.1 1831.3,790.8 1831.7,791.7 1832.1,792.1 1832.5,791 1832.9,791 1833.3,790.7 1833.7,790.4 1834.1,789.1 1834.5,777.7 1834.9,738.4 1835.3,738.4 1835.7,738.4 1836.1,738.4 1836.5,738.4 1836.9,738.4 1837.3,738.4 1837.7,738.4 1838.1,758 1838.5,789.2 1838.9,789.1 1839.3,779 1839.7,769.9 1840.1,769.9 1840.5,769.9 1840.9,769.9 1841.3,769.9 1841.7,769.9 1842.1,769.9 1842.5,769.9 1842.9,786.4 1843.3,786 1843.7,788.9 1844.1,790.4 1844.5,791.7 1844.9,791.3 1845.3,791.7 1845.7,792.3 1846.1,792.2 1846.5,791.1 1846.9,791.8 1847.3,790.5 1847.7,790.5 1848.1,789.4 1848.5,785.8 1848.9,786.4 1849.3,789.9 1849.7,790.5 1850.1,790.5 1850.5,789.8 1850.9,788 1851.3,746.5 1851.7,721.1 1852.1,721.1 1852.5,721.1 1852.9,721.1 1853.3,721.1 1853.7,721.1 1854.1,721.1 1854.5,721.1 1854.9,771.9 1855.3,791.9 1855.7,791.8 1856.1,791 1856.5,790.9 1856.9,791.3 1857.3,791.8 1857.7,790.4 1858.1,789.1 1858.5,790.5 1858.9,791.9 1859.3,793.1 1859.7,792.4 1860.1,792.4 1860.5,792.6 1860.9,791.2 1861.3,791 1861.7,790.2 1862.1,786.2 1862.5,783.5 1862.9,789.2 1863.3,790.8 1863.7,791.2 1864.1,791.2 1864.5,790.3 1864.9,790.7 1865.3,790.5 1865.7,789.4 1866.1,789.8 1866.5,790.2 1866.9,789.4 1867.3,790 1867.7,788.3 1868.1,786 1868.5,784.7 1868.9,751.4 1869.3,705.6 1869.7,705.6 1870.1,705.6 1870.5,705.6 1870.9,705.6 1871.3,705.6 1871.7,705.6 1872.1,705.6 1872.5,751.5 1872.9,792.3 1873.3,791.6 1873.7,793 1874.1,793.1 1874.5,792.7 1874.9,789 1875.3,785.3 1875.7,787 1876.1,790.8 1876.5,790.7 1876.9,790.4 1877.3,791.3 1877.7,790.6 1878.1,790.5 1878.5,790.8 1878.9,790.7 1879.3,790.2 1879.7,788.3 1880.1,789.4 1880.5,791.3 1880.9,793 1881.3,793.5 1881.7,793.2 1882.1,793.2 1882.5,791.5 1882.9,789.8 1883.3,789.9 1883.7,791.6 1884.1,791 1884.5,789.3 1884.9,791.4 1885.3,792 1885.7,791 1886.1,792.3 1886.5,791.6 1886.9,791.2 1887.3,790.5 1887.7,790.7 1888.1,768.3 1888.5,710.2 1888.9,710.2 1889.3,710.2 1889.7,710.2 1890.1,710.2 1890.5,710.2 1890.9,710.2 1891.3,710.2 1891.7,739.2 1892.1,791.2 1892.5,791.5 1892.9,791.3 1893.3,790.2 1893.7,788.6 1894.1,789.3 1894.5,790.7 1894.9,791.8 1895.3,792 1895.7,788.5 1896.1,784.6 1896.5,785.1 1896.9,789 1897.3,792.5 1897.7,793.1 1898.1,792.4 1898.5,793.1 1898.9,792.8 1899.3,791.7 1899.7,790.7 1900.1,790.9 1900.5,790.6 1900.9,785.7 1901.3,780.8 1901.7,782.7 1902.1,787.5 1902.5,790.1 1902.9,790.6 1903.3,778.3 1903.7,774.5 1904.1,774.5 1904.5,774.5 1904.9,774.5 1905.3,774.5 1905.7,774.5 1906.1,774.5 1906.5,778.3 1906.9,791.6 1907.3,791.5 1907.7,791.6 1908.1,790 1908.5,749.6 1908.9,725.8 1909.3,725.8 1909.7,725.8 1910.1,725.8 1910.5,725.8 1910.9,725.8 1911.3,725.8 1911.7,725.8 1912.1,773.5 1912.5,789.5 1912.9,789.5 1913.3,790.9 1913.7,788.9 1914.1,772.2 1914.5,772.2 1914.9,772.2 1915.3,772.2 1915.7,772.2 1916.1,772.2 1916.5,772.2 1916.9,772.2 1917.3,780.6 1917.7,791.2 1918.1,791.6 1918.5,792.3 1918.9,792.2 1919.3,791.6 1919.7,790.7 1920.1,789.8 1920.5,788.9 1920.9,789.7 1921.3,790.6 1921.7,791.1 1922.1,791 1922.5,791.3 1922.9,791 1923.3,791.5 1923.7,792 1924.1,792.1 1924.5,792.6 1924.9,790.4 1925.3,786.3 1925.7,788 1926.1,792 1926.5,791.2 1926.9,792 1927.3,792.8 1927.7,791.7 1928.1,791.2 1928.5,791 1928.9,791.2 1929.3,790.8 1929.7,791.6 1930.1,790.5 1930.5,789.7 1930.9,790.3 1931.3,788.2 1931.7,786.1 1932.1,784.5 1932.5,742.5 1932.9,731.5 1933.3,731.5 1933.7,731.5 1934.1,731.5 1934.5,731.5 1934.9,731.5 1935.3,731.5 1935.7,742.5 1936.1,786.3 1936.5,792 1936.9,790.8 1937.3,789.1 1937.7,787.4 1938.1,785.7 1938.5,784.2 1938.9,785.9 1939.3,787.6 1939.7,789.3 1940.1,783.5 1940.5,783.9 1940.9,791.7 1941.3,792.2 1941.7,791.3 1942.1,791.6 1942.5,791.9 1942.9,789.4 1943.3,773.7 1943.7,773.7 1944.1,773.7 1944.5,773.7 1944.9,773.7 1945.3,773.7 1945.7,773.7 1946.1,773.7 1946.5,781.6 1946.9,789 1947.3,791 1947.7,790.7 1948.1,791.5 1948.5,791.1 1948.9,792.5 1949.3,792.2 1949.7,792.4 1950.1,792.9 1950.5,793.6 1950.9,792.6 1951.3,792 1951.7,788.6 1952.1,785.2 1952.5,781.8 1952.9,780.2 1953.3,783.6 1953.7,787 1954.1,787 1954.5,785.7 1954.9,789.2 1955.3,791.6 1955.7,792.6 1956.1,792.5 1956.5,790.8 1956.9,785.9 1957.3,774.5 1957.7,774.5 1958.1,774.5 1958.5,774.5 1958.9,774.5 1959.3,774.5 1959.7,774.5 1960.1,774.5 1960.5,785.9 1960.9,791.8 1961.3,792.4 1961.7,792.1 1962.1,791.6 1962.5,791.6 1962.9,791.5 1963.3,790.9 1963.7,791 1964.1,790.7 1964.5,790.6 1964.9,789 1965.3,786.1 1965.7,783.3 1966.1,784.9 1966.5,787.8 1966.9,790.7 1967.3,792.7 1967.7,792.1 1968.1,791.2 1968.5,790.3 1968.9,789.7 1969.3,790.6 1969.7,791.5 1970.1,791.8 1970.5,793 1970.9,792.6 1971.3,791.2 1971.7,789.8 1972.1,788.5 1972.5,787.7 1972.9,789.1 1973.3,790.5 1973.7,790.7 1974.1,790.3 1974.5,790.7 1974.9,790.3 1975.3,789.6 1975.7,787.2 1976.1,789.8 1976.5,791.5 1976.9,792.3 1977.3,791.7 1977.7,791.9 1978.1,791.6 1978.5,790.6 1978.9,787.4 1979.3,788 1979.7,791.3 1980.1,792.6 1980.5,792.3 1980.9,792.8 1981.3,792 1981.7,791.2 1982.1,791.5 1982.5,792.4 1982.9,793.2 1983.3,792.7 1983.7,793.8 1984.1,793.9 1984.5,793.5 1984.9,793 1985.3,792.8 1985.7,793.3 1986.1,793.1 1986.5,792.8 1986.9,793 1987.3,793.1 1987.7,793 1988.1,792.2 1988.5,790.4 1988.9,788.6 1989.3,790 1989.7,791.8 1990.1,793.6 1990.5,793.3 1990.9,791.1 1991.3,788.9 1991.7,788.8 1992.1,791 1992.5,790.9 1992.9,791.6 1993.3,791.3 1993.7,790.6 1994.1,789 1994.5,789.7 1994.9,790.8 1995.3,791.2 1995.7,791.6 1996.1,792.1 1996.5,791.3 1996.9,792.4 1997.3,792.4 1997.7,791.8 1998.1,791.9 1998.5,792.4 1998.9,792 1999.3,791.7 1999.7,791.7 2000.1,789.7 2000.5,787.8 2000.9,787 2001.3,788.9 2001.7,790.8 2002.1,792.8 2002.5,793.6 2002.9,793.1 2003.3,793.6 2003.7,792.7 2004.1,791.6 2004.5,790 2004.9,787.3 2005.3,787.7 2005.7,790.5 2006.1,793.2 2006.5,793.3 2006.9,793 2007.3,793.4 2007.7,792.8 2008.1,791.2 2008.5,789.5 2008.9,787.9 2009.3,788.4 2009.7,790 2010.1,791.7 2010.5,792.8 2010.9,792.9 2011.3,791.6 2011.7,790.3 2012.1,791.1 2012.5,792.4 2012.9,793.2 2013.3,793.3 2013.7,792.7 2014.1,792.1 2014.5,792.5 2014.9,792.7 2015.3,792.8 2015.7,791.8 2016.1,790.8 2016.5,791.6 2016.9,792.6 2017.3,792.3 2017.7,791.8 2018.1,792 2018.5,790.9 2018.9,791.4 2019.3,791.8 2019.7,791.9 2020.1,791.7 2020.5,791.1 2020.9,792.1 2021.3,791.7 2021.7,790.6 2022.1,792 2022.5,793.4 2022.9,793.5 2023.3,793.8 2023.7,793.6 2024.1,793.3 2024.5,792.6 2024.9,791.6 2025.3,791.4 2025.7,792.2 2026.1,791.8 2026.5,792.6 2026.9,792.6 2027.3,792.4 2027.7,791.9 2028.1,791.8 2028.5,790.8 2028.9,789.4 2029.3,790.9 2029.7,792.1 2030.1,792.7 2030.5,793.4 2030.9,793.5 2031.3,793.9 2031.7,793.6 2032.1,793.5 2032.5,794 2032.9,792.4 2033.3,790.8 2033.7,789.3 2034.1,787.8 2034.5,788.5 2034.9,790.1 2035.3,788.3 2035.7,788 2036.1,789.9 2036.5,790.8 2036.9,791.4 2037.3,791.5 2037.7,790.6 2038.1,788.5 2038.5,787.9 2038.9,790 2039.3,792.1 2039.7,793.8 2040.1,794.3 2040.5,793.7 2040.9,792.9 2041.3,792 2041.7,791.5 2042.1,792.4 2042.5,793 2042.9,793.6 2043.3,794.6 2043.7,794.7 2044.1,794.1 2044.5,793.2 2044.9,793.8 2045.3,793.2 2045.7,793.7 2046.1,793.8 2046.5,794.4 2046.9,792 2047.3,789.8 2047.7,787.7 2048.1,785.5 2048.5,787 2048.9,789.2 2049.3,791.4 2049.7,793 2050.1,793.5 2050.5,793.6 2050.9,793.2 2051.3,791.9 2051.7,790.4 2052.1,788.9 2052.5,789.1 2052.9,790.6 2053.3,792.1 2053.7,793.6 2054.1,794.5 2054.5,793.5 2054.9,792.7 2055.3,791.9 2055.7,791.2 2056.1,791.7 2056.5,791.9 2056.9,791.6 2057.3,792.1 2057.7,790.9 2058.1,791.5 2058.5,791.5 2058.9,792.6 2059.3,792.7 2059.7,793 2060.1,792.7 2060.5,792.5 2060.9,792 2061.3,792.4 2061.7,792.4 2062.1,791.3 2062.5,790 2062.9,788.8 2063.3,788.3 2063.7,789.5 2064.1,790.7 2064.5,791.6 2064.9,791.5 2065.3,791.4 2065.7,791.9 2066.1,790.7 2066.5,789.6 2066.9,788.4 2067.3,789.5 2067.7,790.7 2068.1,790.6 2068.5,789.3 2068.9,788 2069.3,788.5 2069.7,789.8 2070.1,790.3 2070.5,789.4 2070.9,790.6 2071.3,791.8 2071.7,793 2072.1,793.2 2072.5,793.1 2072.9,792.9 2073.3,792.7 2073.7,793.4 2074.1,793.9 2074.5,794.1 2074.9,793.8 2075.3,793.7 2075.7,792.9 2076.1,792.1 2076.5,792.1 2076.9,793 2077.3,792.5 2077.7,792.7 2078.1,792.7 2078.5,793.4 2078.9,793.8 2079.3,794 2079.7,792.6 2080.1,791.7 2080.5,790.8 2080.9,789.9 2081.3,790.1 2081.7,791.1 2082.1,791 2082.5,791.2 2082.9,790.6 2083.3,790.2 2083.7,791.1 2084.1,792 2084.5,792.7 2084.9,791.3 2085.3,791.5 2085.7,792.8 2086.1,793 2086.5,792.5 2086.9,792.7 2087.3,793 2087.7,793.4 2088.1,793.2 2088.5,793.5 2088.9,793.5 2089.3,793.3 2089.7,793.4 2090.1,792.8 2090.5,792.7 2090.9,792.8 2091.3,792.7 2091.7,792.8 2092.1,793.6 2092.5,793.7 2092.9,794.6 2093.3,794.5 2093.7,792.5 2094.1,791.1 2094.5,793.1 2094.9,794.3 2095.3,793.7 2095.7,793.4 2096.1,793.8 2096.5,791.6 2096.9,789.3 2097.3,791.2 2097.7,793.5 2098.1,793.8 2098.5,792.8 2098.9,792 2099.3,793.3 2099.7,793.5 2100.1,793.8 2100.5,792.7 2100.9,787.1 2101.3,776.9 2101.7,776.9 2102.1,776.9 2102.5,776.9 2102.9,776.9 2103.3,776.9 2103.7,776.9 2104.1,776.9 2104.5,787.1 2104.9,794.3 2105.3,793.3 2105.7,793.6 2106.1,793.2 2106.5,792.2 2106.9,793.4 2107.3,794.4 2107.7,793.4 2108.1,792.4 2108.5,793.3 2108.9,792.8 2109.3,792.3 2109.7,792.7 2110.1,792.8 2110.5,792.6 2110.9,793.5 2111.3,794 2111.7,793.5 2112.1,792.9 2112.5,792.6 2112.9,792 2113.3,792.5 2113.7,793 2114.1,793.2 2114.5,793.2 2114.9,792.9 2115.3,791.9 2115.7,791 2116.1,791.3 2116.5,792.3 2116.9,793.2 2117.3,794.2 2117.7,794.3 2118.1,794.2 2118.5,792.3 2118.9,790 2119.3,789.4 2119.7,791.6 2120.1,791.6 2120.5,791.1 2120.9,791.7 2121.3,791.9 2121.7,791.6 2122.1,790.5 2122.5,790 2122.9,791.1 2123.3,792.1 2123.7,793 2124.1,792.9 2124.5,793 2124.9,793.1 2125.3,791.7 2125.7,791.2 2126.1,788.8 2126.5,785.7 2126.9,782.7 2127.3,785.6 2127.7,788.6 2128.1,790.7 2128.5,790.3 2128.9,791.1 2129.3,792.1 2129.7,792 2130.1,793 2130.5,793 2130.9,792.8 2131.3,792.9 2131.7,793.6 2132.1,792.8 2132.5,792.4 2132.9,793.1 2133.3,792.8 2133.7,791.7 2134.1,792 2134.5,793.2 2134.9,794.4 2135.3,794.2 2135.7,793.5 2136.1,792.9 2136.5,792.9 2136.9,793.6 2137.3,793.7 2137.7,793.7 2138.1,793.5 2138.5,792.9 2138.9,793.3 2139.3,792.9 2139.7,793.4 2140.1,793.7 2140.5,792.7 2140.9,791.6 2141.3,792.5 2141.7,793 2142.1,793 2142.5,792.9 2142.9,792.9 2143.3,793.1 2143.7,793.4 2144.1,792.8 2144.5,792.8 2144.9,792.3 2145.3,793.3 2145.7,791.5 2146.1,786.7 2146.5,789.6 2146.9,794.4 2147.3,794.4 2147.7,794.2 2148.1,793.3 2148.5,791.5 2148.9,792.8 2149.3,793.6 2149.7,793.3 2150.1,793.3 2150.5,793.6 2150.9,791.9 2151.3,788.6 2151.7,788.8 2152.1,791.5 2152.5,792 2152.9,792.8 2153.3,793.6 2153.7,794.3 2154.1,792.9 2154.5,791.2 2154.9,789.6 2155.3,761.6 2155.7,726 2156.1,726 2156.5,726 2156.9,726 2157.3,726 2157.7,726 2158.1,726 2158.5,726 2158.9,761.7 2159.3,792.1 2159.7,792.4 2160.1,791.8 2160.5,792.6 2160.9,792.6 2161.3,793.8 2161.7,793.5 2162.1,792.2 2162.5,792.9 2162.9,793.6 2163.3,793.1 2163.7,792.5 2164.1,792 2164.5,792 2164.9,792.2 2165.3,792.5 2165.7,792 2166.1,792.7 2166.5,793.7 2166.9,793.5 2167.3,793.6 2167.7,793.9 2168.1,793.4 2168.5,793.2 2168.9,793.8 2169.3,793.1 2169.7,792.4 2170.1,792.4 2170.5,791.8 2170.9,791.3 2171.3,791 2171.7,792.1 2172.1,793 2172.5,793.2 2172.9,793.8 2173.3,793.6 2173.7,792.4 2174.1,791 2174.5,789.5 2174.9,788.1 2175.3,788.4 2175.7,789.8 2176.1,791.2 2176.5,792.2 2176.9,790.7 2177.3,791.9 2177.7,793.4 2178.1,793.6 2178.5,793.1 2178.9,793.2 2179.3,792.9 2179.7,792.3 2180.1,792.2 2180.5,792.6 2180.9,792.8 2181.3,790.1 2181.7,791.1 2182.1,794.2 2182.5,793.1 2182.9,792 2183.3,790.9 2183.7,790.4 2184.1,791.5 2184.5,792.6 2184.9,793.6 2185.3,793.7 2185.7,792.8 2186.1,792.2 2186.5,791.5 2186.9,790.9 2187.3,791.3 2187.7,791.9 2188.1,792.1 2188.5,792.9 2188.9,793.4 2189.3,792.7 2189.7,790.2 2190.1,791 2190.5,792.8 2190.9,793.3 2191.3,793.3 2191.7,793.8 2192.1,794 2192.5,792.4 2192.9,790.9 2193.3,789.4 2193.7,788.5 2194.1,790 2194.5,791.6 2194.9,792.3 2195.3,790.2 2195.7,788.2 2196.1,786.2 2196.5,785.2 2196.9,787.2 2197.3,789.2 2197.7,791.3 2198.1,791.6 2198.5,792.3 2198.9,792 2199.3,792.4 2199.7,792 2200.1,790.8 2200.5,791.3 2200.9,792.5 2201.3,792.9 2201.7,792 2202.1,789.4 2202.5,791.4 2202.9,792.7 2203.3,791.5 2203.7,790.3 2204.1,791.2 2204.5,791.2 2204.9,790.1 2205.3,790.1 2205.7,791.1 2206.1,792.2 2206.5,793.2 2206.9,793.2 2207.3,792.5 2207.7,792.5 2208.1,792.4 2208.5,793 2208.9,792.5 2209.3,791.8 2209.7,792.8 2210.1,793.5 2210.5,793.5 2210.9,792.9 2211.3,793.1 2211.7,794.8 2212.1,793.7 2212.5,792.1 2212.9,790.4 2213.3,788.8 2213.7,787.9 2214.1,789.5 2214.5,791.1 2214.9,792.8 2215.3,793.8 2215.7,794.3 2216.1,795.4 2216.5,794.8 2216.9,794.5 2217.3,793.4 2217.7,794.1 2218.1,794.1 2218.5,794.7 2218.9,793.8 2219.3,794.1 2219.7,793.8 2220.1,791.6 2220.5,789.1 2220.9,791.2 2221.3,792.9 2221.7,792.7 2222.1,792.7 2222.5,782.3 2222.9,722.2 2223.3,707.2 2223.7,707.2 2224.1,707.2 2224.5,707.2 2224.9,707.2 2225.3,707.2 2225.7,707.2 2226.1,722.2 2226.5,782.3 2226.9,790.6 2227.3,790.8 2227.7,792.7 2228.1,793 2228.5,793.4 2228.9,793.3 2229.3,793 2229.7,793 2230.1,792.3 2230.5,791.3 2230.9,792.1 2231.3,793.1 2231.7,793.4 2232.1,793.3 2232.5,792 2232.9,791.3 2233.3,792.6 2233.7,793.4 2234.1,793.6 2234.5,794 2234.9,793.6 2235.3,792.8 2235.7,793.9 2236.1,792.8 2236.5,791.6 2236.9,792.9 2237.3,792.4 2237.7,791.5 2238.1,790.6 2238.5,791.3 2238.9,792 2239.3,792.8 2239.7,792.9 2240.1,792 2240.5,792.4 2240.9,793.2 2241.3,793.8 2241.7,793.4 2242.1,793.3 2242.5,793.6 2242.9,793.2 2243.3,793 2243.7,793.1 2244.1,793.5 2244.5,793.8 2244.9,794.7 2245.3,794.5 2245.7,794.8 2246.1,794.9 2246.5,795 2246.9,794.8 2247.3,794.6 2247.7,793.8 2248.1,793.1 2248.5,792.4 2248.9,792 2249.3,792.7 2249.7,793.3 2250.1,793.6 2250.5,793.9 2250.9,793.2 2251.3,792.6 2251.7,791.9 2252.1,791.2 2252.5,791.5 2252.9,792.2 2253.3,792.8 2253.7,793.5 2254.1,794.6 2254.5,794.2 2254.9,793.7 2255.3,793.2 2255.7,792.8 2256.1,792.8 2256.5,792.7 2256.9,793.4 2257.3,793 2257.7,793.1 2258.1,793.3 2258.5,793.5 2258.9,793.9 2259.3,794.7 2259.7,794.3 2260.1,794.7 2260.5,794.8 2260.9,793.9 2261.3,793.1 2261.7,793.8 2262.1,793 2262.5,793.1 2262.9,794 2263.3,792.8 2263.7,791.6 2264.1,791.9 2264.5,793.1 2264.9,793.7 2265.3,793.9 2265.7,793.3 2266.1,792.7 2266.5,792.8 2266.9,792.5 2267.3,792.9 2267.7,793.4 2268.1,794 2268.5,794.6 2268.9,793.8 2269.3,791.9 2269.7,791.2 2270.1,793.1 2270.5,792.9 2270.9,790.6 2271.3,786.4 2271.7,782.2 2272.1,785.2 2272.5,789.4 2272.9,791.8 2273.3,792.8 2273.7,792.9 2274.1,792.7 2274.5,792.1 2274.9,792.1 2275.3,792.7 2275.7,793.3 2276.1,793.9 2276.5,793.4 2276.9,794.3 2277.3,794.4 2277.7,794.1 2278.1,793.5 2278.5,794.2 2278.9,794.3 2279.3,793.9 2279.7,793.4 2280.1,792.9 2280.5,792.4 2280.9,792.5 2281.3,792.9 2281.7,793.4 2282.1,793.1 2282.5,794 2282.9,794.7 2283.3,793.5 2283.7,793.3 2284.1,793.6 2284.5,793.9 2284.9,792.8 2285.3,794 2285.7,793.5 2286.1,793.2 2286.5,792.9 2286.9,793 2287.3,792.4 2287.7,791.5 2288.1,790.6 2288.5,791.5 2288.9,792.5 2289.3,793.4 2289.7,793.4 2290.1,792.7 2290.5,791.4 2290.9,790 2291.3,788.6 2291.7,788.7 2292.1,790.1 2292.5,791.5 2292.9,792.9 2293.3,793.7 2293.7,794.1 2294.1,793.9 2294.5,792.7 2294.9,791.4 2295.3,791.7 2295.7,793 2296.1,793.3 2296.5,793 2296.9,792.4 2297.3,792.8 2297.7,793.1 2298.1,792.5 2298.5,792.3 2298.9,789.5 2299.3,785.7 2299.7,786.4 2300.1,790.1 2300.5,793.6 2300.9,792.6 2301.3,791.7 2301.7,792.5 2302.1,792.4 2302.5,792.6 2302.9,792.4 2303.3,792.7 2303.7,792.6 2304.1,792.2 2304.5,792.4 2304.9,792.9 2305.3,793.3 2305.7,793.8 2306.1,794.6 2306.5,793.1 2306.9,791.5 2307.3,792.2 2307.7,792.8 2308.1,793 2308.5,791.5 2308.9,790 2309.3,788.4 2309.7,788.5 2310.1,790.1 2310.5,788.2 2310.9,785.7 2311.3,784.3 2311.7,786.9 2312.1,789.4 2312.5,791.9 2312.9,793.4 2313.3,792.8 2313.7,789.4 2314.1,785.9 2314.5,789.4 2314.9,792.9 2315.3,793.2 2315.7,793.1 2316.1,792.5 2316.5,791.8 2316.9,792.2 2317.3,792.8 2317.7,793 2318.1,793.3 2318.5,793.1 2318.9,792.6 2319.3,792.1 2319.7,792.9 2320.1,792.1 2320.5,792.9 2320.9,793.4 2321.3,793.5 2321.7,792.8 2322.1,792.7 2322.5,792.8 2322.9,792.5 2323.3,792.4 2323.7,793.3 2324.1,794.2 2324.5,794.8 2324.9,794.5 2325.3,794.1 2325.7,793.6 2326.1,794 2326.5,792.9 2326.9,793.2 2327.3,792.4 2327.7,791.3 2328.1,790 2328.5,790.2 2328.9,791.5 2329.3,792.7 2329.7,793.4 2330.1,792.9 2330.5,791.7 2330.9,790.3 2331.3,791.8 2331.7,793.2 2332.1,792.5 2332.5,790.2 2332.9,787.9 2333.3,785.7 2333.7,784.7 2334.1,787 2334.5,789.2 2334.9,791.5 2335.3,797.3" fill="#16a698" stroke="#16a698" stroke-width="1.4" stroke-linejoin="miter" stroke-miterlimit="2"/>
<polyline points="627,378.3 627.2,378.3 627.5,378.8 627.8,379.5 628,380.1 628.2,380.4 628.5,379.3 628.8,379 629,379.2 629.2,379.7 629.5,378.2 629.8,378.3 630,378.7 630.2,378.2 630.5,377.8 630.8,377.1 631,376.4 631.2,377.1 631.5,377.3 631.8,376.8 632,376.2 632.2,377.4 632.5,377.9 632.8,376.6 633,376.6 633.2,376.4 633.5,376.2 633.8,376.9 634,377 634.2,376.4 634.5,376 634.8,376.9 635,376.6 635.2,377.1 635.5,378.7 635.8,378.6 636,377.9 636.2,378.2 636.5,377.2 636.8,377.5 637,378.3 637.2,378.8 637.5,378.3 637.8,377.8 638,377 638.2,376.5 638.5,377.1 638.8,378.1 639,378.1 639.2,379 639.5,379.3 639.8,380.2 640,379.8 640.2,379.7 640.5,380.5 640.8,380.5 641,380 641.2,379.5 641.5,379.5 641.8,378.9 642,378.2 642.2,376.8 642.5,375.5 642.8,375.8 643,376.1 643.2,376 643.5,376.5 643.8,376.7 644,376.5 644.2,375.8 644.5,375.7 644.8,376.1 645,376.6 645.2,377.6 645.5,378 645.8,378.3 646,378.1 646.2,378.1 646.5,378.5 646.8,378.6 647,380 647.2,380.7 647.5,380.5 647.8,380.1 648,380.1 648.2,380 648.5,380.4 648.8,379.9 649,379.7 649.2,379.3 649.5,380 649.8,379.2 650,379.5 650.2,380.3 650.5,381.4 650.8,381.3 651,381.5 651.2,381.4 651.5,381.4 651.8,381.4 652,381.5 652.2,380.7 652.5,380.7 652.8,380.5 653,379.7 653.2,379.4 653.5,378.4 653.8,378.1 654,376.8 654.2,377.8 654.5,377.7 654.8,377.5 655,377 655.2,376.2 655.5,376.7 655.8,377.2 656,376.4 656.2,377.1 656.5,377.7 656.8,377.7 657,377 657.2,377.7 657.5,378.2 657.8,378.2 658,379 658.2,378.8 658.5,378.7 658.8,378.7 659,379.3 659.2,378.4 659.5,378.8 659.8,378.9 660,378 660.2,377.6 660.5,377.9 660.8,377.5 661,376.5 661.2,377.3 661.5,377.9 661.8,377.1 662,377.8 662.2,377.1 662.5,376.8 662.8,377.4 663,375.7 663.2,371.7 663.5,366.2 663.8,361.4 664,356.1 664.2,354.1 664.5,354.3 664.8,354 665,355.6 665.2,359.3 665.5,364.6 665.8,370.4 666,373.9 666.2,375.4 666.5,375.6 666.8,376.1 667,376.2 667.2,375.5 667.5,376.5 667.8,376.8 668,377.8 668.2,378 668.5,378.1 668.8,379.3 669,380.1 669.2,380.2 669.5,380.3 669.8,380 670,381.1 670.2,379.6 670.5,380.5 670.8,379.9 671,379.4 671.2,378.6 671.5,378.5 671.8,377.9 672,377.1 672.2,376.1 672.5,376.6 672.8,375.3 673,375 673.2,374 673.5,373.4 673.8,372.5 674,373.8 674.2,372.7 674.5,370.9 674.8,371.3 675,370.5 675.2,365.7 675.5,357 675.8,345 676,333.3 676.2,325.3 676.5,323 676.8,321.5 677,322.8 677.2,329.4 677.5,339.1 677.8,352.3 678,363.5 678.2,370.6 678.5,374.3 678.8,375.2 679,375.5 679.2,375.4 679.5,375.9 679.8,375.9 680,375.8 680.2,376.1 680.5,375.2 680.8,377.5 681,377.8 681.2,377.7 681.5,378 681.8,379.4 682,379.1 682.2,378.4 682.5,378.3 682.8,378.6 683,378.3 683.2,378.9 683.5,377.6 683.8,377.7 684,376.2 684.2,375.5 684.5,375.3 684.8,376 685,376.4 685.2,376.5 685.5,375.3 685.8,374.3 686,373.8 686.2,373.5 686.5,372.1 686.8,370.4 687,361.9 687.2,343.6 687.5,322 687.8,303 688,291.3 688.2,287.3 688.5,288.2 688.8,290.7 689,299.7 689.2,316.3 689.5,336.6 689.8,355.2 690,367 690.2,370.8 690.5,371.3 690.8,372.5 691,373 691.2,373 691.5,373.8 691.8,373.5 692,374.8 692.2,376.3 692.5,375.5 692.8,375.2 693,376.2 693.2,377 693.5,376.8 693.8,377.3 694,377.6 694.2,377.1 694.5,378.3 694.8,378.7 695,377.3 695.2,377.8 695.5,377.7 695.8,376.9 696,377.1 696.2,377.1 696.5,376.7 696.8,375.8 697,375.9 697.2,373.8 697.5,371.7 697.8,371.1 698,369.7 698.2,369.2 698.5,368.3 698.8,365.4 699,357.4 699.2,339.2 699.5,306.6 699.8,267.5 700,236 700.2,220.3 700.5,216.7 700.8,218.2 701,224.5 701.2,244.2 701.5,278.1 701.8,317 702,347.4 702.2,363.8 702.5,369.6 702.8,372.2 703,373.6 703.2,373.9 703.5,373.6 703.8,373.9 704,374.4 704.2,375.1 704.5,375.3 704.8,375 705,375.5 705.2,375.8 705.5,376.2 705.8,375.8 706,375.6 706.2,375.9 706.5,376.3 706.8,375.8 707,374.9 707.2,374.4 707.5,374.7 707.8,374.4 708,374.7 708.2,374.3 708.5,373.8 708.8,373.1 709,372.7 709.2,371.7 709.5,370.4 709.8,369.9 710,369.6 710.2,367.8 710.5,363.2 710.8,349.1 711,321.2 711.2,282.5 711.5,247.6 711.8,225.4 712,217.7 712.2,217.4 712.5,219.8 712.8,233.2 713,261.1 713.2,298.1 713.5,332.1 713.8,353.3 714,363.9 714.2,366.9 714.5,368.4 714.8,368.8 715,369.8 715.2,371 715.5,371 715.8,371.4 716,371.9 716.2,373.1 716.5,375.1 716.8,376 717,376.7 717.2,376.8 717.5,377.4 717.8,377.1 718,378 718.2,378.5 718.5,379.1 718.8,379.1 719,378.4 719.2,378.1 719.5,377.1 719.8,375.7 720,375 720.2,374.5 720.5,373.3 720.8,372.9 721,372.1 721.2,371.9 721.5,371.3 721.8,371.2 722,370 722.2,369.1 722.5,367.2 722.8,357.6 723,336.4 723.2,308.2 723.5,280.5 723.8,263 724,255.6 724.2,254.5 724.5,257 724.8,268.1 725,290.5 725.2,318.2 725.5,344.3 725.8,360.5 726,367.2 726.2,369.6 726.5,371.1 726.8,372.5 727,373.3 727.2,372.8 727.5,372.6 727.8,372.6 728,373.7 728.2,373.7 728.5,373.7 728.8,375.4 729,375.9 729.2,375.4 729.5,374.9 729.8,375.5 730,376.2 730.2,375.6 730.5,375.1 730.8,375.5 731,375.9 731.2,375.7 731.5,374.9 731.8,374 732,374.7 732.2,374.1 732.5,373.5 732.8,373.1 733,373 733.2,372.7 733.5,371.5 733.8,371.5 734,371.6 734.2,369 734.5,361.9 734.8,342.9 735,311.3 735.2,273.2 735.5,242.8 735.8,226.4 736,222.4 736.2,223.4 736.5,227.6 736.8,246.4 737,279.2 737.2,316 737.5,344.4 737.8,360.8 738,366.8 738.2,368.8 738.5,370.5 738.8,371.5 739,371 739.2,373 739.5,371.9 739.8,372.2 740,372.7 740.2,373.8 740.5,373.5 740.8,374.7 741,375.1 741.2,375.1 741.5,374.4 741.8,374.8 742,374.1 742.2,376.1 742.5,375.9 742.8,375.6 743,375.3 743.2,376.5 743.5,376.2 743.8,375.3 744,374 744.2,373.8 744.5,373 744.8,373.2 745,372.5 745.2,372.7 745.5,372.2 745.8,372.8 746,371 746.2,368.5 746.5,358.1 746.8,337.1 747,306.5 747.2,275.1 747.5,252.6 747.8,243.2 748,241.3 748.2,243.5 748.5,251.9 748.8,274.3 749,305.3 749.2,336.8 749.5,358.2 749.8,366.5 750,369.3 750.2,370.3 750.5,371.6 750.8,372.6 751,372.8 751.2,372.3 751.5,371.7 751.8,372.4 752,372.7 752.2,372.7 752.5,373.5 752.8,373.8 753,374.7 753.2,374.1 753.5,373.9 753.8,373.7 754,375.2 754.2,375 754.5,373.7 754.8,374.9 755,374.8 755.2,375 755.5,375.7 755.8,375.2 756,374.7 756.2,373.8 756.5,373.6 756.8,373.7 757,374 757.2,374 757.5,373.7 757.8,373.6 758,373.4 758.2,370.8 758.5,363.3 758.8,346.3 759,322.5 759.2,297.9 759.5,279.6 759.8,271.5 760,270.7 760.2,270.9 760.5,278 760.8,295 761,320.2 761.2,344.3 761.5,361.2 761.8,369 762,371.5 762.2,371.4 762.5,372.6 762.8,373.6 763,374 763.2,374.6 763.5,374.8 763.8,374.3 764,375.2 764.2,376.9 764.5,377.1 764.8,376.6 765,377 765.2,377 765.5,376.7 765.8,376.9 766,377.8 766.2,378.8 766.5,378.5 766.8,377.5 767,376.7 767.2,376.7 767.5,376.4 767.8,376.6 768,376 768.2,376.2 768.5,375.8 768.8,375.3 769,374 769.2,376.1 769.5,376.2 769.8,375.3 770,371 770.2,363.5 770.5,349.2 770.8,333 771,319.1 771.2,312.2 771.5,309.3 771.8,310.3 772,311.5 772.2,319.9 772.5,334.4 772.8,351.3 773,364.2 773.2,371.1 773.5,373.8 773.8,374 774,374.5 774.2,376.1 774.5,375.7 774.8,375.7 775,376 775.2,377 775.5,376.5 775.8,376.4 776,377.1 776.2,375.9 776.5,375.9 776.8,375.4 777,375.3 777.2,375.8 777.5,375.7 777.8,376.9 778,375.2 778.2,376.1 778.5,376.4 778.8,375.9 779,376.9 779.2,377.8 779.5,378.1 779.8,377.2 780,376.6 780.2,377.6 780.5,376.8 780.8,376.6 781,375.4 781.2,373.9 781.5,371.5 781.8,362.9 782,348.5 782.2,331.4 782.5,318.3 782.8,311.1 783,307.7 783.2,306.7 783.5,309.3 783.8,318.3 784,332.8 784.2,347.9 784.5,361.1 784.8,367.6 785,370.2 785.2,371.3 785.5,371.7 785.8,372.2 786,373.1 786.2,373.7 786.5,374.1 786.8,374.7 787,376.7 787.2,377.2 787.5,377.1 787.8,377 788,376.9 788.2,377.1 788.5,377.6 788.8,378.1 789,378 789.2,377.7 789.5,376.6 789.8,375.7 790,375.3 790.2,375.4 790.5,376.2 790.8,375.2 791,374.6 791.2,374.3 791.5,374.1 791.8,373.9 792,373.7 792.2,374.7 792.5,375.3 792.8,375.1 793,375.5 793.2,373.9 793.5,373.5 793.8,370.8 794,362.3 794.2,349.3 794.5,335.4 794.8,323.8 795,317.7 795.2,316.4 795.5,316.5 795.8,319.5 796,328.4 796.2,341.4 796.5,356 796.8,366.1 797,371.1 797.2,372.3 797.5,372.9 797.8,373.5 798,373 798.2,372.7 798.5,373 798.8,373.3 799,374.1 799.2,374.8 799.5,375.5 799.8,375.2 800,376.5 800.2,378.4 800.5,378.9 800.8,379.1 801,380 801.2,379 801.5,378 801.8,378.1 802,377.3 802.2,377.5 802.5,377.1 802.8,377 803,375.4 803.2,376.2 803.5,375.9 803.8,375.5 804,376.7 804.2,378 804.5,377.1 804.8,377.1 805,376.6 805.2,377.6 805.5,376.7 805.8,377.8 806,375.3 806.2,373 806.5,367.4 806.8,359.2 807,352.6 807.2,348.7 807.5,346.6 807.8,345.9 808,347.3 808.2,349 808.5,353 808.8,360.9 809,367.5 809.2,372.1 809.5,374 809.8,375.2 810,374.8 810.2,376 810.5,375.6 810.8,374.2 811,374.5 811.2,375.1 811.5,375.5 811.8,376.1 812,376.6 812.2,376.7 812.5,376 812.8,376.9 813,376.5 813.2,378 813.5,378.6 813.8,378.4 814,377.9 814.2,376.3 814.5,376 814.8,376.2 815,376.5 815.2,376.9 815.5,376.7 815.8,375.7 816,375.1 816.2,374.9 816.5,376.5 816.8,377.1 817,378.8 817.2,378 817.5,376.4 817.8,375.2 818,371.2 818.2,367.1 818.5,364 818.8,361.8 819,361.7 819.2,361.2 819.5,361.7 819.8,364.4 820,369.1 820.2,374.2 820.5,377.3 820.8,378 821,378.2 821.2,379.3 821.5,379.1 821.8,378.6 822,378.5 822.2,378.1 822.5,377.4 822.8,377.4 823,377.5 823.2,377.2 823.5,377.5 823.8,377.3 824,376.7 824.2,378 824.5,377.5 824.8,378.2 825,379.1 825.2,378.7 825.5,378.8 825.8,378.5 826,378.8 826.2,379.6 826.5,380.1 826.8,379.7 827,379.4 827.2,380.1 827.5,378.6 827.8,377.8 828,377.6 828.2,377.1 828.5,377 828.8,376.4 829,375.9 829.2,375.4 829.5,374.2 829.8,371 830,367.6 830.2,365.5 830.5,364 830.8,363.7 831,363.9 831.2,363.8 831.5,365 831.8,366.5 832,369.2 832.2,372.5 832.5,375.7 832.8,376.2 833,375.8 833.2,375.8 833.5,376 833.8,375.6 834,377.2 834.2,376.9 834.5,377.1 834.8,378 835,378 835.2,378.3 835.5,379.1 835.8,380 836,379.6 836.2,379.1 836.5,379.2 836.8,377.8 837,376.8 837.2,377.2 837.5,376.4 837.8,377.8 838,376.6 838.2,376.3 838.5,376.3 838.8,377.2 839,377.2 839.2,377 839.5,377.4 839.8,378.5 840,378.5 840.2,378.9 840.5,376.8 840.8,377.2 841,377.9 841.2,377.5 841.5,377.3 841.8,377.2 842,377.2 842.2,376.5 842.5,375.6 842.8,373.1 843,370.5 843.2,371.1 843.5,372.5 843.8,372.3 844,372.7 844.2,373.1 844.5,374.5 844.8,375.2 845,375.1 845.2,375 845.5,376.2 845.8,377.9 846,378.7 846.2,378 846.5,377.7 846.8,377.6 847,379 847.2,378.8 847.5,380.1 847.8,379.7 848,380.1 848.2,379.9 848.5,379.6 848.8,378.7 849,378.8 849.2,378.5 849.5,379.1 849.8,378 850,378.6 850.2,378.1 850.5,379.5 850.8,379.1 851,380.4 851.2,380.3 851.5,380.3 851.8,379.4 852,380.4 852.2,379.8 852.5,380.1 852.8,379.9 853,379.9 853.2,379.1 853.5,378.4 853.8,377.4 854,377.2 854.2,377.3 854.5,377.7 854.8,376.3 855,376.8 855.2,376.8 855.5,376.5 855.8,376.1 856,376.4 856.2,377.1 856.5,377.5 856.8,378 857,378.5 857.2,378.5 857.5,378.8 857.8,379.6 858,379.1 858.2,379.5 858.5,380 858.8,380.2 859,380.6 859.2,380.2 859.5,380 859.8,379 860,377.9 860.2,378 860.5,376.9 860.8,377.9 861,378.2 861.2,377.5 861.5,376.9 861.8,377.1 862,376.3 862.2,376.1 862.5,377.1 862.8,377.9 863,378.4 863.2,379.4 863.5,379.3 863.8,379.3 864,379 864.2,378.9 864.5,378.5 864.8,378.4 865,378.4 865.2,377.1 865.5,377.7 865.8,376 866,373.9 866.2,372.5 866.5,371 866.8,371.1 867,371.3 867.2,371.3 867.5,372.9 867.8,373.6 868,375.6 868.2,376 868.5,377.3 868.8,377.5 869,377.3 869.2,377.5 869.5,377.7 869.8,378 870,377.8 870.2,377.3 870.5,377.9 870.8,377.9 871,378.2" fill="none" stroke="#000" stroke-width="2.8" stroke-linejoin="round" stroke-linecap="round"/>
<polyline points="1350.6,377 1350.8,377.1 1351.1,377.1 1351.3,377.1 1351.6,377.1 1351.8,377.2 1352.1,377 1352.3,377 1352.6,377.1 1352.8,376.9 1353.1,376.7 1353.3,376.8 1353.6,376.8 1353.8,376.8 1354.1,376.7 1354.3,376.8 1354.6,376.8 1354.8,376.9 1355.1,376.9 1355.3,376.9 1355.6,376.9 1355.8,376.9 1356.1,376.8 1356.3,376.9 1356.6,376.8 1356.8,376.8 1357.1,376.6 1357.3,376.7 1357.6,376.7 1357.8,376.8 1358.1,376.7 1358.3,376.7 1358.6,376.7 1358.8,376.8 1359.1,376.9 1359.3,377 1359.6,376.9 1359.8,376.8 1360.1,376.8 1360.3,376.8 1360.6,376.9 1360.8,376.9 1361.1,376.7 1361.3,376.7 1361.6,376.7 1361.8,376.7 1362.1,376.7 1362.3,376.6 1362.6,376.7 1362.8,376.8 1363.1,376.8 1363.3,376.9 1363.6,376.9 1363.8,376.8 1364.1,376.9 1364.3,376.7 1364.6,376.5 1364.8,375.8 1365.1,375.1 1365.3,374.5 1365.6,374 1365.8,373.7 1366.1,373.9 1366.3,373.8 1366.6,374 1366.8,374.3 1367.1,375 1367.3,375.7 1367.6,376.4 1367.8,376.8 1368.1,377 1368.3,376.9 1368.6,376.9 1368.8,377 1369.1,376.9 1369.3,376.9 1369.6,376.8 1369.8,376.8 1370.1,376.8 1370.3,376.9 1370.6,377 1370.8,376.9 1371.1,377 1371.3,377 1371.6,377 1371.8,377 1372.1,376.9 1372.3,376.8 1372.6,376.8 1372.8,376.7 1373.1,376.9 1373.3,376.9 1373.6,377 1373.8,377.1 1374.1,377.1 1374.3,377.2 1374.6,377.2 1374.8,377 1375.1,376.8 1375.3,376.2 1375.6,375.2 1375.8,373.7 1376.1,372.2 1376.3,371 1376.6,370.3 1376.8,370.2 1377.1,370.2 1377.3,370.3 1377.6,371 1377.8,372.1 1378.1,373.5 1378.3,375 1378.6,376 1378.8,376.6 1379.1,376.6 1379.3,376.7 1379.6,376.9 1379.8,376.8 1380.1,376.7 1380.3,376.6 1380.6,376.5 1380.8,376.6 1381.1,376.5 1381.3,376.7 1381.6,376.7 1381.8,376.7 1382.1,376.7 1382.3,376.8 1382.6,376.9 1382.8,376.9 1383.1,377 1383.3,377.1 1383.6,377 1383.8,376.9 1384.1,376.6 1384.3,376.3 1384.6,376.2 1384.8,376.2 1385.1,376.3 1385.3,376.1 1385.6,376.1 1385.8,376.1 1386.1,376.1 1386.3,376.2 1386.6,376 1386.8,375.2 1387.1,372.7 1387.3,368.3 1387.6,362.5 1387.8,356.6 1388.1,352.2 1388.3,349.9 1388.6,349.3 1388.8,349.3 1389.1,350.2 1389.3,352.8 1389.6,357.6 1389.8,363.6 1390.1,369.1 1390.3,373.1 1390.6,375.2 1390.8,376 1391.1,376.2 1391.3,376.2 1391.6,376.2 1391.8,376.2 1392.1,376.2 1392.3,376.4 1392.6,376.4 1392.8,376.6 1393.1,376.7 1393.3,376.8 1393.6,376.7 1393.8,376.7 1394.1,376.8 1394.3,376.7 1394.6,376.6 1394.8,376.5 1395.1,376.4 1395.3,376.2 1395.6,376.1 1395.8,376 1396.1,375.9 1396.3,375.9 1396.6,375.9 1396.8,375.8 1397.1,375.6 1397.3,375.5 1397.6,375.5 1397.8,375.3 1398.1,375.4 1398.3,375.2 1398.6,374.3 1398.8,371.6 1399.1,365.8 1399.3,356.2 1399.6,344.5 1399.8,334.1 1400.1,327.6 1400.3,324.8 1400.6,324.5 1400.8,325 1401.1,327.7 1401.3,334.3 1401.6,344.6 1401.8,356.3 1402.1,366.1 1402.3,372.1 1402.6,374.8 1402.8,375.5 1403.1,375.8 1403.3,375.8 1403.6,375.7 1403.8,375.7 1404.1,375.8 1404.3,376 1404.6,376 1404.8,376.1 1405.1,376.1 1405.3,376.2 1405.6,376.4 1405.8,376.5 1406.1,376.4 1406.3,376.2 1406.6,376.1 1406.8,376 1407.1,376 1407.3,376 1407.6,375.7 1407.8,375.5 1408.1,375.4 1408.3,375.5 1408.6,375.6 1408.8,375.4 1409.1,375.3 1409.3,375 1409.6,374.9 1409.8,374.7 1410.1,374.4 1410.3,372.5 1410.6,366.8 1410.8,355 1411.1,337.1 1411.3,316.6 1411.6,299.6 1411.8,289.6 1412.1,286 1412.3,285.5 1412.6,286.5 1412.8,292.6 1413.1,305.4 1413.3,324.1 1413.6,344.2 1413.8,360.2 1414.1,369.1 1414.3,372.9 1414.6,374.1 1414.8,374.6 1415.1,374.7 1415.3,374.9 1415.6,375.1 1415.8,375.2 1416.1,375.4 1416.3,375.5 1416.6,375.6 1416.8,375.7 1417.1,375.9 1417.3,376 1417.6,376.1 1417.8,376 1418.1,376.1 1418.3,376.1 1418.6,376 1418.8,376 1419.1,375.8 1419.3,375.6 1419.6,375.5 1419.8,375.4 1420.1,375.3 1420.3,375.2 1420.6,375.1 1420.8,374.9 1421.1,374.6 1421.3,374.5 1421.6,374.3 1421.8,374.1 1422.1,373.4 1422.3,371.3 1422.6,365 1422.8,351.8 1423.1,331.4 1423.3,308.4 1423.6,289.3 1423.8,278 1424.1,274.1 1424.3,273.6 1424.6,274.9 1424.8,281.7 1425.1,296.1 1425.3,317.4 1425.6,340.2 1425.8,358.1 1426.1,368.3 1426.3,372.3 1426.6,373.6 1426.8,374 1427.1,374.1 1427.3,374.3 1427.6,374.3 1427.8,374.5 1428.1,374.6 1428.3,374.7 1428.6,375 1428.8,375.3 1429.1,375.5 1429.3,375.8 1429.6,375.9 1429.8,376.1 1430.1,376.2 1430.3,376 1430.6,375.8 1430.8,375.6 1431.1,375.5 1431.3,375.4 1431.6,375.2 1431.8,375.1 1432.1,374.7 1432.3,374.5 1432.6,374.4 1432.8,374.3 1433.1,374.1 1433.3,373.8 1433.6,373.6 1433.8,373.1 1434.1,371.7 1434.3,367.4 1434.6,356.4 1434.8,335.4 1435.1,307.1 1435.3,278.8 1435.6,257.9 1435.8,247.7 1436.1,245.1 1436.3,245.3 1436.6,249.2 1436.8,261.3 1437.1,283.9 1437.3,312.8 1437.6,340.2 1437.8,359.2 1438.1,368.5 1438.3,371.9 1438.6,372.9 1438.8,373.1 1439.1,373.6 1439.3,373.8 1439.6,374.2 1439.8,374.4 1440.1,374.6 1440.3,375 1440.6,375.2 1440.8,375.3 1441.1,375.6 1441.3,375.8 1441.6,375.9 1441.8,376 1442.1,375.9 1442.3,375.7 1442.6,375.4 1442.8,375.2 1443.1,375 1443.3,374.6 1443.6,374.3 1443.8,374.2 1444.1,373.8 1444.3,373.6 1444.6,373.4 1444.8,373 1445.1,372.9 1445.3,372.7 1445.6,372.4 1445.8,370.5 1446.1,363.9 1446.3,348.6 1446.6,321.6 1446.8,287.4 1447.1,255.5 1447.3,233.4 1447.6,223.3 1447.8,221.1 1448.1,221.6 1448.3,227.7 1448.6,244.8 1448.8,273.6 1449.1,308.1 1449.3,338.8 1449.6,358.8 1449.8,368.2 1450.1,371.4 1450.3,372.4 1450.6,372.8 1450.8,373.1 1451.1,373.5 1451.3,373.8 1451.6,374.1 1451.8,374.5 1452.1,374.9 1452.3,375.4 1452.6,375.6 1452.8,375.8 1453.1,376 1453.3,376.2 1453.6,376.3 1453.8,376.3 1454.1,376.2 1454.3,375.8 1454.6,375.5 1454.8,375.3 1455.1,375.2 1455.3,375.1 1455.6,374.9 1455.8,374.8 1456.1,374.5 1456.3,374.1 1456.6,374 1456.8,373.7 1457.1,373.4 1457.3,373 1457.6,372.6 1457.8,371.9 1458.1,369.2 1458.3,361.4 1458.6,343.6 1458.8,314.1 1459.1,278.9 1459.3,247.7 1459.6,227.8 1459.8,219.7 1460.1,218.3 1460.3,219.5 1460.6,227.6 1460.8,247.5 1461.1,278.5 1461.3,313.8 1461.6,343.2 1461.8,361.1 1462.1,369.1 1462.3,371.6 1462.6,372.3 1462.8,372.5 1463.1,372.7 1463.3,373.1 1463.6,373.3 1463.8,373.8 1464.1,374 1464.3,374.3 1464.6,374.6 1464.8,375 1465.1,375.5 1465.3,375.8 1465.6,376.1 1465.8,376.4 1466.1,376.3 1466.3,376 1466.6,375.8 1466.8,375.7 1467.1,375.4 1467.3,375 1467.6,374.7 1467.8,374.3 1468.1,374 1468.3,373.7 1468.6,373.5 1468.8,373.3 1469.1,373 1469.3,372.3 1469.6,370.8 1469.8,365.8 1470.1,353.2 1470.3,329.7 1470.6,297.9 1470.8,266.2 1471.1,243 1471.3,231.3 1471.6,228.6 1471.8,228.7 1472.1,233 1472.3,246.9 1472.6,272.3 1472.8,304.9 1473.1,335.6 1473.3,356.7 1473.6,367.6 1473.8,371.4 1474.1,372.7 1474.3,373.3 1474.6,373.6 1474.8,373.8 1475.1,374.1 1475.3,374.5 1475.6,375 1475.8,375.2 1476.1,375.3 1476.3,375.3 1476.6,375.5 1476.8,375.7 1477.1,376.1 1477.3,376.2 1477.6,376.3 1477.8,376 1478.1,375.8 1478.3,375.8 1478.6,375.6 1478.8,375.4 1479.1,375.2 1479.3,374.7 1479.6,374.6 1479.8,374.4 1480.1,374.1 1480.3,373.9 1480.6,373.6 1480.8,373.4 1481.1,372.7 1481.3,371.2 1481.6,366.2 1481.8,353.7 1482.1,332.1 1482.3,304.8 1482.6,279.1 1482.8,261.5 1483.1,253.5 1483.3,252 1483.6,252.5 1483.8,257.4 1484.1,271.3 1484.3,294.4 1484.6,322.2 1484.8,346.8 1485.1,362.9 1485.3,370.4 1485.6,373 1485.8,373.7 1486.1,374.1 1486.3,374.2 1486.6,374.4 1486.8,374.5 1487.1,374.6 1487.3,374.8 1487.6,375 1487.8,375 1488.1,375.2 1488.3,375.4 1488.6,375.6 1488.8,375.9 1489.1,376.1 1489.3,376.3 1489.6,376.4 1489.8,376.3 1490.1,376.3 1490.3,376.2 1490.6,376 1490.8,375.7 1491.1,375.5 1491.3,375.3 1491.6,375 1491.8,374.8 1492.1,374.7 1492.3,374.5 1492.6,374.2 1492.8,374.1 1493.1,373.7 1493.3,372.5 1493.6,367.9 1493.8,357.3 1494.1,338.7 1494.3,315 1494.6,293 1494.8,277.9 1495.1,270.9 1495.3,269.6 1495.6,269.9 1495.8,274.1 1496.1,286 1496.3,305.9 1496.6,329.8 1496.8,350.7 1497.1,364.5 1497.3,371 1497.6,373 1497.8,373.8 1498.1,374.3 1498.3,374.5 1498.6,374.6 1498.8,374.8 1499.1,375.1 1499.3,375.3 1499.6,375.5 1499.8,375.8 1500.1,375.8 1500.3,375.9 1500.6,376.1 1500.8,376.1 1501.1,376.2 1501.3,376.3 1501.6,376.3 1501.8,376.2 1502.1,376.1 1502.3,376.1 1502.6,376 1502.8,375.8 1503.1,375.8 1503.3,375.8 1503.6,375.7 1503.8,375.4 1504.1,375.3 1504.3,375 1504.6,374.6 1504.8,373.1 1505.1,368.8 1505.3,359.8 1505.6,345.7 1505.8,330.2 1506.1,317.2 1506.3,309.4 1506.6,306.8 1506.8,306.7 1507.1,307.5 1507.3,311.8 1507.6,321.8 1507.8,336.5 1508.1,351.9 1508.3,364.1 1508.6,371.1 1508.8,374 1509.1,374.7 1509.3,375 1509.6,375.5 1509.8,375.5 1510.1,375.4 1510.3,375.5 1510.6,375.6 1510.8,375.7 1511.1,375.7 1511.3,376 1511.6,376.1 1511.8,376.2 1512.1,376.2 1512.3,376.4 1512.6,376.4 1512.8,376.5 1513.1,376.5 1513.3,376.5 1513.6,376.3 1513.8,376.3 1514.1,376.1 1514.3,376.2 1514.6,376.2 1514.8,376.2 1515.1,376.1 1515.3,376.1 1515.6,376.1 1515.8,376 1516.1,376.1 1516.3,376 1516.6,375.5 1516.8,374.1 1517.1,370.1 1517.3,362.8 1517.6,353 1517.8,343.3 1518.1,335.9 1518.3,332.2 1518.6,331.1 1518.8,331.1 1519.1,332.2 1519.3,336.6 1519.6,344.4 1519.8,354.3 1520.1,363.7 1520.3,370.3 1520.6,373.7 1520.8,375.1 1521.1,375.4 1521.3,375.5 1521.6,375.6 1521.8,375.8 1522.1,375.9 1522.3,376.1 1522.6,376 1522.8,376.2 1523.1,376.3 1523.3,376.5 1523.6,376.9 1523.8,377 1524.1,377 1524.3,377.1 1524.6,377.1 1524.8,377.2 1525.1,377.1 1525.3,377 1525.6,376.9 1525.8,376.7 1526.1,376.7 1526.3,376.6 1526.6,376.5 1526.8,376.5 1527.1,376.4 1527.3,376.3 1527.6,376.3 1527.8,376.3 1528.1,376.1 1528.3,375.8 1528.6,375 1528.8,372.4 1529.1,368 1529.3,362.5 1529.6,357.3 1529.8,353.5 1530.1,352 1530.3,351.8 1530.6,351.9 1530.8,352.7 1531.1,355.5 1531.3,360.1 1531.6,365.8 1531.8,370.9 1532.1,374.2 1532.3,375.6 1532.6,376 1532.8,376.1 1533.1,376.2 1533.3,376.3 1533.6,376.4 1533.8,376.3 1534.1,376.4 1534.3,376.6 1534.6,376.6 1534.8,376.6 1535.1,376.7 1535.3,376.8 1535.6,376.9 1535.8,376.9 1536.1,376.9 1536.3,376.7 1536.6,376.6 1536.8,376.7 1537.1,376.8 1537.3,376.7 1537.6,376.6 1537.8,376.4 1538.1,376.4 1538.3,376.4 1538.6,376.4 1538.8,376.3 1539.1,376.2 1539.3,376.1 1539.6,376 1539.8,375.8 1540.1,375.5 1540.3,374.7 1540.6,372.6 1540.8,369.3 1541.1,365.2 1541.3,361.6 1541.6,359.4 1541.8,358.5 1542.1,358.2 1542.3,358.3 1542.6,359.3 1542.8,361.6 1543.1,365.1 1543.3,369.2 1543.6,372.7 1543.8,374.7 1544.1,375.7 1544.3,376.2 1544.6,376.4 1544.8,376.5 1545.1,376.5 1545.3,376.4 1545.6,376.5 1545.8,376.4 1546.1,376.5 1546.3,376.5 1546.6,376.6 1546.8,376.6 1547.1,376.7 1547.3,376.9 1547.6,377 1547.8,376.9 1548.1,377.1 1548.3,377.1 1548.6,377 1548.8,376.9 1549.1,376.8 1549.3,376.7 1549.6,376.7 1549.8,376.8 1550.1,376.8 1550.3,376.6 1550.6,376.5 1550.8,376.4 1551.1,376.5 1551.3,376.6 1551.6,376.6 1551.8,376.5 1552.1,376.2 1552.3,375.5 1552.6,374 1552.8,372 1553.1,369.9 1553.3,368.1 1553.6,367.1 1553.8,366.8 1554.1,366.7 1554.3,367 1554.6,367.8 1554.8,369.3 1555.1,371.6 1555.3,373.9 1555.6,375.7 1555.8,376.5 1556.1,376.8 1556.3,377 1556.6,376.8 1556.8,377 1557.1,377.1 1557.3,376.9 1557.6,376.9 1557.8,376.8 1558.1,376.9 1558.3,377 1558.6,377 1558.8,377 1559.1,376.7 1559.3,376.7 1559.6,376.7 1559.8,376.7 1560.1,376.5 1560.3,376.5 1560.6,376.4 1560.8,376.3 1561.1,376.2 1561.3,376.3 1561.6,376.3 1561.8,376.3 1562.1,376.3 1562.3,376.5 1562.6,376.4 1562.8,376.4 1563.1,376.4 1563.3,376.5 1563.6,376.3 1563.8,375.6 1564.1,374.7 1564.3,373.2 1564.6,372 1564.8,371.2 1565.1,370.8 1565.3,370.8 1565.6,370.8 1565.8,371 1566.1,371.9 1566.3,372.9 1566.6,374.4 1566.8,375.6 1567.1,376.3 1567.3,376.8 1567.6,376.8 1567.8,376.8 1568.1,377 1568.3,377.1 1568.6,377.1 1568.8,377.1 1569.1,377.1 1569.3,377.1 1569.6,377 1569.8,377 1570.1,377.1 1570.3,377.1 1570.6,377 1570.8,377 1571.1,376.9 1571.3,376.9 1571.6,377.1 1571.8,377.3 1572.1,377.4 1572.3,377.4 1572.6,377.3 1572.8,377.2 1573.1,377.3 1573.3,377.3 1573.6,377.3 1573.8,377.2 1574.1,377 1574.3,377 1574.6,377 1574.8,376.9 1575.1,376.9 1575.3,376.8 1575.6,376.9 1575.8,376.5 1576.1,376.2 1576.3,375.9 1576.6,375.2 1576.8,374.8 1577.1,374.5 1577.3,374.4 1577.6,374.4 1577.8,374.4 1578.1,374.6 1578.3,374.9 1578.6,375.2 1578.8,375.7 1579.1,376 1579.3,376.4 1579.6,376.6 1579.8,376.7 1580.1,376.7 1580.3,376.8 1580.6,376.9 1580.8,376.8 1581.1,376.9 1581.3,377 1581.6,376.9 1581.8,376.8 1582.1,376.8 1582.3,376.8 1582.6,376.6 1582.8,376.5 1583.1,376.6 1583.3,376.6 1583.6,376.7 1583.8,376.7 1584.1,376.6 1584.3,376.5 1584.6,376.6 1584.8,376.6 1585.1,376.6 1585.3,376.6 1585.6,376.6 1585.8,376.5 1586.1,376.5 1586.3,376.8 1586.6,376.8 1586.8,377.1 1587.1,377.2 1587.3,377.2 1587.6,377.1 1587.8,376.9 1588.1,376.4 1588.3,375.7 1588.6,375.1 1588.8,374.7 1589.1,374.3 1589.3,374.2 1589.6,374.1 1589.8,374.3 1590.1,374.7 1590.3,375.1 1590.6,375.8 1590.8,376.3 1591.1,376.7 1591.3,376.9 1591.6,376.9 1591.8,377 1592.1,377 1592.3,377 1592.6,377 1592.8,376.9 1593.1,376.9 1593.3,377 1593.6,376.8 1593.8,376.9 1594.1,377 1594.3,377 1594.6,377 1594.8,377 1595.1,377 1595.3,376.9 1595.6,376.9" fill="none" stroke="#1674c0" stroke-width="2.7" stroke-linejoin="round" stroke-linecap="round"/>
<polyline points="2080.8,367.6 2081.1,367.5 2081.3,367.5 2081.6,367.5 2081.8,367.6 2082.1,367.5 2082.3,367.5 2082.6,367.4 2082.8,367.4 2083.1,367.3 2083.3,367.4 2083.6,367.4 2083.8,367.5 2084.1,367.4 2084.3,367.5 2084.6,367.6 2084.8,367.5 2085.1,367.5 2085.3,367.6 2085.6,367.5 2085.8,367.6 2086.1,367.6 2086.3,367.5 2086.6,367.5 2086.8,367.5 2087.1,367.7 2087.3,367.6 2087.6,367.5 2087.8,367.6 2088.1,367.3 2088.3,367.4 2088.6,367.6 2088.8,367.7 2089.1,367.7 2089.3,367.6 2089.6,367.6 2089.8,367.6 2090.1,367.6 2090.3,367.7 2090.6,367.6 2090.8,367.6 2091.1,367.4 2091.3,367.4 2091.6,367.4 2091.8,367.3 2092.1,367.3 2092.3,367.3 2092.6,367.3 2092.8,367.3 2093.1,367.2 2093.3,367.3 2093.6,367.4 2093.8,367.3 2094.1,367.4 2094.3,366.9 2094.6,366.2 2094.8,365.4 2095.1,365 2095.3,364.8 2095.6,364.8 2095.8,364.7 2096.1,364.7 2096.3,364.6 2096.6,364.9 2096.8,365.3 2097.1,366 2097.3,366.7 2097.6,367 2097.8,367 2098.1,367.1 2098.3,367 2098.6,367.1 2098.8,367.1 2099.1,367.2 2099.3,367.5 2099.6,367.5 2099.8,367.3 2100.1,367.3 2100.3,367.3 2100.6,367.5 2100.8,367.5 2101.1,367.4 2101.3,367.4 2101.6,367.2 2101.8,367.4 2102.1,367.5 2102.3,367.4 2102.6,367.5 2102.8,367.5 2103.1,367.6 2103.3,367.5 2103.6,367.7 2103.8,367.6 2104.1,367.6 2104.3,367.6 2104.6,367.7 2104.8,367.6 2105.1,367.6 2105.3,367.4 2105.6,367.3 2105.8,367.1 2106.1,366.3 2106.3,364.6 2106.6,363.2 2106.8,362.5 2107.1,362 2107.3,361.8 2107.6,361.9 2107.8,362.1 2108.1,362.3 2108.3,362.7 2108.6,363.9 2108.8,365.3 2109.1,366.6 2109.3,367.4 2109.6,367.6 2109.8,367.6 2110.1,367.6 2110.3,367.7 2110.6,367.8 2110.8,367.7 2111.1,367.9 2111.3,367.7 2111.6,367.8 2111.8,367.7 2112.1,367.8 2112.3,367.6 2112.6,367.4 2112.8,367.4 2113.1,367.3 2113.3,367.2 2113.6,367.4 2113.8,367.1 2114.1,367.1 2114.3,367 2114.6,367 2114.8,367.1 2115.1,367.1 2115.3,367.2 2115.6,367.1 2115.8,366.9 2116.1,367 2116.3,367 2116.6,367 2116.8,367 2117.1,367 2117.3,366.8 2117.6,365.5 2117.8,362.1 2118.1,357.2 2118.3,352.8 2118.6,350.2 2118.8,349.2 2119.1,348.9 2119.3,349 2119.6,348.8 2119.8,349.5 2120.1,351.7 2120.3,355.9 2120.6,360.9 2120.8,364.7 2121.1,366.3 2121.3,366.7 2121.6,366.7 2121.8,367 2122.1,367.2 2122.3,367.2 2122.6,367.1 2122.8,367.3 2123.1,367.3 2123.3,367.3 2123.6,367.4 2123.8,367.3 2124.1,367.3 2124.3,367.2 2124.6,367 2124.8,367.1 2125.1,366.9 2125.3,367 2125.6,367 2125.8,366.8 2126.1,366.8 2126.3,366.7 2126.6,366.6 2126.8,366.6 2127.1,366.6 2127.3,366.4 2127.6,366.3 2127.8,366.2 2128.1,366.1 2128.3,366 2128.6,365.9 2128.8,365 2129.1,360.7 2129.3,351.9 2129.6,341.5 2129.8,333.8 2130.1,329.9 2130.3,329 2130.6,329 2130.8,329 2131.1,329.4 2131.3,331.7 2131.6,337.8 2131.8,347.7 2132.1,357.9 2132.3,364 2132.6,365.8 2132.8,366.1 2133.1,366.2 2133.3,366.5 2133.6,366.6 2133.8,366.6 2134.1,366.7 2134.3,366.8 2134.6,366.9 2134.8,366.9 2135.1,366.8 2135.3,367.1 2135.6,366.9 2135.8,367 2136.1,366.9 2136.3,366.7 2136.6,366.7 2136.8,366.7 2137.1,366.6 2137.3,366.6 2137.6,366.4 2137.8,366.3 2138.1,366.3 2138.3,366.2 2138.6,366.3 2138.8,366 2139.1,365.8 2139.3,365.6 2139.6,365.5 2139.8,365.4 2140.1,365.3 2140.3,365.2 2140.6,364.6 2140.8,360.9 2141.1,349.8 2141.3,331.2 2141.6,313.3 2141.8,302.1 2142.1,297.5 2142.3,296.6 2142.6,296.4 2142.8,296.5 2143.1,298.5 2143.3,305.2 2143.6,319.4 2143.8,338.7 2144.1,355.1 2144.3,362.8 2144.6,364.6 2144.8,364.9 2145.1,365.1 2145.3,365.2 2145.6,365.5 2145.8,365.8 2146.1,366.1 2146.3,366.1 2146.6,366.3 2146.8,366.5 2147.1,366.7 2147.3,366.8 2147.6,366.9 2147.8,366.9 2148.1,367 2148.3,366.8 2148.6,366.8 2148.8,366.7 2149.1,366.5 2149.3,366.5 2149.6,366.3 2149.8,366.3 2150.1,366 2150.3,365.9 2150.6,365.6 2150.8,365.4 2151.1,365.2 2151.3,365.1 2151.6,364.8 2151.8,364.6 2152.1,362.9 2152.3,355.6 2152.6,337.9 2152.8,314.7 2153.1,295.9 2153.3,286.1 2153.6,282.9 2153.8,282.5 2154.1,282.6 2154.3,283.2 2154.6,287.4 2154.8,299.1 2155.1,319.4 2155.3,342.5 2155.6,358.1 2155.8,363.7 2156.1,364.7 2156.3,364.9 2156.6,365.2 2156.8,365.3 2157.1,365.5 2157.3,365.8 2157.6,365.9 2157.8,366 2158.1,366.2 2158.3,366.2 2158.6,366.3 2158.8,366.4 2159.1,366.7 2159.3,366.8 2159.6,366.9 2159.8,366.9 2160.1,366.8 2160.3,366.7 2160.6,366.6 2160.8,366.5 2161.1,366.3 2161.3,366.1 2161.6,365.8 2161.8,365.5 2162.1,365.3 2162.3,365 2162.6,364.9 2162.8,364.5 2163.1,364.3 2163.3,364.2 2163.6,363.9 2163.8,363.6 2164.1,361.5 2164.3,351.6 2164.6,327.7 2164.8,296.3 2165.1,270.9 2165.3,257.7 2165.6,253.4 2165.8,252.7 2166.1,252.7 2166.3,253.7 2166.6,259.2 2166.8,275 2167.1,302.4 2167.3,333.6 2167.6,354.6 2167.8,362.2 2168.1,363.9 2168.3,364.2 2168.6,364.4 2168.8,364.6 2169.1,364.7 2169.3,365 2169.6,365.2 2169.8,365.4 2170.1,365.7 2170.3,365.9 2170.6,366 2170.8,366.2 2171.1,366.4 2171.3,366.4 2171.6,366.3 2171.8,366.2 2172.1,366 2172.3,365.8 2172.6,365.6 2172.8,365.2 2173.1,364.9 2173.3,364.7 2173.6,364.6 2173.8,364.5 2174.1,364.1 2174.3,363.8 2174.6,363.6 2174.8,363.3 2175.1,363.1 2175.3,362.3 2175.6,356.7 2175.8,336.1 2176.1,297.6 2176.3,256.3 2176.6,228.2 2176.8,215.9 2177.1,212.7 2177.3,212.6 2177.6,212.9 2177.8,215.8 2178.1,227.9 2178.3,255.9 2178.6,297.3 2178.8,335.7 2179.1,356.4 2179.3,362.1 2179.6,363 2179.8,363.3 2180.1,363.6 2180.3,364 2180.6,364.4 2180.8,364.4 2181.1,364.6 2181.3,364.9 2181.6,365.2 2181.8,365.5 2182.1,365.6 2182.3,365.8 2182.6,366 2182.8,366.1 2183.1,366.3 2183.3,366.5 2183.6,366.4 2183.8,366.1 2184.1,365.9 2184.3,365.7 2184.6,365.4 2184.8,365.1 2185.1,365 2185.3,364.7 2185.6,364.4 2185.8,364.3 2186.1,364.1 2186.3,363.8 2186.6,363.4 2186.8,363.4 2187.1,362.3 2187.3,354.8 2187.6,331.4 2187.8,292.4 2188.1,254.4 2188.3,230.8 2188.6,221.5 2188.8,219.5 2189.1,219.2 2189.3,219.6 2189.6,223.6 2189.8,238 2190.1,267.9 2190.3,308.4 2190.6,342.6 2190.8,358.8 2191.1,362.6 2191.3,363.4 2191.6,363.7 2191.8,363.9 2192.1,364.1 2192.3,364.6 2192.6,364.8 2192.8,365.1 2193.1,365.2 2193.3,365.5 2193.6,365.7 2193.8,365.9 2194.1,366 2194.3,366.2 2194.6,366.1 2194.8,366.4 2195.1,366.5 2195.3,366.2 2195.6,366.2 2195.8,365.9 2196.1,365.7 2196.3,365.5 2196.6,365.3 2196.8,365.2 2197.1,364.9 2197.3,364.7 2197.6,364.6 2197.8,364.3 2198.1,364.2 2198.3,364 2198.6,363.8 2198.8,363.3 2199.1,361 2199.3,349.8 2199.6,322.7 2199.8,287.2 2200.1,258.3 2200.3,243.2 2200.6,238.4 2200.8,237.9 2201.1,237.9 2201.3,239 2201.6,245.3 2201.8,263.1 2202.1,294.3 2202.3,329.5 2202.6,353.2 2202.8,361.7 2203.1,363.2 2203.3,363.7 2203.6,364 2203.8,364.3 2204.1,364.6 2204.3,364.8 2204.6,365 2204.8,365.3 2205.1,365.5 2205.3,365.6 2205.6,365.8 2205.8,365.9 2206.1,366 2206.3,366.2 2206.6,366.4 2206.8,366.6 2207.1,366.6 2207.3,366.5 2207.6,366.6 2207.8,366.4 2208.1,366.3 2208.3,366.2 2208.6,365.8 2208.8,365.7 2209.1,365.4 2209.3,365.3 2209.6,365.1 2209.8,364.8 2210.1,364.6 2210.3,364.3 2210.6,363.8 2210.8,361 2211.1,348.9 2211.3,323.7 2211.6,293.6 2211.8,271.4 2212.1,260.7 2212.3,257.8 2212.6,257.4 2212.8,257.5 2213.1,259 2213.3,265.9 2213.6,283.4 2213.8,311.4 2214.1,340.3 2214.3,357.6 2214.6,363 2214.8,364.1 2215.1,364.3 2215.3,364.6 2215.6,364.8 2215.8,364.9 2216.1,365.2 2216.3,365.3 2216.6,365.6 2216.8,365.8 2217.1,365.9 2217.3,366.1 2217.6,366.2 2217.8,366.3 2218.1,366.6 2218.3,366.9 2218.6,367 2218.8,366.9 2219.1,366.9 2219.3,366.8 2219.6,366.6 2219.8,366.5 2220.1,366.4 2220.3,366.2 2220.6,365.8 2220.8,365.8 2221.1,365.7 2221.3,365.5 2221.6,365.3 2221.8,365.2 2222.1,364.4 2222.3,360.2 2222.6,346.8 2222.8,324.7 2223.1,302.9 2223.3,289.4 2223.6,284.1 2223.8,283 2224.1,283 2224.3,283.2 2224.6,285.6 2224.8,293.9 2225.1,311 2225.3,334.1 2225.6,353.6 2225.8,362.8 2226.1,364.9 2226.3,365.3 2226.6,365.3 2226.8,365.4 2227.1,365.4 2227.3,365.6 2227.6,365.8 2227.8,365.9 2228.1,365.9 2228.3,366.1 2228.6,366.1 2228.8,366.3 2229.1,366.4 2229.3,366.3 2229.6,366.4 2229.8,366.5 2230.1,366.7 2230.3,366.9 2230.6,367.1 2230.8,367 2231.1,367 2231.3,367 2231.6,367 2231.8,367 2232.1,366.7 2232.3,366.6 2232.6,366.5 2232.8,366.3 2233.1,366.2 2233.3,366.1 2233.6,366 2233.8,365.9 2234.1,364.9 2234.3,360.8 2234.6,350.3 2234.8,336.4 2235.1,325.3 2235.3,319.5 2235.6,317.6 2235.8,317.5 2236.1,317.5 2236.3,318 2236.6,320.4 2236.8,327.3 2237.1,339.4 2237.3,353 2237.6,362.2 2237.8,365.4 2238.1,366 2238.3,365.9 2238.6,366.1 2238.8,366.1 2239.1,366.2 2239.3,366.3 2239.6,366.3 2239.8,366.5 2240.1,366.5 2240.3,366.4 2240.6,366.7 2240.8,366.7 2241.1,366.9 2241.3,366.8 2241.6,366.8 2241.8,367.1 2242.1,367 2242.3,367 2242.6,367.1 2242.8,366.8 2243.1,366.8 2243.3,366.6 2243.6,366.5 2243.8,366.6 2244.1,366.3 2244.3,366.1 2244.6,366.1 2244.8,366 2245.1,366.1 2245.3,365.9 2245.6,364.5 2245.8,359 2246.1,348.9 2246.3,338.2 2246.6,331.1 2246.8,328 2247.1,327.1 2247.3,327 2247.6,327 2247.8,328 2248.1,331.2 2248.3,338.6 2248.6,349.2 2248.8,359 2249.1,364.2 2249.3,365.7 2249.6,366 2249.8,366 2250.1,366.1 2250.3,366.2 2250.6,366.3 2250.8,366.5 2251.1,366.7 2251.3,366.8 2251.6,366.9 2251.8,367 2252.1,367.1 2252.3,367 2252.6,367 2252.8,367 2253.1,367 2253.3,367.1 2253.6,367.2 2253.8,367.3 2254.1,367.2 2254.3,367.1 2254.6,367.1 2254.8,367.1 2255.1,366.9 2255.3,367 2255.6,367 2255.8,366.8 2256.1,366.8 2256.3,366.7 2256.6,366.8 2256.8,366.7 2257.1,366.4 2257.3,365.2 2257.6,361 2257.8,354 2258.1,347.5 2258.3,343.3 2258.6,341.6 2258.8,341.3 2259.1,341.3 2259.3,341.5 2259.6,342.1 2259.8,344.6 2260.1,350.1 2260.3,357.4 2260.6,363.2 2260.8,366.1 2261.1,366.6 2261.3,366.8 2261.6,367 2261.8,367 2262.1,367.1 2262.3,366.9 2262.6,366.8 2262.8,366.9 2263.1,367 2263.3,367.2 2263.6,367.2 2263.8,367.2 2264.1,367.3 2264.3,367.3 2264.6,367.3 2264.8,367.4 2265.1,367.5 2265.3,367.5 2265.6,367.4 2265.8,367.3 2266.1,367.4 2266.3,367.5 2266.6,367.5 2266.8,367.4 2267.1,367.3 2267.3,367.2 2267.6,367.3 2267.8,367.2 2268.1,367.2 2268.3,367 2268.6,366.7 2268.8,366.5 2269.1,365.6 2269.3,363.3 2269.6,359.7 2269.8,356.6 2270.1,354.8 2270.3,354.2 2270.6,354.2 2270.8,354.4 2271.1,354.5 2271.3,355 2271.6,356.3 2271.8,359.2 2272.1,362.7 2272.3,365.4 2272.6,366.5 2272.8,366.7 2273.1,366.7 2273.3,366.7 2273.6,367 2273.8,367 2274.1,367 2274.3,367 2274.6,367 2274.8,366.8 2275.1,366.8 2275.3,366.8 2275.6,366.8 2275.8,366.7 2276.1,366.9 2276.3,366.9 2276.6,367.1 2276.8,367.2 2277.1,367.3 2277.3,367.2 2277.6,367.1 2277.8,367.1 2278.1,367.2 2278.3,367.3 2278.6,367.3 2278.8,367.1 2279.1,367.1 2279.3,367.2 2279.6,367.3 2279.8,367.4 2280.1,367.3 2280.3,367.1 2280.6,366.1 2280.8,364.2 2281.1,362 2281.3,360.4 2281.6,359.8 2281.8,359.6 2282.1,359.5 2282.3,359.6 2282.6,359.8 2282.8,360.3 2283.1,361.6 2283.3,363.7 2283.6,365.8 2283.8,366.9 2284.1,367.2 2284.3,367.3 2284.6,367.3 2284.8,367.3 2285.1,367.3 2285.3,367.2 2285.6,367.4 2285.8,367.4 2286.1,367.5 2286.3,367.5 2286.6,367.5 2286.8,367.4 2287.1,367.4 2287.3,367.4 2287.6,367.5 2287.8,367.4 2288.1,367.3 2288.3,367.3 2288.6,367.3 2288.8,367.2 2289.1,367.2 2289.3,367.2 2289.6,367.2 2289.8,367.1 2290.1,367.1 2290.3,367.3 2290.6,367.2 2290.8,367.1 2291.1,367.2 2291.3,367.3 2291.6,367.3 2291.8,367.3 2292.1,367.3 2292.3,367.1 2292.6,366.1 2292.8,364.9 2293.1,363.5 2293.3,362.6 2293.6,362.3 2293.8,362.3 2294.1,362.1 2294.3,362.2 2294.6,362.2 2294.8,362.8 2295.1,363.6 2295.3,365.2 2295.6,366.3 2295.8,367 2296.1,367.2 2296.3,367.2 2296.6,367.3 2296.8,367.3 2297.1,367.3 2297.3,367.4 2297.6,367.4 2297.8,367.3 2298.1,367.2 2298.3,367.3 2298.6,367.3 2298.8,367.2 2299.1,367.4 2299.3,367.3 2299.6,367.5 2299.8,367.5 2300.1,367.6 2300.3,367.6 2300.6,367.5 2300.8,367.4 2301.1,367.6 2301.3,367.6 2301.6,367.6 2301.8,367.5 2302.1,367.4 2302.3,367.4 2302.6,367.5 2302.8,367.4 2303.1,367.5 2303.3,367.4 2303.6,367.3 2303.8,366.9 2304.1,366.2 2304.3,365.6 2304.6,365.1 2304.8,364.9 2305.1,365.1 2305.3,365.1 2305.6,365 2305.8,365 2306.1,365.3 2306.3,365.7 2306.6,366.5 2306.8,367.2 2307.1,367.4 2307.3,367.2 2307.6,367.2 2307.8,367.2 2308.1,367.3 2308.3,367.2 2308.6,367.5 2308.8,367.4 2309.1,367.4 2309.3,367.4 2309.6,367.6 2309.8,367.6 2310.1,367.5 2310.3,367.4 2310.6,367.6 2310.8,367.3 2311.1,367.2 2311.3,367.3 2311.6,367.1 2311.8,367 2312.1,367.1 2312.3,367.2 2312.6,367.2 2312.8,367.2 2313.1,367.3 2313.3,367.3 2313.6,367.4 2313.8,367.7 2314.1,367.7 2314.3,367.7 2314.6,367.7 2314.8,367.7 2315.1,367.6 2315.3,367.6 2315.6,367.7 2315.8,367.7 2316.1,367.6 2316.3,367.6 2316.6,367.5 2316.8,367.5 2317.1,367.5 2317.3,367.5 2317.6,367.6 2317.8,367.6 2318.1,367.5 2318.3,367.5 2318.6,367.5 2318.8,367.6 2319.1,367.6 2319.3,367.5 2319.6,367.4 2319.8,367.2 2320.1,367.4 2320.3,367.5 2320.6,367.4 2320.8,367.5 2321.1,367.4 2321.3,367.4 2321.6,367.5 2321.8,367.6 2322.1,367.6 2322.3,367.4 2322.6,367.4 2322.8,367.4 2323.1,367.3 2323.3,367.3" fill="none" stroke="#16a698" stroke-width="3.3" stroke-linejoin="round" stroke-linecap="round"/>
<polyline points="1354.5,677.7 1354.8,677.7 1355,677.7 1355.2,677.8 1355.5,677.8 1355.8,677.9 1356,677.8 1356.2,677.9 1356.5,678 1356.8,678 1357,678 1357.2,678 1357.5,678 1357.8,678 1358,677.9 1358.2,677.9 1358.5,677.9 1358.8,677.9 1359,677.9 1359.2,677.9 1359.5,678.1 1359.8,678 1360,678 1360.2,678.1 1360.5,678.1 1360.8,678.1 1361,678.1 1361.2,678 1361.5,678.1 1361.8,678 1362,678 1362.2,677.8 1362.5,677.7 1362.8,677.8 1363,677.8 1363.2,677.7 1363.5,677.7 1363.8,677.7 1364,677.6 1364.2,677.6 1364.5,677.7 1364.8,677.7 1365,677.7 1365.2,677.8 1365.5,677.8 1365.8,677.9 1366,677.9 1366.2,677.9 1366.5,677.9 1366.8,678 1367,678 1367.2,677.8 1367.5,677.4 1367.8,677.3 1368,676.9 1368.2,676.7 1368.5,676.5 1368.8,676.4 1369,676.3 1369.2,676.6 1369.5,676.7 1369.8,677 1370,677.3 1370.2,677.6 1370.5,677.6 1370.8,677.9 1371,677.9 1371.2,678 1371.5,677.9 1371.8,678.1 1372,678.1 1372.2,678 1372.5,678 1372.8,678 1373,677.8 1373.2,677.9 1373.5,677.8 1373.8,677.9 1374,677.8 1374.2,677.8 1374.5,677.9 1374.8,677.8 1375,678 1375.2,678 1375.5,678.1 1375.8,678.2 1376,678.1 1376.2,678 1376.5,678 1376.8,677.8 1377,677.8 1377.2,677.6 1377.5,677.6 1377.8,677.6 1378,677.5 1378.2,677.6 1378.5,677.6 1378.8,677.5 1379,677.5 1379.2,677.3 1379.5,676.9 1379.8,675.7 1380,673.8 1380.2,671.8 1380.5,670.1 1380.8,668.8 1381,668.5 1381.2,668.5 1381.5,668.7 1381.8,669.3 1382,670.7 1382.2,672.5 1382.5,674.6 1382.8,676 1383,677.2 1383.2,677.5 1383.5,677.6 1383.8,677.7 1384,677.6 1384.2,677.6 1384.5,677.8 1384.8,677.8 1385,677.8 1385.2,677.7 1385.5,677.8 1385.8,677.9 1386,677.8 1386.2,677.8 1386.5,677.8 1386.8,677.7 1387,677.5 1387.2,677.6 1387.5,677.7 1387.8,677.7 1388,677.6 1388.2,677.5 1388.5,677.4 1388.8,677.2 1389,677.1 1389.2,677.2 1389.5,677.2 1389.8,677 1390,676.8 1390.2,676.9 1390.5,676.9 1390.8,676.9 1391,676.7 1391.2,675.3 1391.5,672.7 1391.8,668.7 1392,664.5 1392.2,661.1 1392.5,659.2 1392.8,658.8 1393,658.6 1393.2,658.9 1393.5,660.4 1393.8,663.4 1394,667.5 1394.2,671.7 1394.5,675 1394.8,676.6 1395,677.2 1395.2,677.4 1395.5,677.4 1395.8,677.5 1396,677.6 1396.2,677.6 1396.5,677.6 1396.8,677.7 1397,677.7 1397.2,677.8 1397.5,677.6 1397.8,677.6 1398,677.7 1398.2,677.6 1398.5,677.5 1398.8,677.4 1399,677.2 1399.2,677.1 1399.5,676.9 1399.8,677.1 1400,677.2 1400.2,677.1 1400.5,677.2 1400.8,677.3 1401,677.3 1401.2,677.2 1401.5,677.2 1401.8,677.2 1402,677.1 1402.2,676.6 1402.5,675 1402.8,671 1403,663.9 1403.2,655 1403.5,646.7 1403.8,640.9 1404,638.3 1404.2,637.7 1404.5,637.9 1404.8,639.4 1405,643.6 1405.2,651.2 1405.5,660.3 1405.8,668.1 1406,673.4 1406.2,675.7 1406.5,676.6 1406.8,676.7 1407,676.8 1407.2,676.8 1407.5,676.9 1407.8,677 1408,677.2 1408.2,677.1 1408.5,677.2 1408.8,677.2 1409,677.3 1409.2,677.5 1409.5,677.6 1409.8,677.4 1410,677.4 1410.2,677.3 1410.5,677.3 1410.8,677.2 1411,677.2 1411.2,677.1 1411.5,677 1411.8,676.9 1412,676.9 1412.2,676.8 1412.5,676.7 1412.8,676.5 1413,676.6 1413.2,676.3 1413.5,676.2 1413.8,675.6 1414,674.5 1414.2,670.8 1414.5,662.4 1414.8,649.1 1415,632.8 1415.2,618.4 1415.5,609.4 1415.8,605.7 1416,605.1 1416.2,605.7 1416.5,609.5 1416.8,618.7 1417,632.9 1417.2,649.2 1417.5,662.6 1417.8,670.9 1418,674.5 1418.2,675.7 1418.5,676 1418.8,676.2 1419,676.3 1419.2,676.5 1419.5,676.6 1419.8,676.8 1420,676.9 1420.2,677.1 1420.5,677.2 1420.8,677.2 1421,677.3 1421.2,677.5 1421.5,677.6 1421.8,677.5 1422,677.4 1422.2,677.3 1422.5,677.1 1422.8,676.9 1423,676.7 1423.2,676.4 1423.5,676.2 1423.8,676.1 1424,676.1 1424.2,675.8 1424.5,675.6 1424.8,675.5 1425,675.5 1425.2,675.1 1425.5,674.3 1425.8,671.1 1426,662.2 1426.2,646 1426.5,624.2 1426.8,602.6 1427,586.7 1427.2,578.6 1427.5,576.6 1427.8,576.7 1428,579.5 1428.2,589.2 1428.5,606.6 1428.8,628.9 1429,649.7 1429.2,664.3 1429.5,671.7 1429.8,674.4 1430,674.9 1430.2,675.2 1430.5,675.4 1430.8,675.6 1431,675.7 1431.2,675.9 1431.5,676.3 1431.8,676.4 1432,676.6 1432.2,677 1432.5,677.1 1432.8,677.4 1433,677.4 1433.2,677.5 1433.5,677.4 1433.8,677.1 1434,677.1 1434.2,676.9 1434.5,676.6 1434.8,676.6 1435,676.2 1435.2,676.1 1435.5,675.9 1435.8,675.6 1436,675.3 1436.2,674.9 1436.5,674.6 1436.8,674.1 1437,673.5 1437.2,671.7 1437.5,665.7 1437.8,651.1 1438,625.9 1438.2,593.8 1438.5,563.4 1438.8,542.8 1439,533.4 1439.2,531.4 1439.5,532 1439.8,537.7 1440,553.7 1440.2,580.8 1440.5,613.3 1440.8,642.4 1441,661.3 1441.2,670.3 1441.5,673.3 1441.8,674.2 1442,674.6 1442.2,674.9 1442.5,675.3 1442.8,675.4 1443,675.5 1443.2,675.8 1443.5,675.8 1443.8,676.1 1444,676.2 1444.2,676.4 1444.5,676.6 1444.8,676.8 1445,677.1 1445.2,677.3 1445.5,676.9 1445.8,676.8 1446,676.6 1446.2,676.4 1446.5,676.3 1446.8,676.1 1447,675.8 1447.2,675.4 1447.5,675.3 1447.8,675.1 1448,674.7 1448.2,674.4 1448.5,674.1 1448.8,673.3 1449,670.8 1449.2,663.3 1449.5,646.4 1449.8,618.5 1450,585.3 1450.2,556 1450.5,537.3 1450.8,529.6 1451,528.4 1451.2,529.5 1451.5,537.1 1451.8,555.8 1452,585.2 1452.2,618.5 1452.5,646.3 1452.8,663.3 1453,670.8 1453.2,673.3 1453.5,673.9 1453.8,674.4 1454,674.5 1454.2,674.7 1454.5,674.9 1454.8,675.1 1455,675.4 1455.2,675.7 1455.5,675.8 1455.8,676.2 1456,676.4 1456.2,676.7 1456.5,676.9 1456.8,676.9 1457,676.9 1457.2,676.6 1457.5,676.7 1457.8,676.6 1458,676.3 1458.2,676 1458.5,675.8 1458.8,675.6 1459,675.4 1459.2,675.2 1459.5,675 1459.8,674.6 1460,674.4 1460.2,674.1 1460.5,673.2 1460.8,670.4 1461,662 1461.2,644.3 1461.5,616.9 1461.8,586.3 1462,560.7 1462.2,545.6 1462.5,540.2 1462.8,539.7 1463,541.4 1463.2,550.3 1463.5,569.7 1463.8,598.2 1464,628.5 1464.2,652.3 1464.5,665.9 1464.8,671.5 1465,673.3 1465.2,673.8 1465.5,674.2 1465.8,674.4 1466,674.7 1466.2,675.1 1466.5,675.3 1466.8,675.8 1467,676 1467.2,676.4 1467.5,676.7 1467.8,676.8 1468,677.2 1468.2,677.4 1468.5,677.5 1468.8,677.4 1469,677.2 1469.2,676.9 1469.5,676.7 1469.8,676.5 1470,676.2 1470.2,675.9 1470.5,675.7 1470.8,675.4 1471,675.1 1471.2,674.7 1471.5,674.4 1471.8,674 1472,673.5 1472.2,671.9 1472.5,666.2 1472.8,652.2 1473,628.1 1473.2,597.1 1473.5,568.2 1473.8,548.4 1474,539.4 1474.2,537.4 1474.5,538 1474.8,543.6 1475,559 1475.2,584.9 1475.5,616.1 1475.8,644 1476,662.1 1476.2,670.5 1476.5,673.4 1476.8,674.1 1477,674.4 1477.2,674.6 1477.5,674.8 1477.8,675.2 1478,675.3 1478.2,675.5 1478.5,675.9 1478.8,676.1 1479,676.4 1479.2,676.7 1479.5,676.9 1479.8,677.1 1480,677.3 1480.2,677.4 1480.5,677.3 1480.8,677.1 1481,676.9 1481.2,676.7 1481.5,676.5 1481.8,676.3 1482,676.2 1482.2,675.9 1482.5,675.8 1482.8,675.7 1483,675.5 1483.2,675.4 1483.5,675 1483.8,674.5 1484,672.7 1484.2,666.9 1484.5,654.1 1484.8,632.7 1485,607.4 1485.2,585.1 1485.5,570.9 1485.8,565.1 1486,564.1 1486.2,565 1486.5,570.8 1486.8,585.1 1487,607.5 1487.2,632.8 1487.5,653.8 1487.8,666.6 1488,672.4 1488.2,674.3 1488.5,674.7 1488.8,675 1489,675.3 1489.2,675.5 1489.5,675.7 1489.8,676 1490,676.3 1490.2,676.3 1490.5,676.5 1490.8,676.7 1491,676.7 1491.2,676.7 1491.5,676.8 1491.8,677 1492,677.1 1492.2,676.9 1492.5,676.9 1492.8,676.6 1493,676.6 1493.2,676.5 1493.5,676.4 1493.8,676.3 1494,676.3 1494.2,676 1494.5,675.8 1494.8,675.6 1495,675.7 1495.2,675.5 1495.5,674.9 1495.8,672.8 1496,667 1496.2,654.7 1496.5,635.8 1496.8,614.4 1497,596.7 1497.2,585.9 1497.5,582 1497.8,581.7 1498,582.9 1498.2,589.1 1498.5,602.5 1498.8,622.3 1499,643.5 1499.2,660.1 1499.5,669.7 1499.8,673.7 1500,674.9 1500.2,675.5 1500.5,675.5 1500.8,675.6 1501,675.9 1501.2,676 1501.5,676.2 1501.8,676.4 1502,676.6 1502.2,676.7 1502.5,676.8 1502.8,677.2 1503,677.4 1503.2,677.4 1503.5,677.5 1503.8,677.5 1504,677.6 1504.2,677.3 1504.5,677.4 1504.8,677.4 1505,677 1505.2,677.1 1505.5,677.1 1505.8,677.1 1506,677 1506.2,676.8 1506.5,676.6 1506.8,676.3 1507,676.2 1507.2,675.8 1507.5,674 1507.8,669.1 1508,659.5 1508.2,646 1508.5,631.5 1508.8,620.4 1509,614.3 1509.2,612.3 1509.5,612.4 1509.8,613.6 1510,618.7 1510.2,629 1510.5,643 1510.8,657.2 1511,667.6 1511.2,673.1 1511.5,675.3 1511.8,675.9 1512,676.2 1512.2,676.4 1512.5,676.6 1512.8,676.8 1513,677 1513.2,676.9 1513.5,677.1 1513.8,677.2 1514,677.3 1514.2,677.3 1514.5,677.4 1514.8,677.5 1515,677.5 1515.2,677.6 1515.5,677.8 1515.8,677.6 1516,677.5 1516.2,677.6 1516.5,677.4 1516.8,677.4 1517,677.2 1517.2,677.3 1517.5,677.2 1517.8,677 1518,676.9 1518.2,676.7 1518.5,676.4 1518.8,675.9 1519,674.4 1519.2,670.8 1519.5,664.3 1519.8,655.9 1520,648.2 1520.2,642.9 1520.5,640.6 1520.8,640.1 1521,640.5 1521.2,641.8 1521.5,645.8 1521.8,652.5 1522,660.9 1522.2,668.4 1522.5,673.3 1522.8,675.6 1523,676.4 1523.2,676.5 1523.5,676.7 1523.8,676.8 1524,677 1524.2,677.1 1524.5,677.3 1524.8,677.3 1525,677.4 1525.2,677.5 1525.5,677.6 1525.8,677.7 1526,677.8 1526.2,677.7 1526.5,677.8 1526.8,677.6 1527,677.7 1527.2,677.6 1527.5,677.6 1527.8,677.6 1528,677.7 1528.2,677.6 1528.5,677.7 1528.8,677.6 1529,677.6 1529.2,677.3 1529.5,677.3 1529.8,677.3 1530,677.2 1530.2,676.9 1530.5,676.5 1530.8,674.6 1531,670.9 1531.2,664.9 1531.5,657.7 1531.8,651.4 1532,647.3 1532.2,645.7 1532.5,645.4 1532.8,645.5 1533,647.3 1533.2,651.4 1533.5,657.8 1533.8,664.9 1534,670.8 1534.2,674.4 1534.5,676 1534.8,676.5 1535,676.8 1535.2,676.8 1535.5,676.9 1535.8,677 1536,677.2 1536.2,677.3 1536.5,677.4 1536.8,677.7 1537,677.9 1537.2,677.9 1537.5,678.1 1537.8,678.3 1538,678.3 1538.2,678.4 1538.5,678.4 1538.8,678.4 1539,678.2 1539.2,678.1 1539.5,678 1539.8,677.9 1540,677.8 1540.2,677.9 1540.5,677.7 1540.8,677.8 1541,677.9 1541.2,677.7 1541.5,677.7 1541.8,677.8 1542,677.7 1542.2,677.2 1542.5,675.9 1542.8,673.9 1543,671.1 1543.2,668.1 1543.5,666 1543.8,665 1544,664.6 1544.2,664.7 1544.5,665.1 1544.8,666.5 1545,668.7 1545.2,671.7 1545.5,674.4 1545.8,676.3 1546,677.2 1546.2,677.6 1546.5,677.7 1546.8,677.7 1547,677.7 1547.2,677.6 1547.5,677.6 1547.8,677.7 1548,677.6 1548.2,677.6 1548.5,677.5 1548.8,677.5 1549,677.6 1549.2,677.6 1549.5,677.5 1549.8,677.6 1550,677.7 1550.2,677.7 1550.5,677.7 1550.8,677.8 1551,677.8 1551.2,677.8 1551.5,677.8 1551.8,677.8 1552,677.7 1552.2,677.5 1552.5,677.6 1552.8,677.5 1553,677.5 1553.2,677.6 1553.5,677.6 1553.8,677.4 1554,677 1554.2,676.1 1554.5,674.5 1554.8,672.4 1555,670.4 1555.2,669 1555.5,668.2 1555.8,668 1556,668.1 1556.2,668.4 1556.5,669.5 1556.8,671.2 1557,673.4 1557.2,675.3 1557.5,676.4 1557.8,677.2 1558,677.4 1558.2,677.3 1558.5,677.5 1558.8,677.5 1559,677.6 1559.2,677.7 1559.5,677.9 1559.8,678.1 1560,677.8 1560.2,677.8 1560.5,677.9 1560.8,677.9 1561,677.7 1561.2,677.8 1561.5,677.8 1561.8,677.8 1562,677.8 1562.2,678 1562.5,677.9 1562.8,677.8 1563,677.8 1563.2,678.1 1563.5,678 1563.8,677.9 1564,678 1564.2,677.9 1564.5,677.9 1564.8,678 1565,677.9 1565.2,677.9 1565.5,677.3 1565.8,676.5 1566,675.4 1566.2,674.1 1566.5,673.1 1566.8,672.3 1567,672.1 1567.2,672.1 1567.5,672 1567.8,672.4 1568,673.3 1568.2,674.5 1568.5,675.8 1568.8,676.8 1569,677.5 1569.2,677.8 1569.5,677.9 1569.8,677.8 1570,678 1570.2,678 1570.5,678.2 1570.8,678.1 1571,678.1 1571.2,678 1571.5,677.9 1571.8,677.9 1572,678 1572.2,678.1 1572.5,678.1 1572.8,677.9 1573,678 1573.2,678 1573.5,678 1573.8,678.1 1574,677.9 1574.2,678 1574.5,677.8 1574.8,677.6 1575,677.8 1575.2,677.8 1575.5,677.7 1575.8,677.7 1576,677.6 1576.2,677.7 1576.5,677.6 1576.8,677.6 1577,677.8 1577.2,677.6 1577.5,677.4 1577.8,677 1578,676.6 1578.2,676.2 1578.5,676.1 1578.8,676.2 1579,676.3 1579.2,676.2 1579.5,676.3 1579.8,676.5 1580,677.1 1580.2,677.4 1580.5,677.9 1580.8,678 1581,678 1581.2,677.8 1581.5,678 1581.8,678.1 1582,678.1 1582.2,678 1582.5,678.2 1582.8,678 1583,677.9 1583.2,677.9 1583.5,678 1583.8,677.9 1584,677.9 1584.2,677.9 1584.5,677.8 1584.8,677.8 1585,677.8 1585.2,677.9 1585.5,677.9 1585.8,677.9 1586,678 1586.2,678.1 1586.5,678.1 1586.8,678.2 1587,678.2 1587.2,678.2 1587.5,678.1 1587.8,678.1 1588,678 1588.2,677.9 1588.5,677.8 1588.8,677.7 1589,677.4 1589.2,677.1 1589.5,676.7 1589.8,676.4 1590,676.2 1590.2,676.1 1590.5,676 1590.8,676.1 1591,676.2 1591.2,676.4 1591.5,676.7 1591.8,677.2 1592,677.5 1592.2,677.6 1592.5,677.8 1592.8,677.8 1593,677.7 1593.2,677.7 1593.5,677.8 1593.8,677.9 1594,677.9 1594.2,677.9 1594.5,678 1594.8,678.2 1595,678.2 1595.2,678.3 1595.5,678.3 1595.8,678.2" fill="none" stroke="#1674c0" stroke-width="2.7" stroke-linejoin="round" stroke-linecap="round"/>
<polyline points="2078.2,671.7 2078.4,671.6 2078.7,671.5 2078.9,671.3 2079.2,671.5 2079.4,671.3 2079.7,671.2 2079.9,671.3 2080.2,671.7 2080.4,671.7 2080.7,672 2080.9,672.5 2081.2,672.6 2081.4,672.2 2081.7,672.4 2081.9,672.2 2082.2,672.2 2082.4,672.3 2082.7,672.6 2082.9,672.5 2083.2,671.8 2083.4,671.9 2083.7,672.5 2083.9,672.5 2084.2,672.7 2084.4,672.7 2084.7,672.7 2084.9,672.5 2085.2,672.4 2085.4,673.2 2085.7,673.4 2085.9,673 2086.2,672.8 2086.4,672.6 2086.7,672.1 2086.9,671.6 2087.2,671.9 2087.4,671.7 2087.7,671 2087.9,670.6 2088.2,671 2088.4,671.3 2088.7,671.6 2088.9,671.9 2089.2,671.9 2089.4,671.3 2089.7,671.7 2089.9,671.7 2090.2,671.7 2090.4,671 2090.7,671 2090.9,670.8 2091.2,670.8 2091.4,671.2 2091.7,670.9 2091.9,670.4 2092.2,670 2092.4,668.9 2092.7,667.3 2092.9,665.6 2093.2,664.7 2093.4,664.9 2093.7,664.6 2093.9,665.3 2094.2,666 2094.4,666.6 2094.7,668.1 2094.9,669.9 2095.2,671.1 2095.4,671.6 2095.7,671.6 2095.9,671.9 2096.2,671.8 2096.4,671.5 2096.7,671.6 2096.9,671.3 2097.2,671.2 2097.4,671.3 2097.7,671.5 2097.9,671.3 2098.2,671.5 2098.4,671.6 2098.7,672.1 2098.9,672.4 2099.2,672.3 2099.4,672.3 2099.7,672.5 2099.9,672.5 2100.2,672.6 2100.4,672.2 2100.7,671.8 2100.9,671.6 2101.2,671.6 2101.4,672.2 2101.7,672.3 2101.9,671.7 2102.2,671.2 2102.4,670.6 2102.7,670.9 2102.9,671.5 2103.2,671 2103.4,671.1 2103.7,670.8 2103.9,671 2104.2,671.4 2104.4,671.8 2104.7,672.4 2104.9,671.4 2105.2,671 2105.4,671.5 2105.7,671.5 2105.9,671.3 2106.2,671.2 2106.4,671.1 2106.7,671.3 2106.9,671.2 2107.2,672.2 2107.4,672 2107.7,671.5 2107.9,671.2 2108.2,671.6 2108.4,671.5 2108.7,672 2108.9,672 2109.2,672.3 2109.4,671.7 2109.7,672.1 2109.9,672.4 2110.2,672.1 2110.4,672 2110.7,671.8 2110.9,671.4 2111.2,671 2111.4,670.6 2111.7,670.9 2111.9,670.3 2112.2,669.9 2112.4,670.8 2112.7,670.3 2112.9,670.1 2113.2,670.4 2113.4,670.2 2113.7,670.6 2113.9,670.5 2114.2,670.6 2114.4,671 2114.7,670.9 2114.9,671.3 2115.2,671.5 2115.4,670.5 2115.7,667.8 2115.9,661.1 2116.2,654.6 2116.4,650.4 2116.7,648.6 2116.9,647.9 2117.2,647.8 2117.4,647.3 2117.7,649 2117.9,652.7 2118.2,659.5 2118.4,665.6 2118.7,669.3 2118.9,669.9 2119.2,669.9 2119.4,670 2119.7,670.8 2119.9,670.6 2120.2,671 2120.4,670.9 2120.7,671.3 2120.9,671.1 2121.2,671.2 2121.4,670.9 2121.7,670.8 2121.9,670.9 2122.2,671 2122.4,670.6 2122.7,670.8 2122.9,670.5 2123.2,670.1 2123.4,670.9 2123.7,671.2 2123.9,671.1 2124.2,671.1 2124.4,670.9 2124.7,671.3 2124.9,671.3 2125.2,671.5 2125.4,671.2 2125.7,671 2125.9,671 2126.2,670.7 2126.4,670.4 2126.7,670.7 2126.9,670.4 2127.2,670.7 2127.4,670.3 2127.7,669.2 2127.9,663.3 2128.2,652.6 2128.4,642 2128.7,636 2128.9,633.9 2129.2,633.6 2129.4,632.9 2129.7,633.7 2129.9,636.8 2130.2,644.2 2130.4,655 2130.7,665.5 2130.9,670.1 2131.2,670.7 2131.4,670.8 2131.7,670.8 2131.9,670.7 2132.2,670.8 2132.4,670.3 2132.7,671 2132.9,670.7 2133.2,670.6 2133.4,670.6 2133.7,670.7 2133.9,670.9 2134.2,671.1 2134.4,671 2134.7,671.2 2134.9,670.9 2135.2,671 2135.4,670.5 2135.7,670.7 2135.9,670 2136.2,670 2136.4,670.2 2136.7,670.6 2136.9,670.3 2137.2,670.1 2137.4,670.2 2137.7,670 2137.9,670 2138.2,670.5 2138.4,670.2 2138.7,669.7 2138.9,669 2139.2,668.9 2139.4,665.5 2139.7,653 2139.9,632.6 2140.2,614.2 2140.4,604.6 2140.7,602.7 2140.9,602.6 2141.2,602.8 2141.4,603.8 2141.7,609.8 2141.9,624.1 2142.2,645.8 2142.4,662.7 2142.7,669 2142.9,669.8 2143.2,669.8 2143.4,669.8 2143.7,670.1 2143.9,670.1 2144.2,671.1 2144.4,671 2144.7,671 2144.9,671.2 2145.2,671.2 2145.4,671.5 2145.7,671.8 2145.9,671.8 2146.2,672.1 2146.4,671.5 2146.7,671.1 2146.9,670.3 2147.2,670.3 2147.4,669.9 2147.7,669.6 2147.9,669 2148.2,668.4 2148.4,668.2 2148.7,668.1 2148.9,667.7 2149.2,668.3 2149.4,668 2149.7,668.5 2149.9,668.2 2150.2,668.5 2150.4,668.7 2150.7,668.5 2150.9,668.6 2151.2,667 2151.4,656 2151.7,627.7 2151.9,591.3 2152.2,565.8 2152.4,554.9 2152.7,552.8 2152.9,552.6 2153.2,552.8 2153.4,557.5 2153.7,573.7 2153.9,604.8 2154.2,640.1 2154.4,661.4 2154.7,667.6 2154.9,668 2155.2,668.3 2155.4,668.8 2155.7,669 2155.9,669.2 2156.2,669.2 2156.4,669.4 2156.7,669.6 2156.9,669.6 2157.2,670.4 2157.4,670.5 2157.7,670.5 2157.9,671 2158.2,671.2 2158.4,671.4 2158.7,671.7 2158.9,671.2 2159.2,671 2159.4,670.7 2159.7,670.7 2159.9,669.9 2160.2,669.6 2160.4,669.4 2160.7,668.8 2160.9,667.9 2161.2,668.3 2161.4,668.1 2161.7,667.5 2161.9,667.1 2162.2,667 2162.4,666.9 2162.7,666 2162.9,665.9 2163.2,661.3 2163.4,639.6 2163.7,599.6 2163.9,559.7 2164.2,536.7 2164.4,529 2164.7,527.3 2164.9,527.8 2165.2,529.2 2165.4,539.3 2165.7,566.3 2165.9,608.2 2166.2,645.2 2166.4,661.7 2166.7,665.4 2166.9,666.3 2167.2,667.2 2167.4,667.4 2167.7,667.1 2167.9,667.4 2168.2,667.5 2168.4,668.5 2168.7,668.9 2168.9,669.1 2169.2,669.1 2169.4,669.1 2169.7,669.6 2169.9,670.4 2170.2,670.5 2170.4,671.5 2170.7,671 2170.9,670.5 2171.2,670.4 2171.4,670.8 2171.7,669.9 2171.9,669.5 2172.2,669.2 2172.4,669.2 2172.7,668.4 2172.9,668.2 2173.2,668.5 2173.4,668.1 2173.7,667.2 2173.9,667.4 2174.2,667.4 2174.4,667 2174.7,667 2174.9,666.1 2175.2,661.3 2175.4,639 2175.7,596.4 2175.9,554.8 2176.2,530.7 2176.4,522.5 2176.7,521.4 2176.9,521.1 2177.2,523 2177.4,533.1 2177.7,561.4 2177.9,605.6 2178.2,644.8 2178.4,662.4 2178.7,665.7 2178.9,666.1 2179.2,666.3 2179.4,666.1 2179.7,667.2 2179.9,667.7 2180.2,667.9 2180.4,667.4 2180.7,668.1 2180.9,668.6 2181.2,668.7 2181.4,668.9 2181.7,670.1 2181.9,670.1 2182.2,670.2 2182.4,670.7 2182.7,671.8 2182.9,670.8 2183.2,670.6 2183.4,670.5 2183.7,670.5 2183.9,669.7 2184.2,669.5 2184.4,669.2 2184.7,667.9 2184.9,667.5 2185.2,667.3 2185.4,667.4 2185.7,666.8 2185.9,666.6 2186.2,666.5 2186.4,666 2186.7,663.8 2186.9,652.9 2187.2,623.3 2187.4,586.5 2187.7,559.1 2187.9,548.7 2188.2,546.4 2188.4,546.7 2188.7,547.4 2188.9,552.7 2189.2,569.8 2189.4,602.5 2189.7,638.7 2189.9,661.4 2190.2,667.1 2190.4,667.7 2190.7,667.8 2190.9,667.9 2191.2,668.5 2191.4,669.1 2191.7,669.4 2191.9,669.8 2192.2,670.1 2192.4,670.7 2192.7,670.6 2192.9,670.9 2193.2,671.3 2193.4,671 2193.7,670.6 2193.9,670.5 2194.2,670.8 2194.4,670.7 2194.7,670 2194.9,670.4 2195.2,670 2195.4,670.1 2195.7,670.2 2195.9,670.2 2196.2,670 2196.4,669.6 2196.7,669.1 2196.9,669.9 2197.2,669.3 2197.4,668.9 2197.7,668.1 2197.9,668 2198.2,668 2198.4,665.2 2198.7,649.3 2198.9,614.7 2199.2,575.1 2199.4,549.7 2199.7,541 2199.9,539.1 2200.2,538.7 2200.4,539.3 2200.7,546.6 2200.9,568.4 2201.2,605.5 2201.4,643.4 2201.7,663.5 2201.9,667.8 2202.2,669.3 2202.4,669.9 2202.7,669.9 2202.9,669.8 2203.2,669.6 2203.4,669.7 2203.7,669.8 2203.9,670.4 2204.2,670.4 2204.4,670 2204.7,669.7 2204.9,669.9 2205.2,669.9 2205.4,670.7 2205.7,671 2205.9,670.3 2206.2,670.3 2206.4,670 2206.7,670 2206.9,670 2207.2,670.1 2207.4,670.2 2207.7,669.6 2207.9,669.9 2208.2,670 2208.4,669.7 2208.7,669.4 2208.9,669.2 2209.2,669.2 2209.4,668.5 2209.7,668.1 2209.9,668.3 2210.2,667.6 2210.4,667.1 2210.7,662.8 2210.9,645.8 2211.2,612.1 2211.4,578.4 2211.7,559.6 2211.9,552.7 2212.2,551.8 2212.4,552.7 2212.7,554.1 2212.9,562.2 2213.2,584.4 2213.4,619 2213.7,650.8 2213.9,664.8 2214.2,668.2 2214.4,668.4 2214.7,667.6 2214.9,667.9 2215.2,669.1 2215.4,669.2 2215.7,669.2 2215.9,669.5 2216.2,670.3 2216.4,670.6 2216.7,671 2216.9,671.6 2217.2,671.9 2217.4,671.1 2217.7,670.8 2217.9,671.8 2218.2,671.2 2218.4,670.6 2218.7,670.3 2218.9,669.5 2219.2,669.6 2219.4,669.4 2219.7,669.7 2219.9,670.2 2220.2,669.2 2220.4,669.2 2220.7,669.2 2220.9,669.3 2221.2,669.1 2221.4,668.8 2221.7,668.9 2221.9,668.4 2222.2,667.9 2222.4,663.2 2222.7,645.3 2222.9,615.6 2223.2,588.9 2223.4,575.6 2223.7,571.8 2223.9,570.9 2224.2,571.1 2224.4,572.5 2224.7,581.6 2224.9,603.1 2225.2,632.8 2225.4,657.1 2225.7,666.3 2225.9,667.6 2226.2,668.1 2226.4,668.6 2226.7,669.3 2226.9,669.5 2227.2,669.5 2227.4,670 2227.7,669.7 2227.9,669.5 2228.2,669.7 2228.4,669.6 2228.7,669.6 2228.9,669.5 2229.2,669.3 2229.4,669.3 2229.7,669.3 2229.9,669.8 2230.2,670.2 2230.4,670.4 2230.7,670.1 2230.9,669.4 2231.2,669.1 2231.4,669.8 2231.7,670 2231.9,670 2232.2,669.9 2232.4,669.3 2232.7,669.3 2232.9,669.7 2233.2,670.2 2233.4,669.9 2233.7,669 2233.9,668.7 2234.2,668.5 2234.4,668.3 2234.7,667.7 2234.9,660.6 2235.2,642.3 2235.4,619.7 2235.7,604.1 2235.9,597.2 2236.2,595.7 2236.4,596 2236.7,596.2 2236.9,599.1 2237.2,609.4 2237.4,629.6 2237.7,651.8 2237.9,665.4 2238.2,669.5 2238.4,669.9 2238.7,669.4 2238.9,669.7 2239.2,670 2239.4,670.3 2239.7,669.7 2239.9,669.9 2240.2,669.5 2240.4,669.9 2240.7,670.6 2240.9,671.4 2241.2,671.3 2241.4,671 2241.7,671 2241.9,671.4 2242.2,671.2 2242.4,671.6 2242.7,671.2 2242.9,670.7 2243.2,670.4 2243.4,670.5 2243.7,670.6 2243.9,670.5 2244.2,670.4 2244.4,671 2244.7,671.1 2244.9,671.3 2245.2,671.6 2245.4,671.5 2245.7,671.3 2245.9,671.2 2246.2,670.7 2246.4,670.8 2246.7,669.2 2246.9,663.5 2247.2,649 2247.4,630.7 2247.7,617.7 2247.9,612.1 2248.2,610.4 2248.4,611 2248.7,610.8 2248.9,613.7 2249.2,621.6 2249.4,637.7 2249.7,655.6 2249.9,666.1 2250.2,668.8 2250.4,669.3 2250.7,669 2250.9,669.5 2251.2,668.5 2251.4,669.3 2251.7,668.8 2251.9,669 2252.2,669.3 2252.4,669.6 2252.7,670 2252.9,670 2253.2,669.9 2253.4,670.5 2253.7,669.8 2253.9,669.8 2254.2,669.5 2254.4,669.8 2254.7,669.9 2254.9,669.8 2255.2,670.4 2255.4,670.5 2255.7,670.5 2255.9,670.9 2256.2,671.4 2256.4,671.9 2256.7,671.8 2256.9,672.1 2257.2,672.4 2257.4,671.8 2257.7,672 2257.9,672.4 2258.2,671.2 2258.4,668 2258.7,660.9 2258.9,653.9 2259.2,649.7 2259.4,648 2259.7,648.1 2259.9,648 2260.2,647.8 2260.4,649.8 2260.7,654.2 2260.9,661.3 2261.2,667.7 2261.4,670.3 2261.7,671.1 2261.9,671.5 2262.2,671.4 2262.4,671.2 2262.7,670.9 2262.9,670.3 2263.2,670.2 2263.4,670.1 2263.7,670.2 2263.9,669.9 2264.2,669.4 2264.4,669.6 2264.7,669.8 2264.9,670.3 2265.2,670.9 2265.4,671.1 2265.7,671.4 2265.9,671.5 2266.2,671.6 2266.4,672 2266.7,671.9 2266.9,672.1 2267.2,672 2267.4,671.3 2267.7,671.2 2267.9,671.2 2268.2,671.5 2268.4,671.6 2268.7,671.6 2268.9,671.3 2269.2,671.4 2269.4,671.6 2269.7,672.2 2269.9,671.5 2270.2,669.2 2270.4,665.5 2270.7,662.5 2270.9,660.6 2271.2,660.4 2271.4,660.6 2271.7,660.1 2271.9,660.6 2272.2,661.9 2272.4,665.2 2272.7,668.8 2272.9,671.8 2273.2,673 2273.4,673 2273.7,673.1 2273.9,673.2 2274.2,673.2 2274.4,672.9 2274.7,672.6 2274.9,672.9 2275.2,672.4 2275.4,672.4 2275.7,672.5 2275.9,672.1 2276.2,672.1 2276.4,671.4 2276.7,671.5 2276.9,671.6 2277.2,671.2 2277.4,671.3 2277.7,671.3 2277.9,671.3 2278.2,671.6 2278.4,671.3 2278.7,671.2 2278.9,671.2 2279.2,670.8 2279.4,670.3 2279.7,670.7 2279.9,670.7 2280.2,670.7 2280.4,670.5 2280.7,671.2 2280.9,671.3 2281.2,671.6 2281.4,671.7 2281.7,671.3 2281.9,668.2 2282.2,665.6 2282.4,663.7 2282.7,663.2 2282.9,662.6 2283.2,663.1 2283.4,663.2 2283.7,663.5 2283.9,664.9 2284.2,667.5 2284.4,670 2284.7,671.7 2284.9,672 2285.2,671.5 2285.4,671.5 2285.7,671.1 2285.9,670.9 2286.2,671.1 2286.4,671.6 2286.7,672.1 2286.9,671.9 2287.2,671.2 2287.4,671.8 2287.7,671.4 2287.9,671.6 2288.2,671.6 2288.4,671.6 2288.7,671 2288.9,670.4 2289.2,670.5 2289.4,670.3 2289.7,670.3 2289.9,671.1 2290.2,670.9 2290.4,671.3 2290.7,671.2 2290.9,671.8 2291.2,672.1 2291.4,672 2291.7,672.7 2291.9,672.8 2292.2,672.3 2292.4,672.2 2292.7,672 2292.9,672.2 2293.2,672 2293.4,672.2 2293.7,672.4 2293.9,672.2 2294.2,672 2294.4,672.1 2294.7,671.5 2294.9,671.4 2295.2,671.3 2295.4,671.6 2295.7,671.3 2295.9,671.8 2296.2,672.5 2296.4,672.2 2296.7,672.2 2296.9,672.5 2297.2,672.7 2297.4,672.4 2297.7,672.1 2297.9,671.5 2298.2,671.3 2298.4,670.6 2298.7,670.7 2298.9,671 2299.2,671 2299.4,670.6 2299.7,670.7 2299.9,670.5 2300.2,671.2 2300.4,670.3 2300.7,670.6 2300.9,670.7 2301.2,670.5 2301.4,670.8 2301.7,671.1 2301.9,671.1 2302.2,670.2 2302.4,668.6 2302.7,668 2302.9,667.2 2303.2,667.2 2303.4,667.3 2303.7,667.1 2303.9,667.1 2304.2,668 2304.4,669.5 2304.7,670.9 2304.9,672 2305.2,672.6 2305.4,673 2305.7,672.6 2305.9,673 2306.2,673 2306.4,672.3 2306.7,672 2306.9,671.8 2307.2,671.6 2307.4,671.7 2307.7,671.5 2307.9,671.8 2308.2,671 2308.4,670.7 2308.7,671 2308.9,670.8 2309.2,670.9 2309.4,671.3 2309.7,670.8 2309.9,670.8 2310.2,670.9 2310.4,671.2 2310.7,670.8 2310.9,671 2311.2,671 2311.4,671.5 2311.7,670.9 2311.9,671.1 2312.2,670.8 2312.4,670.9 2312.7,671.1 2312.9,672.2 2313.2,672.3 2313.4,672.7 2313.7,672.7 2313.9,672.8 2314.2,672.6 2314.4,672.2 2314.7,671.4 2314.9,671.2 2315.2,671.1 2315.4,671 2315.7,670.9 2315.9,670.4 2316.2,670.3 2316.4,670.7 2316.7,671.1 2316.9,671.8 2317.2,672.4 2317.4,672.2 2317.7,672.2 2317.9,671.9 2318.2,672.2 2318.4,672.5 2318.7,672.1 2318.9,671.7 2319.2,672 2319.4,671.3 2319.7,671.2 2319.9,671.3 2320.2,671.8 2320.4,672 2320.7,672.1 2320.9,672.1 2321.2,672.5 2321.4,672.3 2321.7,672.6 2321.9,673 2322.2,673.1 2322.4,672.7 2322.7,672.6 2322.9,672.3 2323.2,672.7 2323.4,672.7 2323.7,672.5 2323.9,672.3 2324.2,672 2324.4,671.8 2324.7,671.8" fill="none" stroke="#16a698" stroke-width="3.4" stroke-linejoin="round" stroke-linecap="round"/>
<polyline points="626.5,617 627.3,657.5 628.1,579.6 628.9,636.5 629.7,591 630.5,642.3 631.3,585.6 632.1,615.8 632.9,616.6 633.7,635.8 634.5,595.4 635.3,616.5 636.1,576.9 636.9,616.8 637.7,565.9 638.5,637.7 639.3,580.1 640.1,613.5 640.9,613.5 641.7,638 642.5,613.4 643.3,644.5 644.1,585.8 644.9,614.3 645.7,549.6 646.5,626 647.3,558.8 648.1,638.1 648.9,543.5 649.7,626.5 650.5,576.6 651.3,611.8 652.1,568.8 652.9,613 653.7,560.8 654.5,642.1 655.3,579.9 656.1,622.4 656.9,567 657.7,623.3 658.5,554.7 659.3,606.2 660.1,547.9 660.9,606.6 661.7,573 662.5,634.5 663.3,551.9 664.1,629.9 664.9,574.9 665.7,637.7 666.5,571.7 667.3,636.7 668.1,511 668.9,614.3 669.7,563.4 670.5,628.9 671.3,564.3 672.1,632.9 672.9,575.2 673.7,603.9 674.5,603.3 675.3,619.4 676.1,572.3 676.9,602.8 677.7,533.3 678.5,620 679.3,559.4 680.1,633.1 680.9,549.9 681.7,623.2 682.5,533.9 683.3,620.3 684.1,606.8 684.9,608.1 685.7,544.1 686.5,629.6 687.3,554 688.1,638.5 688.9,614.2 689.7,615.9 690.5,614.6 691.3,634.8 692.1,592.6 692.9,637.3 693.7,577.4 694.5,638.7 695.3,567.9 696.1,631.3 696.9,613.7 697.7,638.3 698.5,614.4 699.3,647.5 700.1,584.5 700.9,628.1 701.7,511 702.5,627.7 703.3,570.5 704.1,647 704.9,616.1 705.7,636.6 706.5,569.2 707.3,663.4 708.1,620.3 708.9,649.9 709.7,584.5 710.5,653.9 711.3,624.4 712.1,636.7 712.9,596.1 713.7,623.7 714.5,579 715.3,625.3 716.1,577.4 716.9,670.5 717.7,592.7 718.5,659.9 719.3,604.6 720.1,654.2 720.9,628.4 721.7,643.2 722.5,603.7 723.3,655.4 724.1,584.2 724.9,649.8 725.7,590.4 726.5,651.1 727.3,593.2 728.1,642.4 728.9,566 729.7,625.6 730.5,625.5 731.3,658.5 732.1,574.7 732.9,676 733.7,603.4 734.5,649.3 735.3,626.6 736.1,663.3 736.9,575.8 737.7,623.8 738.5,622.4 739.3,659.3 740.1,624.5 740.9,652.7 741.7,581.6 742.5,644.8 743.3,624.2 744.1,638.3 744.9,596.1 745.7,643.2 746.5,597.7 747.3,648.2 748.1,598.1 748.9,646.5 749.7,599.5 750.5,659.6 751.3,611.3 752.1,658.7 752.9,593.9 753.7,629.6 754.5,590.2 755.3,645 756.1,584.9 756.9,662.2 757.7,626.5 758.5,649.6 759.3,567.7 760.1,624.7 760.9,599 761.7,653.6 762.5,598.5 763.3,624.9 764.1,593.4 764.9,642.6 765.7,584.8 766.5,623.8 767.3,625.3 768.1,647.9 768.9,599.1 769.7,644.6 770.5,630.3 771.3,664 772.1,605.6 772.9,633.4 773.7,613.8 774.5,650.9 775.3,615 776.1,637 776.9,590.9 777.7,636.4 778.5,595.7 779.3,667.2 780.1,589.8 780.9,650.2 781.7,595.9 782.5,652.8 783.3,601.9 784.1,630.7 784.9,553.1 785.7,662.6 786.5,630.5 787.3,632 788.1,632.8 788.9,663.5 789.7,589.5 790.5,676 791.3,634 792.1,632.7 792.9,606.7 793.7,651.9 794.5,631.1 795.3,654.6 796.1,600.8 796.9,643.1 797.7,612.1 798.5,649.6 799.3,593.3 800.1,625.3 800.9,625.1 801.7,641.3 802.5,568 803.3,667.1 804.1,581.5 804.9,624.2 805.7,591.3 806.5,625.2 807.3,626.1 808.1,643.7 808.9,595.7 809.7,624.5 810.5,625.3 811.3,624.9 812.1,594.6 812.9,636.7 813.7,575.3 814.5,646.3 815.3,579 816.1,645.9 816.9,610.2 817.7,655.9 818.5,591.4 819.3,644.9 820.1,623.3 820.9,645.1 821.7,622.1 822.5,621.8 823.3,569.4 824.1,647.3 824.9,602.2 825.7,649.9 826.5,587.5 827.3,618 828.1,618 828.9,643.6 829.7,616 830.5,617 831.3,573.8 832.1,636.4 832.9,576.4 833.7,638.5 834.5,619.2 835.3,616.9 836.1,585.4 836.9,615.3 837.7,545.7 838.5,614.6 839.3,578.7 840.1,652.2 840.9,547.2 841.7,629.8 842.5,574.7 843.3,627 844.1,615.1 844.9,634.2 845.7,582.1 846.5,628.7 847.3,614.9 848.1,616 848.9,580.3 849.7,644.4 850.5,569.1 851.3,633.2 852.1,618.3 852.9,644.4 853.7,562.6 854.5,617.9 855.3,578.1 856.1,629.9 856.9,597.1 857.7,644.6 858.5,615.7 859.3,627.8 860.1,615.1 860.9,648.4 861.7,597 862.5,650.5 863.3,589.3 864.1,628.8 864.9,586.3 865.7,640.3 866.5,592.5 867.3,633.9 868.1,581.8 868.9,624.9 869.7,568.9 870.5,649.3 871.3,611.7 872.1,629.4 872.9,569.7 873.7,634.8 874.5,596.7" fill="none" stroke="#000" stroke-width="2.4" stroke-linejoin="miter" stroke-miterlimit="3" />
<path d="M653.3 212.6L627.5 212.6L627.5 238.4 M845.7 212.6L871.5 212.6L871.5 238.4 M653.3 432.2L627.5 432.2L627.5 406.4 M845.7 432.2L871.5 432.2L871.5 406.4 M718.1 212.6L780.9 212.6 M718.1 432.2L780.9 432.2 M627.5 294.2L627.5 350.6 M871.5 294.2L871.5 350.6" stroke="#000" stroke-width="3.8" fill="none" stroke-linecap="butt" stroke-linejoin="miter"/>
<path d="M1377 211.7L1351.2 211.7L1351.2 237.5 M1570.2 211.7L1596 211.7L1596 237.5 M1377 430.2L1351.2 430.2L1351.2 404.4 M1570.2 430.2L1596 430.2L1596 404.4 M1442.1 211.7L1505.1 211.7 M1442.1 430.2L1505.1 430.2 M1351.2 292.9L1351.2 349 M1596 292.9L1596 349" stroke="#000" stroke-width="3.8" fill="none" stroke-linecap="butt" stroke-linejoin="miter"/>
<path d="M2107.3 207.5L2081.5 207.5L2081.5 233.3 M2300.2 207.5L2326 207.5L2326 233.3 M2107.3 426.3L2081.5 426.3L2081.5 400.5 M2300.2 426.3L2326 426.3L2326 400.5 M2172.3 207.5L2235.2 207.5 M2172.3 426.3L2235.2 426.3 M2081.5 288.8L2081.5 345 M2326 288.8L2326 345" stroke="#000" stroke-width="3.8" fill="none" stroke-linecap="butt" stroke-linejoin="miter"/>
<path d="M653.3 510.4L627.5 510.4L627.5 536.2 M846.9 510.4L872.7 510.4L872.7 536.2 M653.3 729.2L627.5 729.2L627.5 703.4 M846.9 729.2L872.7 729.2L872.7 703.4 M718.6 510.4L781.6 510.4 M718.6 729.2L781.6 729.2 M627.5 591.7L627.5 647.9 M872.7 591.7L872.7 647.9" stroke="#000" stroke-width="3.8" fill="none" stroke-linecap="butt" stroke-linejoin="miter"/>
<path d="M1377 518.8L1351.2 518.8L1351.2 544.6 M1571.4 518.8L1597.2 518.8L1597.2 544.6 M1377 736.8L1351.2 736.8L1351.2 711 M1571.4 736.8L1597.2 736.8L1597.2 711 M1442.6 518.8L1505.8 518.8 M1442.6 736.8L1505.8 736.8 M1351.2 599.8L1351.2 655.8 M1597.2 599.8L1597.2 655.8" stroke="#000" stroke-width="3.8" fill="none" stroke-linecap="butt" stroke-linejoin="miter"/>
<path d="M2104.7 512.3L2078.9 512.3L2078.9 538.1 M2297.7 512.3L2323.5 512.3L2323.5 538.1 M2104.7 730.3L2078.9 730.3L2078.9 704.5 M2297.7 730.3L2323.5 730.3L2323.5 704.5 M2169.8 512.3L2232.6 512.3 M2169.8 730.3L2232.6 730.3 M2078.9 593.3L2078.9 649.3 M2323.5 593.3L2323.5 649.3" stroke="#000" stroke-width="3.8" fill="none" stroke-linecap="butt" stroke-linejoin="miter"/>
<text transform="translate(679.7,420.9) scale(1.0,1.05)" font-size="42.5" font-weight="bold" font-style="normal" fill="#000" >893</text>
<text transform="translate(777.2,421.1) scale(1.0,1.0)" font-size="42" font-weight="bold" font-style="italic" fill="#000" >m/z</text>
<text transform="translate(1403.7,419.3) scale(1.0,1.05)" font-size="42.5" font-weight="bold" font-style="normal" fill="#000" >893</text>
<text transform="translate(1501.6,420.1) scale(1.0,1.0)" font-size="42" font-weight="bold" font-style="italic" fill="#000" >m/z</text>
<text transform="translate(2135.2,414.7) scale(1.0,1.05)" font-size="42.5" font-weight="bold" font-style="normal" fill="#000" >893</text>
<text transform="translate(2231.7,415.5) scale(1.0,1.0)" font-size="42" font-weight="bold" font-style="italic" fill="#000" >m/z</text>
<text transform="translate(680.1,718.3) scale(1.0,1.05)" font-size="42.5" font-weight="bold" font-style="normal" fill="#000" >893</text>
<text transform="translate(777.9,718.7) scale(1.0,1.0)" font-size="42" font-weight="bold" font-style="italic" fill="#000" >m/z</text>
<text transform="translate(1405.1,725.6) scale(1.0,1.05)" font-size="42.5" font-weight="bold" font-style="normal" fill="#000" >893</text>
<text transform="translate(1501.6,726.5) scale(1.0,1.0)" font-size="42" font-weight="bold" font-style="italic" fill="#000" >m/z</text>
<text transform="translate(2131.4,719.9) scale(1.0,1.05)" font-size="42.5" font-weight="bold" font-style="normal" fill="#000" >893</text>
<text transform="translate(2229.2,720.7) scale(1.0,1.0)" font-size="42" font-weight="bold" font-style="italic" fill="#000" >m/z</text>
<g fill="#000">
<rect x="160.5" y="189" width="4" height="622"/>
<rect x="2337" y="190" width="4" height="621"/>
<rect x="885.3" y="189" width="4.6" height="622"/>
<rect x="1612.5" y="190" width="4.2" height="621"/>
<rect x="160.5" y="189" width="727" height="4"/>
<rect x="886" y="190" width="1455" height="4"/>
<rect x="160.5" y="498.6" width="2180.5" height="4.2"/>
<rect x="160.5" y="807.2" width="2180.5" height="4.2"/>
<rect x="147.8" y="192.5" width="14.2" height="6.6"/>
<rect x="149.5" y="337.4" width="12.5" height="6.6"/>
<rect x="151.2" y="511" width="10.8" height="6.6"/>
<rect x="151.8" y="642.4" width="10.2" height="6.6"/>
<rect x="193" y="809" width="8.2" height="12.3"/>
<rect x="484" y="809" width="8.2" height="12.3"/>
<rect x="774.5" y="809" width="8.2" height="12.3"/>
<rect x="919.7" y="809" width="8.2" height="12.3"/>
<rect x="1211" y="809" width="8.2" height="12.3"/>
<rect x="1502" y="809" width="8.2" height="12.3"/>
<rect x="1644.5" y="809" width="8.2" height="12.3"/>
<rect x="1936.8" y="809" width="8.2" height="12.3"/>
<rect x="2227.2" y="809" width="8.2" height="12.3"/>
</g>
<text transform="translate(81.4,218.5) scale(0.985,1.06)" font-size="42.5" font-weight="bold" font-style="normal" fill="#000" >3.0</text>
<text transform="translate(85.5,351.4) scale(0.985,1.06)" font-size="42.5" font-weight="bold" font-style="normal" fill="#000" >1.5</text>
<text transform="translate(85.6,532.7) scale(0.985,1.06)" font-size="42.5" font-weight="bold" font-style="normal" fill="#000" >3.0</text>
<text transform="translate(85.5,656.5) scale(0.985,1.06)" font-size="42.5" font-weight="bold" font-style="normal" fill="#000" >1.5</text>
<text transform="translate(159,868) scale(1.16,1)" font-size="51.5" font-weight="bold">600</text>
<text transform="translate(430.2,868) scale(1.16,1)" font-size="51.5" font-weight="bold">1400</text>
<text transform="translate(717.5,868) scale(1.16,1)" font-size="51.5" font-weight="bold">2200</text>
<text transform="translate(878.5,868) scale(1.16,1)" font-size="51.5" font-weight="bold">600</text>
<text transform="translate(1149.6,868) scale(1.16,1)" font-size="51.5" font-weight="bold">1400</text>
<text transform="translate(1436.9,868) scale(1.16,1)" font-size="51.5" font-weight="bold">2200</text>
<text transform="translate(1602.6,868) scale(1.16,1)" font-size="51.5" font-weight="bold">600</text>
<text transform="translate(1873.9,868) scale(1.16,1)" font-size="51.5" font-weight="bold">1400</text>
<text transform="translate(2162.2,868) scale(1.16,1)" font-size="51.5" font-weight="bold">2200</text>
<text x="1168" y="931.5" font-size="52" font-weight="normal" font-style="italic" fill="#000" text-anchor="start" >m/z</text>
<text transform="translate(49.7,687.4) rotate(-90)" font-size="52" font-weight="bold">Intensity <tspan x="230.8" y="-0.9" font-size="51">(</tspan><tspan x="248.4" y="-2.6" font-size="48">10</tspan><tspan x="305.2" y="-19.8" font-size="27.5">+8</tspan><tspan x="347.7" y="-0.9" font-size="51">)</tspan></text>
<text transform="translate(179.5,249) scale(0.92,1.09)" font-size="59" font-weight="bold" font-style="normal" fill="#000" >a</text>
<text x="252.4" y="251.2" font-size="51" font-weight="bold" font-style="normal" fill="#000" text-anchor="start" >In-house</text>
<text x="251.8" y="312.2" font-size="51" font-weight="bold" font-style="normal" fill="#000" text-anchor="start" >Antibody</text>
<text x="178.1" y="566.4" font-size="59" font-weight="bold" font-style="normal" fill="#000" text-anchor="start" >b</text>
<text x="249.8" y="561.1" font-size="51" font-weight="bold" font-style="normal" fill="#000" text-anchor="start" >Gentle Elution</text>
<text x="249.1" y="622.8" font-size="51" font-weight="bold" font-style="normal" fill="#000" text-anchor="start" >Buffer</text>
</svg>
</body></html>
